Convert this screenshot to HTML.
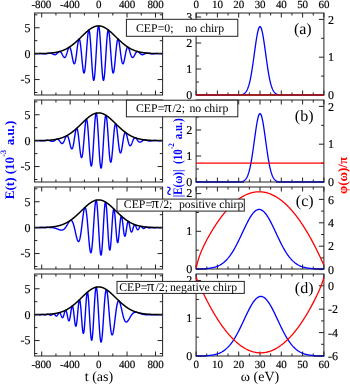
<!DOCTYPE html>
<html><head><meta charset="utf-8"><title>Figure</title>
<style>
html,body{margin:0;padding:0;background:#fff;}
svg{display:block}
text{font-family:"Liberation Serif",serif;text-rendering:geometricPrecision}
.tk{font-size:11px;letter-spacing:-0.15px;stroke:#000;stroke-width:0.15px}
.ty{font-size:12px;stroke:#000;stroke-width:0.15px}
.lg{font-size:11.8px}
.pl{font-size:16px}
.ax{font-size:14px}
.yl{font-size:13px;font-weight:bold}
</style></head><body>
<svg width="350" height="385" viewBox="0 0 350 385">
<rect width="350" height="385" fill="#fff"/>
<g>
<path d="M34.60,53.68 L34.71,53.68 L34.81,53.68 L34.92,53.68 L35.03,53.68 L35.13,53.68 L35.24,53.68 L35.35,53.68 L35.45,53.68 L35.56,53.68 L35.67,53.68 L35.77,53.68 L35.88,53.68 L35.99,53.68 L36.09,53.68 L36.20,53.68 L36.31,53.67 L36.41,53.67 L36.52,53.67 L36.63,53.67 L36.73,53.67 L36.84,53.66 L36.95,53.66 L37.05,53.66 L37.16,53.66 L37.27,53.65 L37.37,53.65 L37.48,53.65 L37.59,53.64 L37.69,53.64 L37.80,53.63 L37.91,53.63 L38.01,53.63 L38.12,53.62 L38.23,53.62 L38.33,53.61 L38.44,53.61 L38.55,53.61 L38.65,53.60 L38.76,53.60 L38.87,53.59 L38.97,53.59 L39.08,53.59 L39.19,53.58 L39.29,53.58 L39.40,53.58 L39.51,53.57 L39.61,53.57 L39.72,53.57 L39.83,53.57 L39.93,53.57 L40.04,53.57 L40.15,53.57 L40.25,53.57 L40.36,53.57 L40.47,53.57 L40.57,53.57 L40.68,53.57 L40.79,53.57 L40.89,53.57 L41.00,53.58 L41.11,53.58 L41.21,53.58 L41.32,53.59 L41.43,53.59 L41.53,53.60 L41.64,53.61 L41.75,53.61 L41.85,53.62 L41.96,53.63 L42.07,53.64 L42.17,53.64 L42.28,53.65 L42.39,53.66 L42.49,53.67 L42.60,53.68 L42.71,53.69 L42.81,53.70 L42.92,53.71 L43.03,53.72 L43.13,53.73 L43.24,53.74 L43.35,53.75 L43.45,53.77 L43.56,53.78 L43.67,53.79 L43.77,53.79 L43.88,53.80 L43.99,53.81 L44.09,53.82 L44.20,53.83 L44.31,53.84 L44.41,53.84 L44.52,53.85 L44.63,53.85 L44.73,53.86 L44.84,53.86 L44.95,53.86 L45.05,53.86 L45.16,53.86 L45.27,53.86 L45.37,53.86 L45.48,53.86 L45.59,53.85 L45.69,53.85 L45.80,53.84 L45.91,53.83 L46.01,53.82 L46.12,53.81 L46.23,53.80 L46.33,53.79 L46.44,53.77 L46.55,53.76 L46.65,53.74 L46.76,53.72 L46.87,53.70 L46.97,53.68 L47.08,53.66 L47.19,53.64 L47.29,53.62 L47.40,53.59 L47.51,53.57 L47.61,53.55 L47.72,53.52 L47.83,53.50 L47.93,53.47 L48.04,53.45 L48.15,53.42 L48.25,53.40 L48.36,53.37 L48.47,53.35 L48.57,53.33 L48.68,53.30 L48.79,53.28 L48.89,53.26 L49.00,53.24 L49.11,53.23 L49.21,53.21 L49.32,53.20 L49.43,53.18 L49.53,53.17 L49.64,53.17 L49.75,53.16 L49.85,53.15 L49.96,53.15 L50.07,53.15 L50.17,53.16 L50.28,53.16 L50.39,53.17 L50.49,53.18 L50.60,53.20 L50.71,53.21 L50.81,53.23 L50.92,53.26 L51.03,53.28 L51.13,53.31 L51.24,53.34 L51.35,53.38 L51.45,53.41 L51.56,53.45 L51.67,53.49 L51.77,53.53 L51.88,53.58 L51.99,53.63 L52.09,53.68 L52.20,53.73 L52.31,53.78 L52.41,53.83 L52.52,53.88 L52.63,53.94 L52.73,53.99 L52.84,54.05 L52.95,54.10 L53.05,54.16 L53.16,54.21 L53.27,54.26 L53.37,54.31 L53.48,54.36 L53.59,54.41 L53.69,54.46 L53.80,54.50 L53.91,54.54 L54.01,54.57 L54.12,54.61 L54.23,54.64 L54.33,54.66 L54.44,54.68 L54.55,54.70 L54.65,54.71 L54.76,54.72 L54.87,54.72 L54.97,54.71 L55.08,54.70 L55.19,54.69 L55.29,54.67 L55.40,54.64 L55.51,54.61 L55.61,54.57 L55.72,54.53 L55.83,54.48 L55.93,54.42 L56.04,54.36 L56.15,54.29 L56.25,54.22 L56.36,54.14 L56.47,54.06 L56.57,53.98 L56.68,53.89 L56.79,53.79 L56.89,53.69 L57.00,53.59 L57.11,53.49 L57.21,53.38 L57.32,53.27 L57.43,53.16 L57.53,53.05 L57.64,52.94 L57.75,52.83 L57.85,52.72 L57.96,52.61 L58.07,52.50 L58.17,52.40 L58.28,52.30 L58.39,52.20 L58.49,52.11 L58.60,52.02 L58.71,51.94 L58.81,51.86 L58.92,51.79 L59.03,51.73 L59.13,51.68 L59.24,51.63 L59.35,51.59 L59.45,51.56 L59.56,51.54 L59.67,51.54 L59.77,51.54 L59.88,51.55 L59.99,51.57 L60.09,51.61 L60.20,51.65 L60.31,51.71 L60.41,51.77 L60.52,51.85 L60.63,51.94 L60.73,52.04 L60.84,52.15 L60.95,52.28 L61.05,52.41 L61.16,52.55 L61.27,52.70 L61.37,52.86 L61.48,53.03 L61.59,53.21 L61.69,53.39 L61.80,53.58 L61.91,53.77 L62.01,53.97 L62.12,54.17 L62.23,54.38 L62.33,54.59 L62.44,54.80 L62.55,55.00 L62.65,55.21 L62.76,55.42 L62.87,55.62 L62.97,55.81 L63.08,56.00 L63.19,56.19 L63.29,56.37 L63.40,56.53 L63.51,56.69 L63.61,56.84 L63.72,56.97 L63.83,57.10 L63.93,57.20 L64.04,57.30 L64.15,57.38 L64.25,57.44 L64.36,57.48 L64.47,57.51 L64.57,57.52 L64.68,57.51 L64.79,57.48 L64.89,57.43 L65.00,57.36 L65.11,57.27 L65.21,57.16 L65.32,57.03 L65.43,56.88 L65.53,56.71 L65.64,56.53 L65.75,56.32 L65.85,56.10 L65.96,55.86 L66.07,55.60 L66.17,55.33 L66.28,55.04 L66.39,54.74 L66.49,54.42 L66.60,54.10 L66.71,53.76 L66.81,53.42 L66.92,53.07 L67.03,52.71 L67.13,52.35 L67.24,51.99 L67.35,51.63 L67.45,51.27 L67.56,50.92 L67.67,50.57 L67.77,50.22 L67.88,49.89 L67.99,49.56 L68.09,49.25 L68.20,48.96 L68.31,48.68 L68.41,48.42 L68.52,48.17 L68.63,47.95 L68.73,47.76 L68.84,47.58 L68.95,47.44 L69.05,47.32 L69.16,47.22 L69.27,47.16 L69.37,47.13 L69.48,47.13 L69.59,47.16 L69.69,47.22 L69.80,47.32 L69.91,47.45 L70.01,47.61 L70.12,47.80 L70.23,48.03 L70.33,48.29 L70.44,48.58 L70.55,48.90 L70.65,49.25 L70.76,49.63 L70.87,50.03 L70.97,50.47 L71.08,50.92 L71.19,51.40 L71.29,51.90 L71.40,52.42 L71.51,52.95 L71.61,53.50 L71.72,54.06 L71.83,54.62 L71.93,55.20 L72.04,55.78 L72.15,56.35 L72.25,56.93 L72.36,57.50 L72.47,58.07 L72.57,58.62 L72.68,59.16 L72.79,59.68 L72.89,60.19 L73.00,60.67 L73.11,61.12 L73.21,61.55 L73.32,61.95 L73.43,62.32 L73.53,62.65 L73.64,62.94 L73.75,63.19 L73.85,63.41 L73.96,63.58 L74.07,63.70 L74.17,63.78 L74.28,63.81 L74.39,63.79 L74.49,63.72 L74.60,63.60 L74.71,63.43 L74.81,63.21 L74.92,62.95 L75.03,62.63 L75.13,62.26 L75.24,61.85 L75.35,61.39 L75.45,60.88 L75.56,60.33 L75.67,59.74 L75.77,59.11 L75.88,58.45 L75.99,57.75 L76.09,57.01 L76.20,56.25 L76.31,55.47 L76.41,54.66 L76.52,53.84 L76.63,53.00 L76.73,52.15 L76.84,51.30 L76.95,50.44 L77.05,49.58 L77.16,48.74 L77.27,47.90 L77.37,47.07 L77.48,46.27 L77.59,45.49 L77.69,44.73 L77.80,44.01 L77.91,43.32 L78.01,42.67 L78.12,42.07 L78.23,41.51 L78.33,41.00 L78.44,40.55 L78.55,40.15 L78.65,39.81 L78.76,39.53 L78.87,39.31 L78.97,39.16 L79.08,39.08 L79.19,39.07 L79.29,39.12 L79.40,39.25 L79.51,39.45 L79.61,39.72 L79.72,40.05 L79.83,40.46 L79.93,40.94 L80.04,41.48 L80.15,42.09 L80.25,42.77 L80.36,43.50 L80.47,44.30 L80.57,45.14 L80.68,46.04 L80.79,46.99 L80.89,47.98 L81.00,49.02 L81.11,50.08 L81.21,51.18 L81.32,52.30 L81.43,53.45 L81.53,54.61 L81.64,55.78 L81.75,56.95 L81.85,58.12 L81.96,59.28 L82.07,60.44 L82.17,61.57 L82.28,62.68 L82.39,63.76 L82.49,64.80 L82.60,65.80 L82.71,66.76 L82.81,67.66 L82.92,68.51 L83.03,69.30 L83.13,70.02 L83.24,70.67 L83.35,71.25 L83.45,71.74 L83.56,72.16 L83.67,72.50 L83.77,72.75 L83.88,72.91 L83.99,72.98 L84.09,72.96 L84.20,72.84 L84.31,72.64 L84.41,72.34 L84.52,71.95 L84.63,71.47 L84.73,70.90 L84.84,70.24 L84.95,69.49 L85.05,68.67 L85.16,67.76 L85.27,66.78 L85.37,65.72 L85.48,64.60 L85.59,63.42 L85.69,62.17 L85.80,60.88 L85.91,59.54 L86.01,58.16 L86.12,56.74 L86.23,55.30 L86.33,53.83 L86.44,52.36 L86.55,50.87 L86.65,49.39 L86.76,47.91 L86.87,46.45 L86.97,45.01 L87.08,43.60 L87.19,42.22 L87.29,40.89 L87.40,39.61 L87.51,38.38 L87.61,37.22 L87.72,36.12 L87.83,35.10 L87.93,34.16 L88.04,33.31 L88.15,32.54 L88.25,31.87 L88.36,31.30 L88.47,30.83 L88.57,30.46 L88.68,30.20 L88.79,30.05 L88.89,30.01 L89.00,30.09 L89.11,30.27 L89.21,30.57 L89.32,30.98 L89.43,31.50 L89.53,32.12 L89.64,32.86 L89.75,33.69 L89.85,34.63 L89.96,35.66 L90.07,36.78 L90.17,38.00 L90.28,39.29 L90.39,40.66 L90.49,42.09 L90.60,43.59 L90.71,45.15 L90.81,46.76 L90.92,48.40 L91.03,50.09 L91.13,51.79 L91.24,53.52 L91.35,55.26 L91.45,56.99 L91.56,58.72 L91.67,60.44 L91.77,62.13 L91.88,63.79 L91.99,65.41 L92.09,66.98 L92.20,68.50 L92.31,69.95 L92.41,71.33 L92.52,72.64 L92.63,73.86 L92.73,74.99 L92.84,76.03 L92.95,76.96 L93.05,77.79 L93.16,78.50 L93.27,79.10 L93.37,79.59 L93.48,79.95 L93.59,80.19 L93.69,80.31 L93.80,80.30 L93.91,80.16 L94.01,79.90 L94.12,79.52 L94.23,79.01 L94.33,78.38 L94.44,77.63 L94.55,76.76 L94.65,75.79 L94.76,74.70 L94.87,73.52 L94.97,72.23 L95.08,70.86 L95.19,69.40 L95.29,67.87 L95.40,66.26 L95.51,64.59 L95.61,62.86 L95.72,61.09 L95.83,59.28 L95.93,57.44 L96.04,55.57 L96.15,53.70 L96.25,51.82 L96.36,49.94 L96.47,48.08 L96.57,46.25 L96.68,44.44 L96.79,42.68 L96.89,40.97 L97.00,39.31 L97.11,37.72 L97.21,36.21 L97.32,34.77 L97.43,33.42 L97.53,32.17 L97.64,31.01 L97.75,29.96 L97.85,29.03 L97.96,28.21 L98.07,27.50 L98.17,26.93 L98.28,26.47 L98.39,26.15 L98.49,25.95 L98.60,25.89 L98.71,25.95 L98.81,26.15 L98.92,26.47 L99.03,26.93 L99.13,27.50 L99.24,28.21 L99.35,29.03 L99.45,29.96 L99.56,31.01 L99.67,32.17 L99.77,33.42 L99.88,34.77 L99.99,36.21 L100.09,37.72 L100.20,39.31 L100.31,40.97 L100.41,42.68 L100.52,44.44 L100.63,46.25 L100.73,48.08 L100.84,49.94 L100.95,51.82 L101.05,53.70 L101.16,55.57 L101.27,57.44 L101.37,59.28 L101.48,61.09 L101.59,62.86 L101.69,64.59 L101.80,66.26 L101.91,67.87 L102.01,69.40 L102.12,70.86 L102.23,72.23 L102.33,73.52 L102.44,74.70 L102.55,75.79 L102.65,76.76 L102.76,77.63 L102.87,78.38 L102.97,79.01 L103.08,79.52 L103.19,79.90 L103.29,80.16 L103.40,80.30 L103.51,80.31 L103.61,80.19 L103.72,79.95 L103.83,79.59 L103.93,79.10 L104.04,78.50 L104.15,77.79 L104.25,76.96 L104.36,76.03 L104.47,74.99 L104.57,73.86 L104.68,72.64 L104.79,71.33 L104.89,69.95 L105.00,68.50 L105.11,66.98 L105.21,65.41 L105.32,63.79 L105.43,62.13 L105.53,60.44 L105.64,58.72 L105.75,56.99 L105.85,55.26 L105.96,53.52 L106.07,51.79 L106.17,50.09 L106.28,48.40 L106.39,46.76 L106.49,45.15 L106.60,43.59 L106.71,42.09 L106.81,40.66 L106.92,39.29 L107.03,38.00 L107.13,36.78 L107.24,35.66 L107.35,34.63 L107.45,33.69 L107.56,32.86 L107.67,32.12 L107.77,31.50 L107.88,30.98 L107.99,30.57 L108.09,30.27 L108.20,30.09 L108.31,30.01 L108.41,30.05 L108.52,30.20 L108.63,30.46 L108.73,30.83 L108.84,31.30 L108.95,31.87 L109.05,32.54 L109.16,33.31 L109.27,34.16 L109.37,35.10 L109.48,36.12 L109.59,37.22 L109.69,38.38 L109.80,39.61 L109.91,40.89 L110.01,42.22 L110.12,43.60 L110.23,45.01 L110.33,46.45 L110.44,47.91 L110.55,49.39 L110.65,50.87 L110.76,52.36 L110.87,53.83 L110.97,55.30 L111.08,56.74 L111.19,58.16 L111.29,59.54 L111.40,60.88 L111.51,62.17 L111.61,63.42 L111.72,64.60 L111.83,65.72 L111.93,66.78 L112.04,67.76 L112.15,68.67 L112.25,69.49 L112.36,70.24 L112.47,70.90 L112.57,71.47 L112.68,71.95 L112.79,72.34 L112.89,72.64 L113.00,72.84 L113.11,72.96 L113.21,72.98 L113.32,72.91 L113.43,72.75 L113.53,72.50 L113.64,72.16 L113.75,71.74 L113.85,71.25 L113.96,70.67 L114.07,70.02 L114.17,69.30 L114.28,68.51 L114.39,67.66 L114.49,66.76 L114.60,65.80 L114.71,64.80 L114.81,63.76 L114.92,62.68 L115.03,61.57 L115.13,60.44 L115.24,59.28 L115.35,58.12 L115.45,56.95 L115.56,55.78 L115.67,54.61 L115.77,53.45 L115.88,52.30 L115.99,51.18 L116.09,50.08 L116.20,49.02 L116.31,47.98 L116.41,46.99 L116.52,46.04 L116.63,45.14 L116.73,44.30 L116.84,43.50 L116.95,42.77 L117.05,42.09 L117.16,41.48 L117.27,40.94 L117.37,40.46 L117.48,40.05 L117.59,39.72 L117.69,39.45 L117.80,39.25 L117.91,39.12 L118.01,39.07 L118.12,39.08 L118.23,39.16 L118.33,39.31 L118.44,39.53 L118.55,39.81 L118.65,40.15 L118.76,40.55 L118.87,41.00 L118.97,41.51 L119.08,42.07 L119.19,42.67 L119.29,43.32 L119.40,44.01 L119.51,44.73 L119.61,45.49 L119.72,46.27 L119.83,47.07 L119.93,47.90 L120.04,48.74 L120.15,49.58 L120.25,50.44 L120.36,51.30 L120.47,52.15 L120.57,53.00 L120.68,53.84 L120.79,54.66 L120.89,55.47 L121.00,56.25 L121.11,57.01 L121.21,57.75 L121.32,58.45 L121.43,59.11 L121.53,59.74 L121.64,60.33 L121.75,60.88 L121.85,61.39 L121.96,61.85 L122.07,62.26 L122.17,62.63 L122.28,62.95 L122.39,63.21 L122.49,63.43 L122.60,63.60 L122.71,63.72 L122.81,63.79 L122.92,63.81 L123.03,63.78 L123.13,63.70 L123.24,63.58 L123.35,63.41 L123.45,63.19 L123.56,62.94 L123.67,62.65 L123.77,62.32 L123.88,61.95 L123.99,61.55 L124.09,61.12 L124.20,60.67 L124.31,60.19 L124.41,59.68 L124.52,59.16 L124.63,58.62 L124.73,58.07 L124.84,57.50 L124.95,56.93 L125.05,56.35 L125.16,55.78 L125.27,55.20 L125.37,54.62 L125.48,54.06 L125.59,53.50 L125.69,52.95 L125.80,52.42 L125.91,51.90 L126.01,51.40 L126.12,50.92 L126.23,50.47 L126.33,50.03 L126.44,49.63 L126.55,49.25 L126.65,48.90 L126.76,48.58 L126.87,48.29 L126.97,48.03 L127.08,47.80 L127.19,47.61 L127.29,47.45 L127.40,47.32 L127.51,47.22 L127.61,47.16 L127.72,47.13 L127.83,47.13 L127.93,47.16 L128.04,47.22 L128.15,47.32 L128.25,47.44 L128.36,47.58 L128.47,47.76 L128.57,47.95 L128.68,48.17 L128.79,48.42 L128.89,48.68 L129.00,48.96 L129.11,49.25 L129.21,49.56 L129.32,49.89 L129.43,50.22 L129.53,50.57 L129.64,50.92 L129.75,51.27 L129.85,51.63 L129.96,51.99 L130.07,52.35 L130.17,52.71 L130.28,53.07 L130.39,53.42 L130.49,53.76 L130.60,54.10 L130.71,54.42 L130.81,54.74 L130.92,55.04 L131.03,55.33 L131.13,55.60 L131.24,55.86 L131.35,56.10 L131.45,56.32 L131.56,56.53 L131.67,56.71 L131.77,56.88 L131.88,57.03 L131.99,57.16 L132.09,57.27 L132.20,57.36 L132.31,57.43 L132.41,57.48 L132.52,57.51 L132.63,57.52 L132.73,57.51 L132.84,57.48 L132.95,57.44 L133.05,57.38 L133.16,57.30 L133.27,57.20 L133.37,57.10 L133.48,56.97 L133.59,56.84 L133.69,56.69 L133.80,56.53 L133.91,56.37 L134.01,56.19 L134.12,56.00 L134.23,55.81 L134.33,55.62 L134.44,55.42 L134.55,55.21 L134.65,55.00 L134.76,54.80 L134.87,54.59 L134.97,54.38 L135.08,54.17 L135.19,53.97 L135.29,53.77 L135.40,53.58 L135.51,53.39 L135.61,53.21 L135.72,53.03 L135.83,52.86 L135.93,52.70 L136.04,52.55 L136.15,52.41 L136.25,52.28 L136.36,52.15 L136.47,52.04 L136.57,51.94 L136.68,51.85 L136.79,51.77 L136.89,51.71 L137.00,51.65 L137.11,51.61 L137.21,51.57 L137.32,51.55 L137.43,51.54 L137.53,51.54 L137.64,51.54 L137.75,51.56 L137.85,51.59 L137.96,51.63 L138.07,51.68 L138.17,51.73 L138.28,51.79 L138.39,51.86 L138.49,51.94 L138.60,52.02 L138.71,52.11 L138.81,52.20 L138.92,52.30 L139.03,52.40 L139.13,52.50 L139.24,52.61 L139.35,52.72 L139.45,52.83 L139.56,52.94 L139.67,53.05 L139.77,53.16 L139.88,53.27 L139.99,53.38 L140.09,53.49 L140.20,53.59 L140.31,53.69 L140.41,53.79 L140.52,53.89 L140.63,53.98 L140.73,54.06 L140.84,54.14 L140.95,54.22 L141.05,54.29 L141.16,54.36 L141.27,54.42 L141.37,54.48 L141.48,54.53 L141.59,54.57 L141.69,54.61 L141.80,54.64 L141.91,54.67 L142.01,54.69 L142.12,54.70 L142.23,54.71 L142.33,54.72 L142.44,54.72 L142.55,54.71 L142.65,54.70 L142.76,54.68 L142.87,54.66 L142.97,54.64 L143.08,54.61 L143.19,54.57 L143.29,54.54 L143.40,54.50 L143.51,54.46 L143.61,54.41 L143.72,54.36 L143.83,54.31 L143.93,54.26 L144.04,54.21 L144.15,54.16 L144.25,54.10 L144.36,54.05 L144.47,53.99 L144.57,53.94 L144.68,53.88 L144.79,53.83 L144.89,53.78 L145.00,53.73 L145.11,53.68 L145.21,53.63 L145.32,53.58 L145.43,53.53 L145.53,53.49 L145.64,53.45 L145.75,53.41 L145.85,53.38 L145.96,53.34 L146.07,53.31 L146.17,53.28 L146.28,53.26 L146.39,53.23 L146.49,53.21 L146.60,53.20 L146.71,53.18 L146.81,53.17 L146.92,53.16 L147.03,53.16 L147.13,53.15 L147.24,53.15 L147.35,53.15 L147.45,53.16 L147.56,53.17 L147.67,53.17 L147.77,53.18 L147.88,53.20 L147.99,53.21 L148.09,53.23 L148.20,53.24 L148.31,53.26 L148.41,53.28 L148.52,53.30 L148.63,53.33 L148.73,53.35 L148.84,53.37 L148.95,53.40 L149.05,53.42 L149.16,53.45 L149.27,53.47 L149.37,53.50 L149.48,53.52 L149.59,53.55 L149.69,53.57 L149.80,53.59 L149.91,53.62 L150.01,53.64 L150.12,53.66 L150.23,53.68 L150.33,53.70 L150.44,53.72 L150.55,53.74 L150.65,53.76 L150.76,53.77 L150.87,53.79 L150.97,53.80 L151.08,53.81 L151.19,53.82 L151.29,53.83 L151.40,53.84 L151.51,53.85 L151.61,53.85 L151.72,53.86 L151.83,53.86 L151.93,53.86 L152.04,53.86 L152.15,53.86 L152.25,53.86 L152.36,53.86 L152.47,53.86 L152.57,53.85 L152.68,53.85 L152.79,53.84 L152.89,53.84 L153.00,53.83 L153.11,53.82 L153.21,53.81 L153.32,53.80 L153.43,53.79 L153.53,53.79 L153.64,53.78 L153.75,53.77 L153.85,53.75 L153.96,53.74 L154.07,53.73 L154.17,53.72 L154.28,53.71 L154.39,53.70 L154.49,53.69 L154.60,53.68 L154.71,53.67 L154.81,53.66 L154.92,53.65 L155.03,53.64 L155.13,53.64 L155.24,53.63 L155.35,53.62 L155.45,53.61 L155.56,53.61 L155.67,53.60 L155.77,53.59 L155.88,53.59 L155.99,53.58 L156.09,53.58 L156.20,53.58 L156.31,53.57 L156.41,53.57 L156.52,53.57 L156.63,53.57 L156.73,53.57 L156.84,53.57 L156.95,53.57 L157.05,53.57 L157.16,53.57 L157.27,53.57 L157.37,53.57 L157.48,53.57 L157.59,53.57 L157.69,53.57 L157.80,53.58 L157.91,53.58 L158.01,53.58 L158.12,53.59 L158.23,53.59 L158.33,53.59 L158.44,53.60 L158.55,53.60 L158.65,53.61 L158.76,53.61 L158.87,53.61 L158.97,53.62 L159.08,53.62 L159.19,53.63 L159.29,53.63 L159.40,53.63 L159.51,53.64 L159.61,53.64 L159.72,53.65 L159.83,53.65 L159.93,53.65 L160.04,53.66 L160.15,53.66 L160.25,53.66 L160.36,53.66 L160.47,53.67 L160.57,53.67 L160.68,53.67 L160.79,53.67 L160.89,53.67 L161.00,53.68 L161.11,53.68 L161.21,53.68 L161.32,53.68 L161.43,53.68 L161.53,53.68 L161.64,53.68 L161.75,53.68 L161.85,53.68 L161.96,53.68 L162.07,53.68 L162.17,53.68 L162.28,53.68 L162.39,53.68 L162.49,53.68 L162.60,53.68" fill="none" stroke="#0000ff" stroke-width="1.4" stroke-linejoin="round"/>
<path d="M34.60,53.62 L34.71,53.62 L34.81,53.62 L34.92,53.62 L35.03,53.62 L35.13,53.62 L35.24,53.62 L35.35,53.62 L35.45,53.62 L35.56,53.62 L35.67,53.62 L35.77,53.61 L35.88,53.61 L35.99,53.61 L36.09,53.61 L36.20,53.61 L36.31,53.61 L36.41,53.61 L36.52,53.61 L36.63,53.61 L36.73,53.61 L36.84,53.61 L36.95,53.60 L37.05,53.60 L37.16,53.60 L37.27,53.60 L37.37,53.60 L37.48,53.60 L37.59,53.60 L37.69,53.60 L37.80,53.60 L37.91,53.59 L38.01,53.59 L38.12,53.59 L38.23,53.59 L38.33,53.59 L38.44,53.59 L38.55,53.59 L38.65,53.59 L38.76,53.58 L38.87,53.58 L38.97,53.58 L39.08,53.58 L39.19,53.58 L39.29,53.58 L39.40,53.58 L39.51,53.57 L39.61,53.57 L39.72,53.57 L39.83,53.57 L39.93,53.57 L40.04,53.57 L40.15,53.56 L40.25,53.56 L40.36,53.56 L40.47,53.56 L40.57,53.56 L40.68,53.55 L40.79,53.55 L40.89,53.55 L41.00,53.55 L41.11,53.55 L41.21,53.54 L41.32,53.54 L41.43,53.54 L41.53,53.54 L41.64,53.53 L41.75,53.53 L41.85,53.53 L41.96,53.53 L42.07,53.52 L42.17,53.52 L42.28,53.52 L42.39,53.52 L42.49,53.51 L42.60,53.51 L42.71,53.51 L42.81,53.50 L42.92,53.50 L43.03,53.50 L43.13,53.50 L43.24,53.49 L43.35,53.49 L43.45,53.49 L43.56,53.48 L43.67,53.48 L43.77,53.48 L43.88,53.47 L43.99,53.47 L44.09,53.47 L44.20,53.46 L44.31,53.46 L44.41,53.45 L44.52,53.45 L44.63,53.45 L44.73,53.44 L44.84,53.44 L44.95,53.43 L45.05,53.43 L45.16,53.43 L45.27,53.42 L45.37,53.42 L45.48,53.41 L45.59,53.41 L45.69,53.40 L45.80,53.40 L45.91,53.39 L46.01,53.39 L46.12,53.38 L46.23,53.38 L46.33,53.37 L46.44,53.37 L46.55,53.36 L46.65,53.36 L46.76,53.35 L46.87,53.35 L46.97,53.34 L47.08,53.34 L47.19,53.33 L47.29,53.32 L47.40,53.32 L47.51,53.31 L47.61,53.31 L47.72,53.30 L47.83,53.29 L47.93,53.29 L48.04,53.28 L48.15,53.27 L48.25,53.27 L48.36,53.26 L48.47,53.25 L48.57,53.24 L48.68,53.24 L48.79,53.23 L48.89,53.22 L49.00,53.21 L49.11,53.21 L49.21,53.20 L49.32,53.19 L49.43,53.18 L49.53,53.17 L49.64,53.16 L49.75,53.16 L49.85,53.15 L49.96,53.14 L50.07,53.13 L50.17,53.12 L50.28,53.11 L50.39,53.10 L50.49,53.09 L50.60,53.08 L50.71,53.07 L50.81,53.06 L50.92,53.05 L51.03,53.04 L51.13,53.03 L51.24,53.02 L51.35,53.01 L51.45,53.00 L51.56,52.99 L51.67,52.98 L51.77,52.97 L51.88,52.95 L51.99,52.94 L52.09,52.93 L52.20,52.92 L52.31,52.91 L52.41,52.89 L52.52,52.88 L52.63,52.87 L52.73,52.85 L52.84,52.84 L52.95,52.83 L53.05,52.81 L53.16,52.80 L53.27,52.79 L53.37,52.77 L53.48,52.76 L53.59,52.74 L53.69,52.73 L53.80,52.71 L53.91,52.70 L54.01,52.68 L54.12,52.67 L54.23,52.65 L54.33,52.63 L54.44,52.62 L54.55,52.60 L54.65,52.58 L54.76,52.57 L54.87,52.55 L54.97,52.53 L55.08,52.52 L55.19,52.50 L55.29,52.48 L55.40,52.46 L55.51,52.44 L55.61,52.42 L55.72,52.40 L55.83,52.39 L55.93,52.37 L56.04,52.35 L56.15,52.33 L56.25,52.31 L56.36,52.28 L56.47,52.26 L56.57,52.24 L56.68,52.22 L56.79,52.20 L56.89,52.18 L57.00,52.16 L57.11,52.13 L57.21,52.11 L57.32,52.09 L57.43,52.06 L57.53,52.04 L57.64,52.02 L57.75,51.99 L57.85,51.97 L57.96,51.94 L58.07,51.92 L58.17,51.89 L58.28,51.87 L58.39,51.84 L58.49,51.81 L58.60,51.79 L58.71,51.76 L58.81,51.73 L58.92,51.70 L59.03,51.68 L59.13,51.65 L59.24,51.62 L59.35,51.59 L59.45,51.56 L59.56,51.53 L59.67,51.50 L59.77,51.47 L59.88,51.44 L59.99,51.41 L60.09,51.38 L60.20,51.35 L60.31,51.32 L60.41,51.28 L60.52,51.25 L60.63,51.22 L60.73,51.18 L60.84,51.15 L60.95,51.12 L61.05,51.08 L61.16,51.05 L61.27,51.01 L61.37,50.97 L61.48,50.94 L61.59,50.90 L61.69,50.87 L61.80,50.83 L61.91,50.79 L62.01,50.75 L62.12,50.71 L62.23,50.68 L62.33,50.64 L62.44,50.60 L62.55,50.56 L62.65,50.52 L62.76,50.48 L62.87,50.43 L62.97,50.39 L63.08,50.35 L63.19,50.31 L63.29,50.27 L63.40,50.22 L63.51,50.18 L63.61,50.13 L63.72,50.09 L63.83,50.05 L63.93,50.00 L64.04,49.95 L64.15,49.91 L64.25,49.86 L64.36,49.81 L64.47,49.77 L64.57,49.72 L64.68,49.67 L64.79,49.62 L64.89,49.57 L65.00,49.52 L65.11,49.47 L65.21,49.42 L65.32,49.37 L65.43,49.32 L65.53,49.27 L65.64,49.21 L65.75,49.16 L65.85,49.11 L65.96,49.05 L66.07,49.00 L66.17,48.95 L66.28,48.89 L66.39,48.83 L66.49,48.78 L66.60,48.72 L66.71,48.67 L66.81,48.61 L66.92,48.55 L67.03,48.49 L67.13,48.43 L67.24,48.37 L67.35,48.31 L67.45,48.25 L67.56,48.19 L67.67,48.13 L67.77,48.07 L67.88,48.01 L67.99,47.94 L68.09,47.88 L68.20,47.82 L68.31,47.75 L68.41,47.69 L68.52,47.62 L68.63,47.56 L68.73,47.49 L68.84,47.43 L68.95,47.36 L69.05,47.29 L69.16,47.22 L69.27,47.16 L69.37,47.09 L69.48,47.02 L69.59,46.95 L69.69,46.88 L69.80,46.81 L69.91,46.73 L70.01,46.66 L70.12,46.59 L70.23,46.52 L70.33,46.45 L70.44,46.37 L70.55,46.30 L70.65,46.22 L70.76,46.15 L70.87,46.07 L70.97,46.00 L71.08,45.92 L71.19,45.84 L71.29,45.77 L71.40,45.69 L71.51,45.61 L71.61,45.53 L71.72,45.45 L71.83,45.37 L71.93,45.29 L72.04,45.21 L72.15,45.13 L72.25,45.05 L72.36,44.97 L72.47,44.89 L72.57,44.80 L72.68,44.72 L72.79,44.64 L72.89,44.55 L73.00,44.47 L73.11,44.38 L73.21,44.30 L73.32,44.21 L73.43,44.13 L73.53,44.04 L73.64,43.95 L73.75,43.86 L73.85,43.78 L73.96,43.69 L74.07,43.60 L74.17,43.51 L74.28,43.42 L74.39,43.33 L74.49,43.24 L74.60,43.15 L74.71,43.06 L74.81,42.97 L74.92,42.88 L75.03,42.79 L75.13,42.69 L75.24,42.60 L75.35,42.51 L75.45,42.41 L75.56,42.32 L75.67,42.23 L75.77,42.13 L75.88,42.04 L75.99,41.94 L76.09,41.84 L76.20,41.75 L76.31,41.65 L76.41,41.56 L76.52,41.46 L76.63,41.36 L76.73,41.27 L76.84,41.17 L76.95,41.07 L77.05,40.97 L77.16,40.87 L77.27,40.77 L77.37,40.67 L77.48,40.58 L77.59,40.48 L77.69,40.38 L77.80,40.28 L77.91,40.18 L78.01,40.08 L78.12,39.97 L78.23,39.87 L78.33,39.77 L78.44,39.67 L78.55,39.57 L78.65,39.47 L78.76,39.37 L78.87,39.26 L78.97,39.16 L79.08,39.06 L79.19,38.96 L79.29,38.85 L79.40,38.75 L79.51,38.65 L79.61,38.54 L79.72,38.44 L79.83,38.34 L79.93,38.23 L80.04,38.13 L80.15,38.03 L80.25,37.92 L80.36,37.82 L80.47,37.71 L80.57,37.61 L80.68,37.51 L80.79,37.40 L80.89,37.30 L81.00,37.19 L81.11,37.09 L81.21,36.98 L81.32,36.88 L81.43,36.78 L81.53,36.67 L81.64,36.57 L81.75,36.46 L81.85,36.36 L81.96,36.25 L82.07,36.15 L82.17,36.04 L82.28,35.94 L82.39,35.84 L82.49,35.73 L82.60,35.63 L82.71,35.52 L82.81,35.42 L82.92,35.32 L83.03,35.21 L83.13,35.11 L83.24,35.01 L83.35,34.90 L83.45,34.80 L83.56,34.70 L83.67,34.60 L83.77,34.49 L83.88,34.39 L83.99,34.29 L84.09,34.19 L84.20,34.09 L84.31,33.99 L84.41,33.88 L84.52,33.78 L84.63,33.68 L84.73,33.58 L84.84,33.48 L84.95,33.38 L85.05,33.28 L85.16,33.18 L85.27,33.08 L85.37,32.99 L85.48,32.89 L85.59,32.79 L85.69,32.69 L85.80,32.59 L85.91,32.50 L86.01,32.40 L86.12,32.31 L86.23,32.21 L86.33,32.11 L86.44,32.02 L86.55,31.92 L86.65,31.83 L86.76,31.74 L86.87,31.64 L86.97,31.55 L87.08,31.46 L87.19,31.37 L87.29,31.28 L87.40,31.18 L87.51,31.09 L87.61,31.00 L87.72,30.91 L87.83,30.83 L87.93,30.74 L88.04,30.65 L88.15,30.56 L88.25,30.48 L88.36,30.39 L88.47,30.30 L88.57,30.22 L88.68,30.14 L88.79,30.05 L88.89,29.97 L89.00,29.89 L89.11,29.80 L89.21,29.72 L89.32,29.64 L89.43,29.56 L89.53,29.48 L89.64,29.40 L89.75,29.33 L89.85,29.25 L89.96,29.17 L90.07,29.10 L90.17,29.02 L90.28,28.95 L90.39,28.87 L90.49,28.80 L90.60,28.73 L90.71,28.66 L90.81,28.59 L90.92,28.52 L91.03,28.45 L91.13,28.38 L91.24,28.31 L91.35,28.25 L91.45,28.18 L91.56,28.11 L91.67,28.05 L91.77,27.99 L91.88,27.92 L91.99,27.86 L92.09,27.80 L92.20,27.74 L92.31,27.68 L92.41,27.62 L92.52,27.57 L92.63,27.51 L92.73,27.45 L92.84,27.40 L92.95,27.34 L93.05,27.29 L93.16,27.24 L93.27,27.19 L93.37,27.14 L93.48,27.09 L93.59,27.04 L93.69,26.99 L93.80,26.94 L93.91,26.90 L94.01,26.85 L94.12,26.81 L94.23,26.77 L94.33,26.73 L94.44,26.68 L94.55,26.64 L94.65,26.61 L94.76,26.57 L94.87,26.53 L94.97,26.49 L95.08,26.46 L95.19,26.43 L95.29,26.39 L95.40,26.36 L95.51,26.33 L95.61,26.30 L95.72,26.27 L95.83,26.24 L95.93,26.22 L96.04,26.19 L96.15,26.17 L96.25,26.14 L96.36,26.12 L96.47,26.10 L96.57,26.08 L96.68,26.06 L96.79,26.04 L96.89,26.02 L97.00,26.00 L97.11,25.99 L97.21,25.98 L97.32,25.96 L97.43,25.95 L97.53,25.94 L97.64,25.93 L97.75,25.92 L97.85,25.91 L97.96,25.90 L98.07,25.90 L98.17,25.89 L98.28,25.89 L98.39,25.89 L98.49,25.89 L98.60,25.89 L98.71,25.89 L98.81,25.89 L98.92,25.89 L99.03,25.89 L99.13,25.90 L99.24,25.90 L99.35,25.91 L99.45,25.92 L99.56,25.93 L99.67,25.94 L99.77,25.95 L99.88,25.96 L99.99,25.98 L100.09,25.99 L100.20,26.00 L100.31,26.02 L100.41,26.04 L100.52,26.06 L100.63,26.08 L100.73,26.10 L100.84,26.12 L100.95,26.14 L101.05,26.17 L101.16,26.19 L101.27,26.22 L101.37,26.24 L101.48,26.27 L101.59,26.30 L101.69,26.33 L101.80,26.36 L101.91,26.39 L102.01,26.43 L102.12,26.46 L102.23,26.49 L102.33,26.53 L102.44,26.57 L102.55,26.61 L102.65,26.64 L102.76,26.68 L102.87,26.73 L102.97,26.77 L103.08,26.81 L103.19,26.85 L103.29,26.90 L103.40,26.94 L103.51,26.99 L103.61,27.04 L103.72,27.09 L103.83,27.14 L103.93,27.19 L104.04,27.24 L104.15,27.29 L104.25,27.34 L104.36,27.40 L104.47,27.45 L104.57,27.51 L104.68,27.57 L104.79,27.62 L104.89,27.68 L105.00,27.74 L105.11,27.80 L105.21,27.86 L105.32,27.92 L105.43,27.99 L105.53,28.05 L105.64,28.11 L105.75,28.18 L105.85,28.25 L105.96,28.31 L106.07,28.38 L106.17,28.45 L106.28,28.52 L106.39,28.59 L106.49,28.66 L106.60,28.73 L106.71,28.80 L106.81,28.87 L106.92,28.95 L107.03,29.02 L107.13,29.10 L107.24,29.17 L107.35,29.25 L107.45,29.33 L107.56,29.40 L107.67,29.48 L107.77,29.56 L107.88,29.64 L107.99,29.72 L108.09,29.80 L108.20,29.89 L108.31,29.97 L108.41,30.05 L108.52,30.14 L108.63,30.22 L108.73,30.30 L108.84,30.39 L108.95,30.48 L109.05,30.56 L109.16,30.65 L109.27,30.74 L109.37,30.83 L109.48,30.91 L109.59,31.00 L109.69,31.09 L109.80,31.18 L109.91,31.28 L110.01,31.37 L110.12,31.46 L110.23,31.55 L110.33,31.64 L110.44,31.74 L110.55,31.83 L110.65,31.92 L110.76,32.02 L110.87,32.11 L110.97,32.21 L111.08,32.31 L111.19,32.40 L111.29,32.50 L111.40,32.59 L111.51,32.69 L111.61,32.79 L111.72,32.89 L111.83,32.99 L111.93,33.08 L112.04,33.18 L112.15,33.28 L112.25,33.38 L112.36,33.48 L112.47,33.58 L112.57,33.68 L112.68,33.78 L112.79,33.88 L112.89,33.99 L113.00,34.09 L113.11,34.19 L113.21,34.29 L113.32,34.39 L113.43,34.49 L113.53,34.60 L113.64,34.70 L113.75,34.80 L113.85,34.90 L113.96,35.01 L114.07,35.11 L114.17,35.21 L114.28,35.32 L114.39,35.42 L114.49,35.52 L114.60,35.63 L114.71,35.73 L114.81,35.84 L114.92,35.94 L115.03,36.04 L115.13,36.15 L115.24,36.25 L115.35,36.36 L115.45,36.46 L115.56,36.57 L115.67,36.67 L115.77,36.78 L115.88,36.88 L115.99,36.98 L116.09,37.09 L116.20,37.19 L116.31,37.30 L116.41,37.40 L116.52,37.51 L116.63,37.61 L116.73,37.71 L116.84,37.82 L116.95,37.92 L117.05,38.03 L117.16,38.13 L117.27,38.23 L117.37,38.34 L117.48,38.44 L117.59,38.54 L117.69,38.65 L117.80,38.75 L117.91,38.85 L118.01,38.96 L118.12,39.06 L118.23,39.16 L118.33,39.26 L118.44,39.37 L118.55,39.47 L118.65,39.57 L118.76,39.67 L118.87,39.77 L118.97,39.87 L119.08,39.97 L119.19,40.08 L119.29,40.18 L119.40,40.28 L119.51,40.38 L119.61,40.48 L119.72,40.58 L119.83,40.67 L119.93,40.77 L120.04,40.87 L120.15,40.97 L120.25,41.07 L120.36,41.17 L120.47,41.27 L120.57,41.36 L120.68,41.46 L120.79,41.56 L120.89,41.65 L121.00,41.75 L121.11,41.84 L121.21,41.94 L121.32,42.04 L121.43,42.13 L121.53,42.23 L121.64,42.32 L121.75,42.41 L121.85,42.51 L121.96,42.60 L122.07,42.69 L122.17,42.79 L122.28,42.88 L122.39,42.97 L122.49,43.06 L122.60,43.15 L122.71,43.24 L122.81,43.33 L122.92,43.42 L123.03,43.51 L123.13,43.60 L123.24,43.69 L123.35,43.78 L123.45,43.86 L123.56,43.95 L123.67,44.04 L123.77,44.13 L123.88,44.21 L123.99,44.30 L124.09,44.38 L124.20,44.47 L124.31,44.55 L124.41,44.64 L124.52,44.72 L124.63,44.80 L124.73,44.89 L124.84,44.97 L124.95,45.05 L125.05,45.13 L125.16,45.21 L125.27,45.29 L125.37,45.37 L125.48,45.45 L125.59,45.53 L125.69,45.61 L125.80,45.69 L125.91,45.77 L126.01,45.84 L126.12,45.92 L126.23,46.00 L126.33,46.07 L126.44,46.15 L126.55,46.22 L126.65,46.30 L126.76,46.37 L126.87,46.45 L126.97,46.52 L127.08,46.59 L127.19,46.66 L127.29,46.73 L127.40,46.81 L127.51,46.88 L127.61,46.95 L127.72,47.02 L127.83,47.09 L127.93,47.16 L128.04,47.22 L128.15,47.29 L128.25,47.36 L128.36,47.43 L128.47,47.49 L128.57,47.56 L128.68,47.62 L128.79,47.69 L128.89,47.75 L129.00,47.82 L129.11,47.88 L129.21,47.94 L129.32,48.01 L129.43,48.07 L129.53,48.13 L129.64,48.19 L129.75,48.25 L129.85,48.31 L129.96,48.37 L130.07,48.43 L130.17,48.49 L130.28,48.55 L130.39,48.61 L130.49,48.67 L130.60,48.72 L130.71,48.78 L130.81,48.83 L130.92,48.89 L131.03,48.95 L131.13,49.00 L131.24,49.05 L131.35,49.11 L131.45,49.16 L131.56,49.21 L131.67,49.27 L131.77,49.32 L131.88,49.37 L131.99,49.42 L132.09,49.47 L132.20,49.52 L132.31,49.57 L132.41,49.62 L132.52,49.67 L132.63,49.72 L132.73,49.77 L132.84,49.81 L132.95,49.86 L133.05,49.91 L133.16,49.95 L133.27,50.00 L133.37,50.05 L133.48,50.09 L133.59,50.13 L133.69,50.18 L133.80,50.22 L133.91,50.27 L134.01,50.31 L134.12,50.35 L134.23,50.39 L134.33,50.43 L134.44,50.48 L134.55,50.52 L134.65,50.56 L134.76,50.60 L134.87,50.64 L134.97,50.68 L135.08,50.71 L135.19,50.75 L135.29,50.79 L135.40,50.83 L135.51,50.87 L135.61,50.90 L135.72,50.94 L135.83,50.97 L135.93,51.01 L136.04,51.05 L136.15,51.08 L136.25,51.12 L136.36,51.15 L136.47,51.18 L136.57,51.22 L136.68,51.25 L136.79,51.28 L136.89,51.32 L137.00,51.35 L137.11,51.38 L137.21,51.41 L137.32,51.44 L137.43,51.47 L137.53,51.50 L137.64,51.53 L137.75,51.56 L137.85,51.59 L137.96,51.62 L138.07,51.65 L138.17,51.68 L138.28,51.70 L138.39,51.73 L138.49,51.76 L138.60,51.79 L138.71,51.81 L138.81,51.84 L138.92,51.87 L139.03,51.89 L139.13,51.92 L139.24,51.94 L139.35,51.97 L139.45,51.99 L139.56,52.02 L139.67,52.04 L139.77,52.06 L139.88,52.09 L139.99,52.11 L140.09,52.13 L140.20,52.16 L140.31,52.18 L140.41,52.20 L140.52,52.22 L140.63,52.24 L140.73,52.26 L140.84,52.28 L140.95,52.31 L141.05,52.33 L141.16,52.35 L141.27,52.37 L141.37,52.39 L141.48,52.40 L141.59,52.42 L141.69,52.44 L141.80,52.46 L141.91,52.48 L142.01,52.50 L142.12,52.52 L142.23,52.53 L142.33,52.55 L142.44,52.57 L142.55,52.58 L142.65,52.60 L142.76,52.62 L142.87,52.63 L142.97,52.65 L143.08,52.67 L143.19,52.68 L143.29,52.70 L143.40,52.71 L143.51,52.73 L143.61,52.74 L143.72,52.76 L143.83,52.77 L143.93,52.79 L144.04,52.80 L144.15,52.81 L144.25,52.83 L144.36,52.84 L144.47,52.85 L144.57,52.87 L144.68,52.88 L144.79,52.89 L144.89,52.91 L145.00,52.92 L145.11,52.93 L145.21,52.94 L145.32,52.95 L145.43,52.97 L145.53,52.98 L145.64,52.99 L145.75,53.00 L145.85,53.01 L145.96,53.02 L146.07,53.03 L146.17,53.04 L146.28,53.05 L146.39,53.06 L146.49,53.07 L146.60,53.08 L146.71,53.09 L146.81,53.10 L146.92,53.11 L147.03,53.12 L147.13,53.13 L147.24,53.14 L147.35,53.15 L147.45,53.16 L147.56,53.16 L147.67,53.17 L147.77,53.18 L147.88,53.19 L147.99,53.20 L148.09,53.21 L148.20,53.21 L148.31,53.22 L148.41,53.23 L148.52,53.24 L148.63,53.24 L148.73,53.25 L148.84,53.26 L148.95,53.27 L149.05,53.27 L149.16,53.28 L149.27,53.29 L149.37,53.29 L149.48,53.30 L149.59,53.31 L149.69,53.31 L149.80,53.32 L149.91,53.32 L150.01,53.33 L150.12,53.34 L150.23,53.34 L150.33,53.35 L150.44,53.35 L150.55,53.36 L150.65,53.36 L150.76,53.37 L150.87,53.37 L150.97,53.38 L151.08,53.38 L151.19,53.39 L151.29,53.39 L151.40,53.40 L151.51,53.40 L151.61,53.41 L151.72,53.41 L151.83,53.42 L151.93,53.42 L152.04,53.43 L152.15,53.43 L152.25,53.43 L152.36,53.44 L152.47,53.44 L152.57,53.45 L152.68,53.45 L152.79,53.45 L152.89,53.46 L153.00,53.46 L153.11,53.47 L153.21,53.47 L153.32,53.47 L153.43,53.48 L153.53,53.48 L153.64,53.48 L153.75,53.49 L153.85,53.49 L153.96,53.49 L154.07,53.50 L154.17,53.50 L154.28,53.50 L154.39,53.50 L154.49,53.51 L154.60,53.51 L154.71,53.51 L154.81,53.52 L154.92,53.52 L155.03,53.52 L155.13,53.52 L155.24,53.53 L155.35,53.53 L155.45,53.53 L155.56,53.53 L155.67,53.54 L155.77,53.54 L155.88,53.54 L155.99,53.54 L156.09,53.55 L156.20,53.55 L156.31,53.55 L156.41,53.55 L156.52,53.55 L156.63,53.56 L156.73,53.56 L156.84,53.56 L156.95,53.56 L157.05,53.56 L157.16,53.57 L157.27,53.57 L157.37,53.57 L157.48,53.57 L157.59,53.57 L157.69,53.57 L157.80,53.58 L157.91,53.58 L158.01,53.58 L158.12,53.58 L158.23,53.58 L158.33,53.58 L158.44,53.58 L158.55,53.59 L158.65,53.59 L158.76,53.59 L158.87,53.59 L158.97,53.59 L159.08,53.59 L159.19,53.59 L159.29,53.59 L159.40,53.60 L159.51,53.60 L159.61,53.60 L159.72,53.60 L159.83,53.60 L159.93,53.60 L160.04,53.60 L160.15,53.60 L160.25,53.60 L160.36,53.61 L160.47,53.61 L160.57,53.61 L160.68,53.61 L160.79,53.61 L160.89,53.61 L161.00,53.61 L161.11,53.61 L161.21,53.61 L161.32,53.61 L161.43,53.61 L161.53,53.62 L161.64,53.62 L161.75,53.62 L161.85,53.62 L161.96,53.62 L162.07,53.62 L162.17,53.62 L162.28,53.62 L162.39,53.62 L162.49,53.62 L162.60,53.62" fill="none" stroke="#000" stroke-width="1.5"/>
<path d="M41.71,13.0v4.5M41.71,95.0v-4.5M55.93,13.0v2.5M55.93,95.0v-2.5M70.16,13.0v4.5M70.16,95.0v-4.5M84.38,13.0v2.5M84.38,95.0v-2.5M98.60,13.0v4.5M98.60,95.0v-4.5M112.82,13.0v2.5M112.82,95.0v-2.5M127.04,13.0v4.5M127.04,95.0v-4.5M141.27,13.0v2.5M141.27,95.0v-2.5M155.49,13.0v4.5M155.49,95.0v-4.5M34.6,92.50h2.8M162.6,92.50h-2.8M34.6,79.55h5M162.6,79.55h-5M34.6,66.60h2.8M162.6,66.60h-2.8M34.6,53.65h5M162.6,53.65h-5M34.6,40.70h2.8M162.6,40.70h-2.8M34.6,27.75h5M162.6,27.75h-5M34.6,14.80h2.8M162.6,14.80h-2.8" stroke="#222" stroke-width="1.0" fill="none"/>
<rect x="34.6" y="13.0" width="128.0" height="82.0" fill="none" stroke="#222" stroke-width="1.0"/>
<text class="ty" x="30.6" y="31.65" text-anchor="end">5</text>
<text class="ty" x="30.6" y="57.55" text-anchor="end">0</text>
<text class="ty" x="30.6" y="83.45" text-anchor="end">-5</text>
</g>
<g>
<rect x="196.1" y="13.0" width="127.79999999999998" height="82.0" fill="none" stroke="#222" stroke-width="1.0"/>
<path d="M196.10,13.0v4.5M196.10,95.0v-4.5M206.75,13.0v2.5M206.75,95.0v-2.5M217.40,13.0v4.5M217.40,95.0v-4.5M228.05,13.0v2.5M228.05,95.0v-2.5M238.70,13.0v4.5M238.70,95.0v-4.5M249.35,13.0v2.5M249.35,95.0v-2.5M260.00,13.0v4.5M260.00,95.0v-4.5M270.65,13.0v2.5M270.65,95.0v-2.5M281.30,13.0v4.5M281.30,95.0v-4.5M291.95,13.0v2.5M291.95,95.0v-2.5M302.60,13.0v4.5M302.60,95.0v-4.5M313.25,13.0v2.5M313.25,95.0v-2.5M323.90,13.0v4.5M323.90,95.0v-4.5M196.1,95.00h5M196.1,69.00h5M196.1,43.00h5M196.1,17.00h5M196.1,82.00h2.8M196.1,56.00h2.8M196.1,30.00h2.8M323.9,95.00h-5M323.9,57.20h-5M323.9,19.40h-5M323.9,76.10h-2.8M323.9,38.30h-2.8" stroke="#222" stroke-width="1.0" fill="none"/>
<clipPath id="c0"><rect x="195.6" y="12.5" width="128.79999999999998" height="83.2"/></clipPath>
<g clip-path="url(#c0)">
<path d="M196.10,95.00 L196.63,95.00 L197.16,95.00 L197.70,95.00 L198.23,95.00 L198.76,95.00 L199.29,95.00 L199.83,95.00 L200.36,95.00 L200.89,95.00 L201.42,95.00 L201.96,95.00 L202.49,95.00 L203.02,95.00 L203.56,95.00 L204.09,95.00 L204.62,95.00 L205.15,95.00 L205.69,95.00 L206.22,95.00 L206.75,95.00 L207.28,95.00 L207.81,95.00 L208.35,95.00 L208.88,95.00 L209.41,95.00 L209.94,95.00 L210.48,95.00 L211.01,95.00 L211.54,95.00 L212.07,95.00 L212.61,95.00 L213.14,95.00 L213.67,95.00 L214.20,95.00 L214.74,95.00 L215.27,95.00 L215.80,95.00 L216.33,95.00 L216.87,95.00 L217.40,95.00 L217.93,95.00 L218.47,95.00 L219.00,95.00 L219.53,95.00 L220.06,95.00 L220.59,95.00 L221.13,95.00 L221.66,95.00 L222.19,95.00 L222.72,95.00 L223.26,95.00 L223.79,95.00 L224.32,95.00 L224.85,95.00 L225.39,95.00 L225.92,95.00 L226.45,95.00 L226.98,95.00 L227.52,95.00 L228.05,95.00 L228.58,95.00 L229.11,95.00 L229.65,95.00 L230.18,95.00 L230.71,95.00 L231.25,95.00 L231.78,95.00 L232.31,95.00 L232.84,95.00 L233.38,95.00 L233.91,95.00 L234.44,95.00 L234.97,95.00 L235.50,94.99 L236.04,94.99 L236.57,94.99 L237.10,94.98 L237.63,94.97 L238.17,94.96 L238.70,94.94 L239.23,94.92 L239.76,94.89 L240.30,94.85 L240.83,94.79 L241.36,94.71 L241.89,94.60 L242.43,94.46 L242.96,94.28 L243.49,94.05 L244.02,93.75 L244.56,93.38 L245.09,92.91 L245.62,92.33 L246.15,91.62 L246.69,90.76 L247.22,89.73 L247.75,88.50 L248.28,87.06 L248.82,85.39 L249.35,83.47 L249.88,81.28 L250.41,78.83 L250.95,76.10 L251.48,73.11 L252.01,69.88 L252.54,66.41 L253.08,62.77 L253.61,58.97 L254.14,55.09 L254.67,51.18 L255.21,47.31 L255.74,43.57 L256.27,40.02 L256.81,36.74 L257.34,33.82 L257.87,31.32 L258.40,29.30 L258.94,27.83 L259.47,26.92 L260.00,26.62 L260.53,26.92 L261.06,27.83 L261.60,29.30 L262.13,31.32 L262.66,33.82 L263.19,36.74 L263.73,40.02 L264.26,43.57 L264.79,47.31 L265.32,51.18 L265.86,55.09 L266.39,58.97 L266.92,62.77 L267.45,66.41 L267.99,69.88 L268.52,73.11 L269.05,76.10 L269.58,78.83 L270.12,81.28 L270.65,83.47 L271.18,85.39 L271.71,87.06 L272.25,88.50 L272.78,89.73 L273.31,90.76 L273.84,91.62 L274.38,92.33 L274.91,92.91 L275.44,93.38 L275.97,93.75 L276.51,94.05 L277.04,94.28 L277.57,94.46 L278.10,94.60 L278.64,94.71 L279.17,94.79 L279.70,94.85 L280.24,94.89 L280.77,94.92 L281.30,94.94 L281.83,94.96 L282.37,94.97 L282.90,94.98 L283.43,94.99 L283.96,94.99 L284.50,94.99 L285.03,95.00 L285.56,95.00 L286.09,95.00 L286.62,95.00 L287.16,95.00 L287.69,95.00 L288.22,95.00 L288.75,95.00 L289.29,95.00 L289.82,95.00 L290.35,95.00 L290.88,95.00 L291.42,95.00 L291.95,95.00 L292.48,95.00 L293.01,95.00 L293.55,95.00 L294.08,95.00 L294.61,95.00 L295.14,95.00 L295.68,95.00 L296.21,95.00 L296.74,95.00 L297.27,95.00 L297.81,95.00 L298.34,95.00 L298.87,95.00 L299.40,95.00 L299.94,95.00 L300.47,95.00 L301.00,95.00 L301.53,95.00 L302.07,95.00 L302.60,95.00 L303.13,95.00 L303.66,95.00 L304.20,95.00 L304.73,95.00 L305.26,95.00 L305.79,95.00 L306.33,95.00 L306.86,95.00 L307.39,95.00 L307.92,95.00 L308.46,95.00 L308.99,95.00 L309.52,95.00 L310.05,95.00 L310.59,95.00 L311.12,95.00 L311.65,95.00 L312.19,95.00 L312.72,95.00 L313.25,95.00 L313.78,95.00 L314.31,95.00 L314.85,95.00 L315.38,95.00 L315.91,95.00 L316.44,95.00 L316.98,95.00 L317.51,95.00 L318.04,95.00 L318.57,95.00 L319.11,95.00 L319.64,95.00 L320.17,95.00 L320.70,95.00 L321.24,95.00 L321.77,95.00 L322.30,95.00 L322.83,95.00 L323.37,95.00 L323.90,95.00" fill="none" stroke="#0000ff" stroke-width="1.3"/>
<path d="M196.10,95.00 L196.63,95.00 L197.16,95.00 L197.70,95.00 L198.23,95.00 L198.76,95.00 L199.29,95.00 L199.83,95.00 L200.36,95.00 L200.89,95.00 L201.42,95.00 L201.96,95.00 L202.49,95.00 L203.02,95.00 L203.56,95.00 L204.09,95.00 L204.62,95.00 L205.15,95.00 L205.69,95.00 L206.22,95.00 L206.75,95.00 L207.28,95.00 L207.81,95.00 L208.35,95.00 L208.88,95.00 L209.41,95.00 L209.94,95.00 L210.48,95.00 L211.01,95.00 L211.54,95.00 L212.07,95.00 L212.61,95.00 L213.14,95.00 L213.67,95.00 L214.20,95.00 L214.74,95.00 L215.27,95.00 L215.80,95.00 L216.33,95.00 L216.87,95.00 L217.40,95.00 L217.93,95.00 L218.47,95.00 L219.00,95.00 L219.53,95.00 L220.06,95.00 L220.59,95.00 L221.13,95.00 L221.66,95.00 L222.19,95.00 L222.72,95.00 L223.26,95.00 L223.79,95.00 L224.32,95.00 L224.85,95.00 L225.39,95.00 L225.92,95.00 L226.45,95.00 L226.98,95.00 L227.52,95.00 L228.05,95.00 L228.58,95.00 L229.11,95.00 L229.65,95.00 L230.18,95.00 L230.71,95.00 L231.25,95.00 L231.78,95.00 L232.31,95.00 L232.84,95.00 L233.38,95.00 L233.91,95.00 L234.44,95.00 L234.97,95.00 L235.50,95.00 L236.04,95.00 L236.57,95.00 L237.10,95.00 L237.63,95.00 L238.17,95.00 L238.70,95.00 L239.23,95.00 L239.76,95.00 L240.30,95.00 L240.83,95.00 L241.36,95.00 L241.89,95.00 L242.43,95.00 L242.96,95.00 L243.49,95.00 L244.02,95.00 L244.56,95.00 L245.09,95.00 L245.62,95.00 L246.15,95.00 L246.69,95.00 L247.22,95.00 L247.75,95.00 L248.28,95.00 L248.82,95.00 L249.35,95.00 L249.88,95.00 L250.41,95.00 L250.95,95.00 L251.48,95.00 L252.01,95.00 L252.54,95.00 L253.08,95.00 L253.61,95.00 L254.14,95.00 L254.67,95.00 L255.21,95.00 L255.74,95.00 L256.27,95.00 L256.81,95.00 L257.34,95.00 L257.87,95.00 L258.40,95.00 L258.94,95.00 L259.47,95.00 L260.00,95.00 L260.53,95.00 L261.06,95.00 L261.60,95.00 L262.13,95.00 L262.66,95.00 L263.19,95.00 L263.73,95.00 L264.26,95.00 L264.79,95.00 L265.32,95.00 L265.86,95.00 L266.39,95.00 L266.92,95.00 L267.45,95.00 L267.99,95.00 L268.52,95.00 L269.05,95.00 L269.58,95.00 L270.12,95.00 L270.65,95.00 L271.18,95.00 L271.71,95.00 L272.25,95.00 L272.78,95.00 L273.31,95.00 L273.84,95.00 L274.38,95.00 L274.91,95.00 L275.44,95.00 L275.97,95.00 L276.51,95.00 L277.04,95.00 L277.57,95.00 L278.10,95.00 L278.64,95.00 L279.17,95.00 L279.70,95.00 L280.24,95.00 L280.77,95.00 L281.30,95.00 L281.83,95.00 L282.37,95.00 L282.90,95.00 L283.43,95.00 L283.96,95.00 L284.50,95.00 L285.03,95.00 L285.56,95.00 L286.09,95.00 L286.62,95.00 L287.16,95.00 L287.69,95.00 L288.22,95.00 L288.75,95.00 L289.29,95.00 L289.82,95.00 L290.35,95.00 L290.88,95.00 L291.42,95.00 L291.95,95.00 L292.48,95.00 L293.01,95.00 L293.55,95.00 L294.08,95.00 L294.61,95.00 L295.14,95.00 L295.68,95.00 L296.21,95.00 L296.74,95.00 L297.27,95.00 L297.81,95.00 L298.34,95.00 L298.87,95.00 L299.40,95.00 L299.94,95.00 L300.47,95.00 L301.00,95.00 L301.53,95.00 L302.07,95.00 L302.60,95.00 L303.13,95.00 L303.66,95.00 L304.20,95.00 L304.73,95.00 L305.26,95.00 L305.79,95.00 L306.33,95.00 L306.86,95.00 L307.39,95.00 L307.92,95.00 L308.46,95.00 L308.99,95.00 L309.52,95.00 L310.05,95.00 L310.59,95.00 L311.12,95.00 L311.65,95.00 L312.19,95.00 L312.72,95.00 L313.25,95.00 L313.78,95.00 L314.31,95.00 L314.85,95.00 L315.38,95.00 L315.91,95.00 L316.44,95.00 L316.98,95.00 L317.51,95.00 L318.04,95.00 L318.57,95.00 L319.11,95.00 L319.64,95.00 L320.17,95.00 L320.70,95.00 L321.24,95.00 L321.77,95.00 L322.30,95.00 L322.83,95.00 L323.37,95.00 L323.90,95.00" fill="none" stroke="#ff0000" stroke-width="1.3"/>
</g>
<path d="M195.79999999999998,95.0H324.2" stroke="#8e1f1f" stroke-width="1.6" fill="none"/>
<text class="ty" x="192.2" y="98.70" text-anchor="end">0</text>
<text class="ty" x="192.2" y="72.70" text-anchor="end">1</text>
<text class="ty" x="192.2" y="46.70" text-anchor="end">2</text>
<text class="ty" x="192.2" y="20.70" text-anchor="end">3</text>
<text class="ty" x="328.09999999999997" y="99.20">0</text>
<text class="ty" x="328.09999999999997" y="61.40">1</text>
<text class="ty" x="328.09999999999997" y="23.60">2</text>
</g>
<g>
<path d="M34.60,140.65 L34.71,140.65 L34.81,140.65 L34.92,140.65 L35.03,140.65 L35.13,140.65 L35.24,140.64 L35.35,140.64 L35.45,140.64 L35.56,140.64 L35.67,140.63 L35.77,140.63 L35.88,140.63 L35.99,140.63 L36.09,140.62 L36.20,140.62 L36.31,140.62 L36.41,140.62 L36.52,140.61 L36.63,140.61 L36.73,140.61 L36.84,140.61 L36.95,140.61 L37.05,140.60 L37.16,140.60 L37.27,140.60 L37.37,140.60 L37.48,140.60 L37.59,140.60 L37.69,140.60 L37.80,140.60 L37.91,140.60 L38.01,140.60 L38.12,140.60 L38.23,140.60 L38.33,140.60 L38.44,140.60 L38.55,140.61 L38.65,140.61 L38.76,140.61 L38.87,140.61 L38.97,140.62 L39.08,140.62 L39.19,140.62 L39.29,140.63 L39.40,140.63 L39.51,140.64 L39.61,140.64 L39.72,140.65 L39.83,140.65 L39.93,140.66 L40.04,140.66 L40.15,140.67 L40.25,140.68 L40.36,140.68 L40.47,140.69 L40.57,140.70 L40.68,140.70 L40.79,140.71 L40.89,140.72 L41.00,140.72 L41.11,140.73 L41.21,140.73 L41.32,140.74 L41.43,140.75 L41.53,140.75 L41.64,140.76 L41.75,140.76 L41.85,140.77 L41.96,140.77 L42.07,140.78 L42.17,140.78 L42.28,140.78 L42.39,140.78 L42.49,140.78 L42.60,140.79 L42.71,140.79 L42.81,140.79 L42.92,140.78 L43.03,140.78 L43.13,140.78 L43.24,140.78 L43.35,140.77 L43.45,140.77 L43.56,140.76 L43.67,140.75 L43.77,140.75 L43.88,140.74 L43.99,140.73 L44.09,140.72 L44.20,140.71 L44.31,140.70 L44.41,140.68 L44.52,140.67 L44.63,140.66 L44.73,140.64 L44.84,140.63 L44.95,140.61 L45.05,140.60 L45.16,140.58 L45.27,140.57 L45.37,140.55 L45.48,140.53 L45.59,140.52 L45.69,140.50 L45.80,140.49 L45.91,140.47 L46.01,140.45 L46.12,140.44 L46.23,140.42 L46.33,140.41 L46.44,140.40 L46.55,140.38 L46.65,140.37 L46.76,140.36 L46.87,140.35 L46.97,140.34 L47.08,140.34 L47.19,140.33 L47.29,140.33 L47.40,140.32 L47.51,140.32 L47.61,140.32 L47.72,140.32 L47.83,140.33 L47.93,140.33 L48.04,140.34 L48.15,140.35 L48.25,140.36 L48.36,140.37 L48.47,140.39 L48.57,140.40 L48.68,140.42 L48.79,140.44 L48.89,140.47 L49.00,140.49 L49.11,140.52 L49.21,140.54 L49.32,140.57 L49.43,140.60 L49.53,140.63 L49.64,140.67 L49.75,140.70 L49.85,140.74 L49.96,140.77 L50.07,140.81 L50.17,140.84 L50.28,140.88 L50.39,140.92 L50.49,140.96 L50.60,140.99 L50.71,141.03 L50.81,141.07 L50.92,141.10 L51.03,141.13 L51.13,141.17 L51.24,141.20 L51.35,141.23 L51.45,141.26 L51.56,141.28 L51.67,141.30 L51.77,141.33 L51.88,141.34 L51.99,141.36 L52.09,141.37 L52.20,141.38 L52.31,141.38 L52.41,141.39 L52.52,141.38 L52.63,141.38 L52.73,141.37 L52.84,141.35 L52.95,141.34 L53.05,141.32 L53.16,141.29 L53.27,141.26 L53.37,141.23 L53.48,141.19 L53.59,141.15 L53.69,141.10 L53.80,141.05 L53.91,141.00 L54.01,140.94 L54.12,140.88 L54.23,140.82 L54.33,140.75 L54.44,140.68 L54.55,140.61 L54.65,140.54 L54.76,140.46 L54.87,140.39 L54.97,140.31 L55.08,140.23 L55.19,140.15 L55.29,140.07 L55.40,139.99 L55.51,139.92 L55.61,139.84 L55.72,139.77 L55.83,139.69 L55.93,139.62 L56.04,139.56 L56.15,139.49 L56.25,139.43 L56.36,139.38 L56.47,139.33 L56.57,139.28 L56.68,139.24 L56.79,139.21 L56.89,139.18 L57.00,139.16 L57.11,139.14 L57.21,139.13 L57.32,139.13 L57.43,139.14 L57.53,139.16 L57.64,139.18 L57.75,139.21 L57.85,139.25 L57.96,139.30 L58.07,139.35 L58.17,139.41 L58.28,139.49 L58.39,139.56 L58.49,139.65 L58.60,139.75 L58.71,139.85 L58.81,139.96 L58.92,140.07 L59.03,140.20 L59.13,140.32 L59.24,140.46 L59.35,140.59 L59.45,140.74 L59.56,140.88 L59.67,141.03 L59.77,141.18 L59.88,141.33 L59.99,141.49 L60.09,141.64 L60.20,141.79 L60.31,141.95 L60.41,142.09 L60.52,142.24 L60.63,142.38 L60.73,142.52 L60.84,142.65 L60.95,142.78 L61.05,142.90 L61.16,143.01 L61.27,143.11 L61.37,143.21 L61.48,143.29 L61.59,143.36 L61.69,143.42 L61.80,143.47 L61.91,143.51 L62.01,143.53 L62.12,143.54 L62.23,143.53 L62.33,143.51 L62.44,143.48 L62.55,143.43 L62.65,143.37 L62.76,143.29 L62.87,143.19 L62.97,143.08 L63.08,142.96 L63.19,142.82 L63.29,142.67 L63.40,142.50 L63.51,142.32 L63.61,142.13 L63.72,141.92 L63.83,141.71 L63.93,141.48 L64.04,141.24 L64.15,141.00 L64.25,140.74 L64.36,140.48 L64.47,140.21 L64.57,139.94 L64.68,139.67 L64.79,139.39 L64.89,139.11 L65.00,138.84 L65.11,138.56 L65.21,138.29 L65.32,138.03 L65.43,137.77 L65.53,137.52 L65.64,137.27 L65.75,137.04 L65.85,136.82 L65.96,136.62 L66.07,136.43 L66.17,136.25 L66.28,136.10 L66.39,135.96 L66.49,135.84 L66.60,135.74 L66.71,135.67 L66.81,135.61 L66.92,135.58 L67.03,135.58 L67.13,135.60 L67.24,135.64 L67.35,135.71 L67.45,135.81 L67.56,135.93 L67.67,136.07 L67.77,136.25 L67.88,136.44 L67.99,136.67 L68.09,136.91 L68.20,137.19 L68.31,137.48 L68.41,137.80 L68.52,138.13 L68.63,138.49 L68.73,138.87 L68.84,139.26 L68.95,139.66 L69.05,140.09 L69.16,140.52 L69.27,140.96 L69.37,141.41 L69.48,141.87 L69.59,142.33 L69.69,142.79 L69.80,143.25 L69.91,143.71 L70.01,144.16 L70.12,144.61 L70.23,145.04 L70.33,145.46 L70.44,145.87 L70.55,146.26 L70.65,146.63 L70.76,146.98 L70.87,147.31 L70.97,147.61 L71.08,147.88 L71.19,148.13 L71.29,148.34 L71.40,148.52 L71.51,148.66 L71.61,148.77 L71.72,148.84 L71.83,148.87 L71.93,148.86 L72.04,148.82 L72.15,148.73 L72.25,148.60 L72.36,148.43 L72.47,148.22 L72.57,147.97 L72.68,147.68 L72.79,147.35 L72.89,146.98 L73.00,146.57 L73.11,146.13 L73.21,145.65 L73.32,145.14 L73.43,144.60 L73.53,144.03 L73.64,143.43 L73.75,142.81 L73.85,142.16 L73.96,141.50 L74.07,140.82 L74.17,140.13 L74.28,139.43 L74.39,138.72 L74.49,138.01 L74.60,137.30 L74.71,136.59 L74.81,135.89 L74.92,135.21 L75.03,134.53 L75.13,133.88 L75.24,133.24 L75.35,132.63 L75.45,132.05 L75.56,131.50 L75.67,130.98 L75.77,130.51 L75.88,130.07 L75.99,129.68 L76.09,129.33 L76.20,129.04 L76.31,128.79 L76.41,128.60 L76.52,128.46 L76.63,128.38 L76.73,128.36 L76.84,128.39 L76.95,128.49 L77.05,128.64 L77.16,128.86 L77.27,129.13 L77.37,129.46 L77.48,129.86 L77.59,130.31 L77.69,130.82 L77.80,131.38 L77.91,132.00 L78.01,132.66 L78.12,133.38 L78.23,134.14 L78.33,134.94 L78.44,135.78 L78.55,136.66 L78.65,137.57 L78.76,138.51 L78.87,139.47 L78.97,140.45 L79.08,141.45 L79.19,142.45 L79.29,143.46 L79.40,144.48 L79.51,145.49 L79.61,146.48 L79.72,147.47 L79.83,148.43 L79.93,149.38 L80.04,150.29 L80.15,151.17 L80.25,152.01 L80.36,152.80 L80.47,153.55 L80.57,154.25 L80.68,154.89 L80.79,155.47 L80.89,155.99 L81.00,156.44 L81.11,156.82 L81.21,157.13 L81.32,157.37 L81.43,157.52 L81.53,157.60 L81.64,157.60 L81.75,157.52 L81.85,157.35 L81.96,157.11 L82.07,156.78 L82.17,156.37 L82.28,155.89 L82.39,155.32 L82.49,154.67 L82.60,153.96 L82.71,153.17 L82.81,152.31 L82.92,151.39 L83.03,150.40 L83.13,149.36 L83.24,148.26 L83.35,147.12 L83.45,145.93 L83.56,144.70 L83.67,143.44 L83.77,142.16 L83.88,140.85 L83.99,139.53 L84.09,138.20 L84.20,136.86 L84.31,135.53 L84.41,134.22 L84.52,132.91 L84.63,131.64 L84.73,130.39 L84.84,129.18 L84.95,128.01 L85.05,126.89 L85.16,125.82 L85.27,124.82 L85.37,123.88 L85.48,123.01 L85.59,122.22 L85.69,121.50 L85.80,120.87 L85.91,120.33 L86.01,119.88 L86.12,119.53 L86.23,119.27 L86.33,119.11 L86.44,119.06 L86.55,119.10 L86.65,119.25 L86.76,119.50 L86.87,119.85 L86.97,120.31 L87.08,120.87 L87.19,121.52 L87.29,122.27 L87.40,123.11 L87.51,124.05 L87.61,125.07 L87.72,126.17 L87.83,127.35 L87.93,128.60 L88.04,129.92 L88.15,131.30 L88.25,132.73 L88.36,134.21 L88.47,135.74 L88.57,137.30 L88.68,138.88 L88.79,140.49 L88.89,142.11 L89.00,143.73 L89.11,145.35 L89.21,146.95 L89.32,148.54 L89.43,150.10 L89.53,151.63 L89.64,153.12 L89.75,154.55 L89.85,155.93 L89.96,157.25 L90.07,158.49 L90.17,159.66 L90.28,160.75 L90.39,161.74 L90.49,162.65 L90.60,163.45 L90.71,164.15 L90.81,164.75 L90.92,165.23 L91.03,165.60 L91.13,165.85 L91.24,165.99 L91.35,166.00 L91.45,165.90 L91.56,165.68 L91.67,165.33 L91.77,164.87 L91.88,164.29 L91.99,163.60 L92.09,162.80 L92.20,161.88 L92.31,160.87 L92.41,159.75 L92.52,158.54 L92.63,157.23 L92.73,155.85 L92.84,154.38 L92.95,152.84 L93.05,151.25 L93.16,149.59 L93.27,147.88 L93.37,146.14 L93.48,144.36 L93.59,142.56 L93.69,140.74 L93.80,138.92 L93.91,137.09 L94.01,135.28 L94.12,133.49 L94.23,131.73 L94.33,130.00 L94.44,128.31 L94.55,126.68 L94.65,125.12 L94.76,123.62 L94.87,122.19 L94.97,120.85 L95.08,119.60 L95.19,118.45 L95.29,117.39 L95.40,116.45 L95.51,115.62 L95.61,114.90 L95.72,114.30 L95.83,113.83 L95.93,113.48 L96.04,113.26 L96.15,113.17 L96.25,113.20 L96.36,113.37 L96.47,113.67 L96.57,114.09 L96.68,114.64 L96.79,115.31 L96.89,116.10 L97.00,117.01 L97.11,118.04 L97.21,119.17 L97.32,120.40 L97.43,121.73 L97.53,123.15 L97.64,124.65 L97.75,126.23 L97.85,127.88 L97.96,129.58 L98.07,131.35 L98.17,133.15 L98.28,135.00 L98.39,136.87 L98.49,138.75 L98.60,140.65 L98.71,142.55 L98.81,144.43 L98.92,146.30 L99.03,148.15 L99.13,149.95 L99.24,151.72 L99.35,153.42 L99.45,155.07 L99.56,156.65 L99.67,158.15 L99.77,159.57 L99.88,160.90 L99.99,162.13 L100.09,163.26 L100.20,164.29 L100.31,165.20 L100.41,165.99 L100.52,166.66 L100.63,167.21 L100.73,167.63 L100.84,167.93 L100.95,168.10 L101.05,168.13 L101.16,168.04 L101.27,167.82 L101.37,167.47 L101.48,167.00 L101.59,166.40 L101.69,165.68 L101.80,164.85 L101.91,163.91 L102.01,162.85 L102.12,161.70 L102.23,160.45 L102.33,159.11 L102.44,157.68 L102.55,156.18 L102.65,154.62 L102.76,152.99 L102.87,151.30 L102.97,149.57 L103.08,147.81 L103.19,146.02 L103.29,144.21 L103.40,142.38 L103.51,140.56 L103.61,138.74 L103.72,136.94 L103.83,135.16 L103.93,133.42 L104.04,131.71 L104.15,130.05 L104.25,128.46 L104.36,126.92 L104.47,125.45 L104.57,124.07 L104.68,122.76 L104.79,121.55 L104.89,120.43 L105.00,119.42 L105.11,118.50 L105.21,117.70 L105.32,117.01 L105.43,116.43 L105.53,115.97 L105.64,115.62 L105.75,115.40 L105.85,115.30 L105.96,115.31 L106.07,115.45 L106.17,115.70 L106.28,116.07 L106.39,116.55 L106.49,117.15 L106.60,117.85 L106.71,118.65 L106.81,119.56 L106.92,120.55 L107.03,121.64 L107.13,122.81 L107.24,124.05 L107.35,125.37 L107.45,126.75 L107.56,128.18 L107.67,129.67 L107.77,131.20 L107.88,132.76 L107.99,134.35 L108.09,135.95 L108.20,137.57 L108.31,139.19 L108.41,140.81 L108.52,142.42 L108.63,144.00 L108.73,145.56 L108.84,147.09 L108.95,148.57 L109.05,150.00 L109.16,151.38 L109.27,152.70 L109.37,153.95 L109.48,155.13 L109.59,156.23 L109.69,157.25 L109.80,158.19 L109.91,159.03 L110.01,159.78 L110.12,160.43 L110.23,160.99 L110.33,161.45 L110.44,161.80 L110.55,162.05 L110.65,162.20 L110.76,162.24 L110.87,162.19 L110.97,162.03 L111.08,161.77 L111.19,161.42 L111.29,160.97 L111.40,160.43 L111.51,159.80 L111.61,159.08 L111.72,158.29 L111.83,157.42 L111.93,156.48 L112.04,155.48 L112.15,154.41 L112.25,153.29 L112.36,152.12 L112.47,150.91 L112.57,149.66 L112.68,148.39 L112.79,147.08 L112.89,145.77 L113.00,144.44 L113.11,143.10 L113.21,141.77 L113.32,140.45 L113.43,139.14 L113.53,137.86 L113.64,136.60 L113.75,135.37 L113.85,134.18 L113.96,133.04 L114.07,131.94 L114.17,130.90 L114.28,129.91 L114.39,128.99 L114.49,128.13 L114.60,127.34 L114.71,126.63 L114.81,125.98 L114.92,125.41 L115.03,124.93 L115.13,124.52 L115.24,124.19 L115.35,123.95 L115.45,123.78 L115.56,123.70 L115.67,123.70 L115.77,123.78 L115.88,123.93 L115.99,124.17 L116.09,124.48 L116.20,124.86 L116.31,125.31 L116.41,125.83 L116.52,126.41 L116.63,127.05 L116.73,127.75 L116.84,128.50 L116.95,129.29 L117.05,130.13 L117.16,131.01 L117.27,131.92 L117.37,132.87 L117.48,133.83 L117.59,134.82 L117.69,135.81 L117.80,136.82 L117.91,137.84 L118.01,138.85 L118.12,139.85 L118.23,140.85 L118.33,141.83 L118.44,142.79 L118.55,143.73 L118.65,144.64 L118.76,145.52 L118.87,146.36 L118.97,147.16 L119.08,147.92 L119.19,148.64 L119.29,149.30 L119.40,149.92 L119.51,150.48 L119.61,150.99 L119.72,151.44 L119.83,151.84 L119.93,152.17 L120.04,152.44 L120.15,152.66 L120.25,152.81 L120.36,152.91 L120.47,152.94 L120.57,152.92 L120.68,152.84 L120.79,152.70 L120.89,152.51 L121.00,152.26 L121.11,151.97 L121.21,151.62 L121.32,151.23 L121.43,150.79 L121.53,150.32 L121.64,149.80 L121.75,149.25 L121.85,148.67 L121.96,148.06 L122.07,147.42 L122.17,146.77 L122.28,146.09 L122.39,145.41 L122.49,144.71 L122.60,144.00 L122.71,143.29 L122.81,142.58 L122.92,141.87 L123.03,141.17 L123.13,140.48 L123.24,139.80 L123.35,139.14 L123.45,138.49 L123.56,137.87 L123.67,137.27 L123.77,136.70 L123.88,136.16 L123.99,135.65 L124.09,135.17 L124.20,134.73 L124.31,134.32 L124.41,133.95 L124.52,133.62 L124.63,133.33 L124.73,133.08 L124.84,132.87 L124.95,132.70 L125.05,132.57 L125.16,132.48 L125.27,132.44 L125.37,132.43 L125.48,132.46 L125.59,132.53 L125.69,132.64 L125.80,132.78 L125.91,132.96 L126.01,133.17 L126.12,133.42 L126.23,133.69 L126.33,133.99 L126.44,134.32 L126.55,134.67 L126.65,135.04 L126.76,135.43 L126.87,135.84 L126.97,136.26 L127.08,136.69 L127.19,137.14 L127.29,137.59 L127.40,138.05 L127.51,138.51 L127.61,138.97 L127.72,139.43 L127.83,139.89 L127.93,140.34 L128.04,140.78 L128.15,141.21 L128.25,141.64 L128.36,142.04 L128.47,142.43 L128.57,142.81 L128.68,143.17 L128.79,143.50 L128.89,143.82 L129.00,144.11 L129.11,144.39 L129.21,144.63 L129.32,144.86 L129.43,145.05 L129.53,145.23 L129.64,145.37 L129.75,145.49 L129.85,145.59 L129.96,145.66 L130.07,145.70 L130.17,145.72 L130.28,145.72 L130.39,145.69 L130.49,145.63 L130.60,145.56 L130.71,145.46 L130.81,145.34 L130.92,145.20 L131.03,145.05 L131.13,144.87 L131.24,144.68 L131.35,144.48 L131.45,144.26 L131.56,144.03 L131.67,143.78 L131.77,143.53 L131.88,143.27 L131.99,143.01 L132.09,142.74 L132.20,142.46 L132.31,142.19 L132.41,141.91 L132.52,141.63 L132.63,141.36 L132.73,141.09 L132.84,140.82 L132.95,140.56 L133.05,140.30 L133.16,140.06 L133.27,139.82 L133.37,139.59 L133.48,139.38 L133.59,139.17 L133.69,138.98 L133.80,138.80 L133.91,138.63 L134.01,138.48 L134.12,138.34 L134.23,138.22 L134.33,138.11 L134.44,138.01 L134.55,137.93 L134.65,137.87 L134.76,137.82 L134.87,137.79 L134.97,137.77 L135.08,137.76 L135.19,137.77 L135.29,137.79 L135.40,137.83 L135.51,137.88 L135.61,137.94 L135.72,138.01 L135.83,138.09 L135.93,138.19 L136.04,138.29 L136.15,138.40 L136.25,138.52 L136.36,138.65 L136.47,138.78 L136.57,138.92 L136.68,139.06 L136.79,139.21 L136.89,139.35 L137.00,139.51 L137.11,139.66 L137.21,139.81 L137.32,139.97 L137.43,140.12 L137.53,140.27 L137.64,140.42 L137.75,140.56 L137.85,140.71 L137.96,140.84 L138.07,140.98 L138.17,141.10 L138.28,141.23 L138.39,141.34 L138.49,141.45 L138.60,141.55 L138.71,141.65 L138.81,141.74 L138.92,141.81 L139.03,141.89 L139.13,141.95 L139.24,142.00 L139.35,142.05 L139.45,142.09 L139.56,142.12 L139.67,142.14 L139.77,142.16 L139.88,142.17 L139.99,142.17 L140.09,142.16 L140.20,142.14 L140.31,142.12 L140.41,142.09 L140.52,142.06 L140.63,142.02 L140.73,141.97 L140.84,141.92 L140.95,141.87 L141.05,141.81 L141.16,141.74 L141.27,141.68 L141.37,141.61 L141.48,141.53 L141.59,141.46 L141.69,141.38 L141.80,141.31 L141.91,141.23 L142.01,141.15 L142.12,141.07 L142.23,140.99 L142.33,140.91 L142.44,140.84 L142.55,140.76 L142.65,140.69 L142.76,140.62 L142.87,140.55 L142.97,140.48 L143.08,140.42 L143.19,140.36 L143.29,140.30 L143.40,140.25 L143.51,140.20 L143.61,140.15 L143.72,140.11 L143.83,140.07 L143.93,140.04 L144.04,140.01 L144.15,139.98 L144.25,139.96 L144.36,139.95 L144.47,139.93 L144.57,139.92 L144.68,139.92 L144.79,139.91 L144.89,139.92 L145.00,139.92 L145.11,139.93 L145.21,139.94 L145.32,139.96 L145.43,139.97 L145.53,140.00 L145.64,140.02 L145.75,140.04 L145.85,140.07 L145.96,140.10 L146.07,140.13 L146.17,140.17 L146.28,140.20 L146.39,140.23 L146.49,140.27 L146.60,140.31 L146.71,140.34 L146.81,140.38 L146.92,140.42 L147.03,140.46 L147.13,140.49 L147.24,140.53 L147.35,140.56 L147.45,140.60 L147.56,140.63 L147.67,140.67 L147.77,140.70 L147.88,140.73 L147.99,140.76 L148.09,140.78 L148.20,140.81 L148.31,140.83 L148.41,140.86 L148.52,140.88 L148.63,140.90 L148.73,140.91 L148.84,140.93 L148.95,140.94 L149.05,140.95 L149.16,140.96 L149.27,140.97 L149.37,140.97 L149.48,140.98 L149.59,140.98 L149.69,140.98 L149.80,140.98 L149.91,140.97 L150.01,140.97 L150.12,140.96 L150.23,140.96 L150.33,140.95 L150.44,140.94 L150.55,140.93 L150.65,140.92 L150.76,140.90 L150.87,140.89 L150.97,140.88 L151.08,140.86 L151.19,140.85 L151.29,140.83 L151.40,140.81 L151.51,140.80 L151.61,140.78 L151.72,140.77 L151.83,140.75 L151.93,140.73 L152.04,140.72 L152.15,140.70 L152.25,140.69 L152.36,140.67 L152.47,140.66 L152.57,140.64 L152.68,140.63 L152.79,140.62 L152.89,140.60 L153.00,140.59 L153.11,140.58 L153.21,140.57 L153.32,140.56 L153.43,140.55 L153.53,140.55 L153.64,140.54 L153.75,140.53 L153.85,140.53 L153.96,140.52 L154.07,140.52 L154.17,140.52 L154.28,140.52 L154.39,140.51 L154.49,140.51 L154.60,140.51 L154.71,140.52 L154.81,140.52 L154.92,140.52 L155.03,140.52 L155.13,140.52 L155.24,140.53 L155.35,140.53 L155.45,140.54 L155.56,140.54 L155.67,140.55 L155.77,140.55 L155.88,140.56 L155.99,140.57 L156.09,140.57 L156.20,140.58 L156.31,140.58 L156.41,140.59 L156.52,140.60 L156.63,140.60 L156.73,140.61 L156.84,140.62 L156.95,140.62 L157.05,140.63 L157.16,140.64 L157.27,140.64 L157.37,140.65 L157.48,140.65 L157.59,140.66 L157.69,140.66 L157.80,140.67 L157.91,140.67 L158.01,140.68 L158.12,140.68 L158.23,140.68 L158.33,140.69 L158.44,140.69 L158.55,140.69 L158.65,140.69 L158.76,140.70 L158.87,140.70 L158.97,140.70 L159.08,140.70 L159.19,140.70 L159.29,140.70 L159.40,140.70 L159.51,140.70 L159.61,140.70 L159.72,140.70 L159.83,140.70 L159.93,140.70 L160.04,140.70 L160.15,140.70 L160.25,140.69 L160.36,140.69 L160.47,140.69 L160.57,140.69 L160.68,140.69 L160.79,140.68 L160.89,140.68 L161.00,140.68 L161.11,140.68 L161.21,140.67 L161.32,140.67 L161.43,140.67 L161.53,140.67 L161.64,140.66 L161.75,140.66 L161.85,140.66 L161.96,140.66 L162.07,140.65 L162.17,140.65 L162.28,140.65 L162.39,140.65 L162.49,140.65 L162.60,140.65" fill="none" stroke="#0000ff" stroke-width="1.4" stroke-linejoin="round"/>
<path d="M34.60,140.62 L34.71,140.62 L34.81,140.62 L34.92,140.62 L35.03,140.62 L35.13,140.62 L35.24,140.62 L35.35,140.62 L35.45,140.62 L35.56,140.62 L35.67,140.62 L35.77,140.61 L35.88,140.61 L35.99,140.61 L36.09,140.61 L36.20,140.61 L36.31,140.61 L36.41,140.61 L36.52,140.61 L36.63,140.61 L36.73,140.61 L36.84,140.61 L36.95,140.60 L37.05,140.60 L37.16,140.60 L37.27,140.60 L37.37,140.60 L37.48,140.60 L37.59,140.60 L37.69,140.60 L37.80,140.60 L37.91,140.59 L38.01,140.59 L38.12,140.59 L38.23,140.59 L38.33,140.59 L38.44,140.59 L38.55,140.59 L38.65,140.59 L38.76,140.58 L38.87,140.58 L38.97,140.58 L39.08,140.58 L39.19,140.58 L39.29,140.58 L39.40,140.58 L39.51,140.57 L39.61,140.57 L39.72,140.57 L39.83,140.57 L39.93,140.57 L40.04,140.57 L40.15,140.56 L40.25,140.56 L40.36,140.56 L40.47,140.56 L40.57,140.56 L40.68,140.55 L40.79,140.55 L40.89,140.55 L41.00,140.55 L41.11,140.55 L41.21,140.54 L41.32,140.54 L41.43,140.54 L41.53,140.54 L41.64,140.53 L41.75,140.53 L41.85,140.53 L41.96,140.53 L42.07,140.52 L42.17,140.52 L42.28,140.52 L42.39,140.52 L42.49,140.51 L42.60,140.51 L42.71,140.51 L42.81,140.50 L42.92,140.50 L43.03,140.50 L43.13,140.50 L43.24,140.49 L43.35,140.49 L43.45,140.49 L43.56,140.48 L43.67,140.48 L43.77,140.48 L43.88,140.47 L43.99,140.47 L44.09,140.47 L44.20,140.46 L44.31,140.46 L44.41,140.45 L44.52,140.45 L44.63,140.45 L44.73,140.44 L44.84,140.44 L44.95,140.43 L45.05,140.43 L45.16,140.43 L45.27,140.42 L45.37,140.42 L45.48,140.41 L45.59,140.41 L45.69,140.40 L45.80,140.40 L45.91,140.39 L46.01,140.39 L46.12,140.38 L46.23,140.38 L46.33,140.37 L46.44,140.37 L46.55,140.36 L46.65,140.36 L46.76,140.35 L46.87,140.35 L46.97,140.34 L47.08,140.34 L47.19,140.33 L47.29,140.32 L47.40,140.32 L47.51,140.31 L47.61,140.31 L47.72,140.30 L47.83,140.29 L47.93,140.29 L48.04,140.28 L48.15,140.27 L48.25,140.27 L48.36,140.26 L48.47,140.25 L48.57,140.24 L48.68,140.24 L48.79,140.23 L48.89,140.22 L49.00,140.21 L49.11,140.21 L49.21,140.20 L49.32,140.19 L49.43,140.18 L49.53,140.17 L49.64,140.16 L49.75,140.16 L49.85,140.15 L49.96,140.14 L50.07,140.13 L50.17,140.12 L50.28,140.11 L50.39,140.10 L50.49,140.09 L50.60,140.08 L50.71,140.07 L50.81,140.06 L50.92,140.05 L51.03,140.04 L51.13,140.03 L51.24,140.02 L51.35,140.01 L51.45,140.00 L51.56,139.99 L51.67,139.98 L51.77,139.97 L51.88,139.95 L51.99,139.94 L52.09,139.93 L52.20,139.92 L52.31,139.91 L52.41,139.89 L52.52,139.88 L52.63,139.87 L52.73,139.85 L52.84,139.84 L52.95,139.83 L53.05,139.81 L53.16,139.80 L53.27,139.79 L53.37,139.77 L53.48,139.76 L53.59,139.74 L53.69,139.73 L53.80,139.71 L53.91,139.70 L54.01,139.68 L54.12,139.67 L54.23,139.65 L54.33,139.63 L54.44,139.62 L54.55,139.60 L54.65,139.58 L54.76,139.57 L54.87,139.55 L54.97,139.53 L55.08,139.52 L55.19,139.50 L55.29,139.48 L55.40,139.46 L55.51,139.44 L55.61,139.42 L55.72,139.40 L55.83,139.39 L55.93,139.37 L56.04,139.35 L56.15,139.33 L56.25,139.31 L56.36,139.28 L56.47,139.26 L56.57,139.24 L56.68,139.22 L56.79,139.20 L56.89,139.18 L57.00,139.16 L57.11,139.13 L57.21,139.11 L57.32,139.09 L57.43,139.06 L57.53,139.04 L57.64,139.02 L57.75,138.99 L57.85,138.97 L57.96,138.94 L58.07,138.92 L58.17,138.89 L58.28,138.87 L58.39,138.84 L58.49,138.81 L58.60,138.79 L58.71,138.76 L58.81,138.73 L58.92,138.70 L59.03,138.68 L59.13,138.65 L59.24,138.62 L59.35,138.59 L59.45,138.56 L59.56,138.53 L59.67,138.50 L59.77,138.47 L59.88,138.44 L59.99,138.41 L60.09,138.38 L60.20,138.35 L60.31,138.32 L60.41,138.28 L60.52,138.25 L60.63,138.22 L60.73,138.18 L60.84,138.15 L60.95,138.12 L61.05,138.08 L61.16,138.05 L61.27,138.01 L61.37,137.97 L61.48,137.94 L61.59,137.90 L61.69,137.87 L61.80,137.83 L61.91,137.79 L62.01,137.75 L62.12,137.71 L62.23,137.68 L62.33,137.64 L62.44,137.60 L62.55,137.56 L62.65,137.52 L62.76,137.48 L62.87,137.43 L62.97,137.39 L63.08,137.35 L63.19,137.31 L63.29,137.27 L63.40,137.22 L63.51,137.18 L63.61,137.13 L63.72,137.09 L63.83,137.05 L63.93,137.00 L64.04,136.95 L64.15,136.91 L64.25,136.86 L64.36,136.81 L64.47,136.77 L64.57,136.72 L64.68,136.67 L64.79,136.62 L64.89,136.57 L65.00,136.52 L65.11,136.47 L65.21,136.42 L65.32,136.37 L65.43,136.32 L65.53,136.27 L65.64,136.21 L65.75,136.16 L65.85,136.11 L65.96,136.05 L66.07,136.00 L66.17,135.95 L66.28,135.89 L66.39,135.83 L66.49,135.78 L66.60,135.72 L66.71,135.67 L66.81,135.61 L66.92,135.55 L67.03,135.49 L67.13,135.43 L67.24,135.37 L67.35,135.31 L67.45,135.25 L67.56,135.19 L67.67,135.13 L67.77,135.07 L67.88,135.01 L67.99,134.94 L68.09,134.88 L68.20,134.82 L68.31,134.75 L68.41,134.69 L68.52,134.62 L68.63,134.56 L68.73,134.49 L68.84,134.43 L68.95,134.36 L69.05,134.29 L69.16,134.22 L69.27,134.16 L69.37,134.09 L69.48,134.02 L69.59,133.95 L69.69,133.88 L69.80,133.81 L69.91,133.73 L70.01,133.66 L70.12,133.59 L70.23,133.52 L70.33,133.45 L70.44,133.37 L70.55,133.30 L70.65,133.22 L70.76,133.15 L70.87,133.07 L70.97,133.00 L71.08,132.92 L71.19,132.84 L71.29,132.77 L71.40,132.69 L71.51,132.61 L71.61,132.53 L71.72,132.45 L71.83,132.37 L71.93,132.29 L72.04,132.21 L72.15,132.13 L72.25,132.05 L72.36,131.97 L72.47,131.89 L72.57,131.80 L72.68,131.72 L72.79,131.64 L72.89,131.55 L73.00,131.47 L73.11,131.38 L73.21,131.30 L73.32,131.21 L73.43,131.13 L73.53,131.04 L73.64,130.95 L73.75,130.86 L73.85,130.78 L73.96,130.69 L74.07,130.60 L74.17,130.51 L74.28,130.42 L74.39,130.33 L74.49,130.24 L74.60,130.15 L74.71,130.06 L74.81,129.97 L74.92,129.88 L75.03,129.79 L75.13,129.69 L75.24,129.60 L75.35,129.51 L75.45,129.41 L75.56,129.32 L75.67,129.23 L75.77,129.13 L75.88,129.04 L75.99,128.94 L76.09,128.84 L76.20,128.75 L76.31,128.65 L76.41,128.56 L76.52,128.46 L76.63,128.36 L76.73,128.27 L76.84,128.17 L76.95,128.07 L77.05,127.97 L77.16,127.87 L77.27,127.77 L77.37,127.67 L77.48,127.58 L77.59,127.48 L77.69,127.38 L77.80,127.28 L77.91,127.18 L78.01,127.08 L78.12,126.97 L78.23,126.87 L78.33,126.77 L78.44,126.67 L78.55,126.57 L78.65,126.47 L78.76,126.37 L78.87,126.26 L78.97,126.16 L79.08,126.06 L79.19,125.96 L79.29,125.85 L79.40,125.75 L79.51,125.65 L79.61,125.54 L79.72,125.44 L79.83,125.34 L79.93,125.23 L80.04,125.13 L80.15,125.03 L80.25,124.92 L80.36,124.82 L80.47,124.71 L80.57,124.61 L80.68,124.51 L80.79,124.40 L80.89,124.30 L81.00,124.19 L81.11,124.09 L81.21,123.98 L81.32,123.88 L81.43,123.78 L81.53,123.67 L81.64,123.57 L81.75,123.46 L81.85,123.36 L81.96,123.25 L82.07,123.15 L82.17,123.04 L82.28,122.94 L82.39,122.84 L82.49,122.73 L82.60,122.63 L82.71,122.52 L82.81,122.42 L82.92,122.32 L83.03,122.21 L83.13,122.11 L83.24,122.01 L83.35,121.90 L83.45,121.80 L83.56,121.70 L83.67,121.60 L83.77,121.49 L83.88,121.39 L83.99,121.29 L84.09,121.19 L84.20,121.09 L84.31,120.99 L84.41,120.88 L84.52,120.78 L84.63,120.68 L84.73,120.58 L84.84,120.48 L84.95,120.38 L85.05,120.28 L85.16,120.18 L85.27,120.08 L85.37,119.99 L85.48,119.89 L85.59,119.79 L85.69,119.69 L85.80,119.59 L85.91,119.50 L86.01,119.40 L86.12,119.31 L86.23,119.21 L86.33,119.11 L86.44,119.02 L86.55,118.92 L86.65,118.83 L86.76,118.74 L86.87,118.64 L86.97,118.55 L87.08,118.46 L87.19,118.37 L87.29,118.28 L87.40,118.18 L87.51,118.09 L87.61,118.00 L87.72,117.91 L87.83,117.83 L87.93,117.74 L88.04,117.65 L88.15,117.56 L88.25,117.48 L88.36,117.39 L88.47,117.30 L88.57,117.22 L88.68,117.14 L88.79,117.05 L88.89,116.97 L89.00,116.89 L89.11,116.80 L89.21,116.72 L89.32,116.64 L89.43,116.56 L89.53,116.48 L89.64,116.40 L89.75,116.33 L89.85,116.25 L89.96,116.17 L90.07,116.10 L90.17,116.02 L90.28,115.95 L90.39,115.87 L90.49,115.80 L90.60,115.73 L90.71,115.66 L90.81,115.59 L90.92,115.52 L91.03,115.45 L91.13,115.38 L91.24,115.31 L91.35,115.25 L91.45,115.18 L91.56,115.11 L91.67,115.05 L91.77,114.99 L91.88,114.92 L91.99,114.86 L92.09,114.80 L92.20,114.74 L92.31,114.68 L92.41,114.62 L92.52,114.57 L92.63,114.51 L92.73,114.45 L92.84,114.40 L92.95,114.34 L93.05,114.29 L93.16,114.24 L93.27,114.19 L93.37,114.14 L93.48,114.09 L93.59,114.04 L93.69,113.99 L93.80,113.94 L93.91,113.90 L94.01,113.85 L94.12,113.81 L94.23,113.77 L94.33,113.73 L94.44,113.68 L94.55,113.64 L94.65,113.61 L94.76,113.57 L94.87,113.53 L94.97,113.49 L95.08,113.46 L95.19,113.43 L95.29,113.39 L95.40,113.36 L95.51,113.33 L95.61,113.30 L95.72,113.27 L95.83,113.24 L95.93,113.22 L96.04,113.19 L96.15,113.17 L96.25,113.14 L96.36,113.12 L96.47,113.10 L96.57,113.08 L96.68,113.06 L96.79,113.04 L96.89,113.02 L97.00,113.00 L97.11,112.99 L97.21,112.98 L97.32,112.96 L97.43,112.95 L97.53,112.94 L97.64,112.93 L97.75,112.92 L97.85,112.91 L97.96,112.90 L98.07,112.90 L98.17,112.89 L98.28,112.89 L98.39,112.89 L98.49,112.89 L98.60,112.89 L98.71,112.89 L98.81,112.89 L98.92,112.89 L99.03,112.89 L99.13,112.90 L99.24,112.90 L99.35,112.91 L99.45,112.92 L99.56,112.93 L99.67,112.94 L99.77,112.95 L99.88,112.96 L99.99,112.98 L100.09,112.99 L100.20,113.00 L100.31,113.02 L100.41,113.04 L100.52,113.06 L100.63,113.08 L100.73,113.10 L100.84,113.12 L100.95,113.14 L101.05,113.17 L101.16,113.19 L101.27,113.22 L101.37,113.24 L101.48,113.27 L101.59,113.30 L101.69,113.33 L101.80,113.36 L101.91,113.39 L102.01,113.43 L102.12,113.46 L102.23,113.49 L102.33,113.53 L102.44,113.57 L102.55,113.61 L102.65,113.64 L102.76,113.68 L102.87,113.73 L102.97,113.77 L103.08,113.81 L103.19,113.85 L103.29,113.90 L103.40,113.94 L103.51,113.99 L103.61,114.04 L103.72,114.09 L103.83,114.14 L103.93,114.19 L104.04,114.24 L104.15,114.29 L104.25,114.34 L104.36,114.40 L104.47,114.45 L104.57,114.51 L104.68,114.57 L104.79,114.62 L104.89,114.68 L105.00,114.74 L105.11,114.80 L105.21,114.86 L105.32,114.92 L105.43,114.99 L105.53,115.05 L105.64,115.11 L105.75,115.18 L105.85,115.25 L105.96,115.31 L106.07,115.38 L106.17,115.45 L106.28,115.52 L106.39,115.59 L106.49,115.66 L106.60,115.73 L106.71,115.80 L106.81,115.87 L106.92,115.95 L107.03,116.02 L107.13,116.10 L107.24,116.17 L107.35,116.25 L107.45,116.33 L107.56,116.40 L107.67,116.48 L107.77,116.56 L107.88,116.64 L107.99,116.72 L108.09,116.80 L108.20,116.89 L108.31,116.97 L108.41,117.05 L108.52,117.14 L108.63,117.22 L108.73,117.30 L108.84,117.39 L108.95,117.48 L109.05,117.56 L109.16,117.65 L109.27,117.74 L109.37,117.83 L109.48,117.91 L109.59,118.00 L109.69,118.09 L109.80,118.18 L109.91,118.28 L110.01,118.37 L110.12,118.46 L110.23,118.55 L110.33,118.64 L110.44,118.74 L110.55,118.83 L110.65,118.92 L110.76,119.02 L110.87,119.11 L110.97,119.21 L111.08,119.31 L111.19,119.40 L111.29,119.50 L111.40,119.59 L111.51,119.69 L111.61,119.79 L111.72,119.89 L111.83,119.99 L111.93,120.08 L112.04,120.18 L112.15,120.28 L112.25,120.38 L112.36,120.48 L112.47,120.58 L112.57,120.68 L112.68,120.78 L112.79,120.88 L112.89,120.99 L113.00,121.09 L113.11,121.19 L113.21,121.29 L113.32,121.39 L113.43,121.49 L113.53,121.60 L113.64,121.70 L113.75,121.80 L113.85,121.90 L113.96,122.01 L114.07,122.11 L114.17,122.21 L114.28,122.32 L114.39,122.42 L114.49,122.52 L114.60,122.63 L114.71,122.73 L114.81,122.84 L114.92,122.94 L115.03,123.04 L115.13,123.15 L115.24,123.25 L115.35,123.36 L115.45,123.46 L115.56,123.57 L115.67,123.67 L115.77,123.78 L115.88,123.88 L115.99,123.98 L116.09,124.09 L116.20,124.19 L116.31,124.30 L116.41,124.40 L116.52,124.51 L116.63,124.61 L116.73,124.71 L116.84,124.82 L116.95,124.92 L117.05,125.03 L117.16,125.13 L117.27,125.23 L117.37,125.34 L117.48,125.44 L117.59,125.54 L117.69,125.65 L117.80,125.75 L117.91,125.85 L118.01,125.96 L118.12,126.06 L118.23,126.16 L118.33,126.26 L118.44,126.37 L118.55,126.47 L118.65,126.57 L118.76,126.67 L118.87,126.77 L118.97,126.87 L119.08,126.97 L119.19,127.08 L119.29,127.18 L119.40,127.28 L119.51,127.38 L119.61,127.48 L119.72,127.58 L119.83,127.67 L119.93,127.77 L120.04,127.87 L120.15,127.97 L120.25,128.07 L120.36,128.17 L120.47,128.27 L120.57,128.36 L120.68,128.46 L120.79,128.56 L120.89,128.65 L121.00,128.75 L121.11,128.84 L121.21,128.94 L121.32,129.04 L121.43,129.13 L121.53,129.23 L121.64,129.32 L121.75,129.41 L121.85,129.51 L121.96,129.60 L122.07,129.69 L122.17,129.79 L122.28,129.88 L122.39,129.97 L122.49,130.06 L122.60,130.15 L122.71,130.24 L122.81,130.33 L122.92,130.42 L123.03,130.51 L123.13,130.60 L123.24,130.69 L123.35,130.78 L123.45,130.86 L123.56,130.95 L123.67,131.04 L123.77,131.13 L123.88,131.21 L123.99,131.30 L124.09,131.38 L124.20,131.47 L124.31,131.55 L124.41,131.64 L124.52,131.72 L124.63,131.80 L124.73,131.89 L124.84,131.97 L124.95,132.05 L125.05,132.13 L125.16,132.21 L125.27,132.29 L125.37,132.37 L125.48,132.45 L125.59,132.53 L125.69,132.61 L125.80,132.69 L125.91,132.77 L126.01,132.84 L126.12,132.92 L126.23,133.00 L126.33,133.07 L126.44,133.15 L126.55,133.22 L126.65,133.30 L126.76,133.37 L126.87,133.45 L126.97,133.52 L127.08,133.59 L127.19,133.66 L127.29,133.73 L127.40,133.81 L127.51,133.88 L127.61,133.95 L127.72,134.02 L127.83,134.09 L127.93,134.16 L128.04,134.22 L128.15,134.29 L128.25,134.36 L128.36,134.43 L128.47,134.49 L128.57,134.56 L128.68,134.62 L128.79,134.69 L128.89,134.75 L129.00,134.82 L129.11,134.88 L129.21,134.94 L129.32,135.01 L129.43,135.07 L129.53,135.13 L129.64,135.19 L129.75,135.25 L129.85,135.31 L129.96,135.37 L130.07,135.43 L130.17,135.49 L130.28,135.55 L130.39,135.61 L130.49,135.67 L130.60,135.72 L130.71,135.78 L130.81,135.83 L130.92,135.89 L131.03,135.95 L131.13,136.00 L131.24,136.05 L131.35,136.11 L131.45,136.16 L131.56,136.21 L131.67,136.27 L131.77,136.32 L131.88,136.37 L131.99,136.42 L132.09,136.47 L132.20,136.52 L132.31,136.57 L132.41,136.62 L132.52,136.67 L132.63,136.72 L132.73,136.77 L132.84,136.81 L132.95,136.86 L133.05,136.91 L133.16,136.95 L133.27,137.00 L133.37,137.05 L133.48,137.09 L133.59,137.13 L133.69,137.18 L133.80,137.22 L133.91,137.27 L134.01,137.31 L134.12,137.35 L134.23,137.39 L134.33,137.43 L134.44,137.48 L134.55,137.52 L134.65,137.56 L134.76,137.60 L134.87,137.64 L134.97,137.68 L135.08,137.71 L135.19,137.75 L135.29,137.79 L135.40,137.83 L135.51,137.87 L135.61,137.90 L135.72,137.94 L135.83,137.97 L135.93,138.01 L136.04,138.05 L136.15,138.08 L136.25,138.12 L136.36,138.15 L136.47,138.18 L136.57,138.22 L136.68,138.25 L136.79,138.28 L136.89,138.32 L137.00,138.35 L137.11,138.38 L137.21,138.41 L137.32,138.44 L137.43,138.47 L137.53,138.50 L137.64,138.53 L137.75,138.56 L137.85,138.59 L137.96,138.62 L138.07,138.65 L138.17,138.68 L138.28,138.70 L138.39,138.73 L138.49,138.76 L138.60,138.79 L138.71,138.81 L138.81,138.84 L138.92,138.87 L139.03,138.89 L139.13,138.92 L139.24,138.94 L139.35,138.97 L139.45,138.99 L139.56,139.02 L139.67,139.04 L139.77,139.06 L139.88,139.09 L139.99,139.11 L140.09,139.13 L140.20,139.16 L140.31,139.18 L140.41,139.20 L140.52,139.22 L140.63,139.24 L140.73,139.26 L140.84,139.28 L140.95,139.31 L141.05,139.33 L141.16,139.35 L141.27,139.37 L141.37,139.39 L141.48,139.40 L141.59,139.42 L141.69,139.44 L141.80,139.46 L141.91,139.48 L142.01,139.50 L142.12,139.52 L142.23,139.53 L142.33,139.55 L142.44,139.57 L142.55,139.58 L142.65,139.60 L142.76,139.62 L142.87,139.63 L142.97,139.65 L143.08,139.67 L143.19,139.68 L143.29,139.70 L143.40,139.71 L143.51,139.73 L143.61,139.74 L143.72,139.76 L143.83,139.77 L143.93,139.79 L144.04,139.80 L144.15,139.81 L144.25,139.83 L144.36,139.84 L144.47,139.85 L144.57,139.87 L144.68,139.88 L144.79,139.89 L144.89,139.91 L145.00,139.92 L145.11,139.93 L145.21,139.94 L145.32,139.95 L145.43,139.97 L145.53,139.98 L145.64,139.99 L145.75,140.00 L145.85,140.01 L145.96,140.02 L146.07,140.03 L146.17,140.04 L146.28,140.05 L146.39,140.06 L146.49,140.07 L146.60,140.08 L146.71,140.09 L146.81,140.10 L146.92,140.11 L147.03,140.12 L147.13,140.13 L147.24,140.14 L147.35,140.15 L147.45,140.16 L147.56,140.16 L147.67,140.17 L147.77,140.18 L147.88,140.19 L147.99,140.20 L148.09,140.21 L148.20,140.21 L148.31,140.22 L148.41,140.23 L148.52,140.24 L148.63,140.24 L148.73,140.25 L148.84,140.26 L148.95,140.27 L149.05,140.27 L149.16,140.28 L149.27,140.29 L149.37,140.29 L149.48,140.30 L149.59,140.31 L149.69,140.31 L149.80,140.32 L149.91,140.32 L150.01,140.33 L150.12,140.34 L150.23,140.34 L150.33,140.35 L150.44,140.35 L150.55,140.36 L150.65,140.36 L150.76,140.37 L150.87,140.37 L150.97,140.38 L151.08,140.38 L151.19,140.39 L151.29,140.39 L151.40,140.40 L151.51,140.40 L151.61,140.41 L151.72,140.41 L151.83,140.42 L151.93,140.42 L152.04,140.43 L152.15,140.43 L152.25,140.43 L152.36,140.44 L152.47,140.44 L152.57,140.45 L152.68,140.45 L152.79,140.45 L152.89,140.46 L153.00,140.46 L153.11,140.47 L153.21,140.47 L153.32,140.47 L153.43,140.48 L153.53,140.48 L153.64,140.48 L153.75,140.49 L153.85,140.49 L153.96,140.49 L154.07,140.50 L154.17,140.50 L154.28,140.50 L154.39,140.50 L154.49,140.51 L154.60,140.51 L154.71,140.51 L154.81,140.52 L154.92,140.52 L155.03,140.52 L155.13,140.52 L155.24,140.53 L155.35,140.53 L155.45,140.53 L155.56,140.53 L155.67,140.54 L155.77,140.54 L155.88,140.54 L155.99,140.54 L156.09,140.55 L156.20,140.55 L156.31,140.55 L156.41,140.55 L156.52,140.55 L156.63,140.56 L156.73,140.56 L156.84,140.56 L156.95,140.56 L157.05,140.56 L157.16,140.57 L157.27,140.57 L157.37,140.57 L157.48,140.57 L157.59,140.57 L157.69,140.57 L157.80,140.58 L157.91,140.58 L158.01,140.58 L158.12,140.58 L158.23,140.58 L158.33,140.58 L158.44,140.58 L158.55,140.59 L158.65,140.59 L158.76,140.59 L158.87,140.59 L158.97,140.59 L159.08,140.59 L159.19,140.59 L159.29,140.59 L159.40,140.60 L159.51,140.60 L159.61,140.60 L159.72,140.60 L159.83,140.60 L159.93,140.60 L160.04,140.60 L160.15,140.60 L160.25,140.60 L160.36,140.61 L160.47,140.61 L160.57,140.61 L160.68,140.61 L160.79,140.61 L160.89,140.61 L161.00,140.61 L161.11,140.61 L161.21,140.61 L161.32,140.61 L161.43,140.61 L161.53,140.62 L161.64,140.62 L161.75,140.62 L161.85,140.62 L161.96,140.62 L162.07,140.62 L162.17,140.62 L162.28,140.62 L162.39,140.62 L162.49,140.62 L162.60,140.62" fill="none" stroke="#000" stroke-width="1.5"/>
<path d="M41.71,100.0v4.5M41.71,182.0v-4.5M55.93,100.0v2.5M55.93,182.0v-2.5M70.16,100.0v4.5M70.16,182.0v-4.5M84.38,100.0v2.5M84.38,182.0v-2.5M98.60,100.0v4.5M98.60,182.0v-4.5M112.82,100.0v2.5M112.82,182.0v-2.5M127.04,100.0v4.5M127.04,182.0v-4.5M141.27,100.0v2.5M141.27,182.0v-2.5M155.49,100.0v4.5M155.49,182.0v-4.5M34.6,179.50h2.8M162.6,179.50h-2.8M34.6,166.55h5M162.6,166.55h-5M34.6,153.60h2.8M162.6,153.60h-2.8M34.6,140.65h5M162.6,140.65h-5M34.6,127.70h2.8M162.6,127.70h-2.8M34.6,114.75h5M162.6,114.75h-5M34.6,101.80h2.8M162.6,101.80h-2.8" stroke="#222" stroke-width="1.0" fill="none"/>
<rect x="34.6" y="100.0" width="128.0" height="82.0" fill="none" stroke="#222" stroke-width="1.0"/>
<text class="ty" x="30.6" y="118.65" text-anchor="end">5</text>
<text class="ty" x="30.6" y="144.55" text-anchor="end">0</text>
<text class="ty" x="30.6" y="170.45" text-anchor="end">-5</text>
</g>
<g>
<rect x="196.1" y="100.0" width="127.79999999999998" height="82.0" fill="none" stroke="#222" stroke-width="1.0"/>
<path d="M196.10,100.0v4.5M196.10,182.0v-4.5M206.75,100.0v2.5M206.75,182.0v-2.5M217.40,100.0v4.5M217.40,182.0v-4.5M228.05,100.0v2.5M228.05,182.0v-2.5M238.70,100.0v4.5M238.70,182.0v-4.5M249.35,100.0v2.5M249.35,182.0v-2.5M260.00,100.0v4.5M260.00,182.0v-4.5M270.65,100.0v2.5M270.65,182.0v-2.5M281.30,100.0v4.5M281.30,182.0v-4.5M291.95,100.0v2.5M291.95,182.0v-2.5M302.60,100.0v4.5M302.60,182.0v-4.5M313.25,100.0v2.5M313.25,182.0v-2.5M323.90,100.0v4.5M323.90,182.0v-4.5M196.1,182.00h5M196.1,156.00h5M196.1,130.00h5M196.1,104.00h5M196.1,169.00h2.8M196.1,143.00h2.8M196.1,117.00h2.8M323.9,182.00h-5M323.9,144.20h-5M323.9,106.40h-5M323.9,163.10h-2.8M323.9,125.30h-2.8" stroke="#222" stroke-width="1.0" fill="none"/>
<clipPath id="c1"><rect x="195.6" y="99.5" width="128.79999999999998" height="83.2"/></clipPath>
<g clip-path="url(#c1)">
<path d="M196.10,182.00 L196.63,182.00 L197.16,182.00 L197.70,182.00 L198.23,182.00 L198.76,182.00 L199.29,182.00 L199.83,182.00 L200.36,182.00 L200.89,182.00 L201.42,182.00 L201.96,182.00 L202.49,182.00 L203.02,182.00 L203.56,182.00 L204.09,182.00 L204.62,182.00 L205.15,182.00 L205.69,182.00 L206.22,182.00 L206.75,182.00 L207.28,182.00 L207.81,182.00 L208.35,182.00 L208.88,182.00 L209.41,182.00 L209.94,182.00 L210.48,182.00 L211.01,182.00 L211.54,182.00 L212.07,182.00 L212.61,182.00 L213.14,182.00 L213.67,182.00 L214.20,182.00 L214.74,182.00 L215.27,182.00 L215.80,182.00 L216.33,182.00 L216.87,182.00 L217.40,182.00 L217.93,182.00 L218.47,182.00 L219.00,182.00 L219.53,182.00 L220.06,182.00 L220.59,182.00 L221.13,182.00 L221.66,182.00 L222.19,182.00 L222.72,182.00 L223.26,182.00 L223.79,182.00 L224.32,182.00 L224.85,182.00 L225.39,182.00 L225.92,182.00 L226.45,182.00 L226.98,182.00 L227.52,182.00 L228.05,182.00 L228.58,182.00 L229.11,182.00 L229.65,182.00 L230.18,182.00 L230.71,182.00 L231.25,182.00 L231.78,182.00 L232.31,182.00 L232.84,182.00 L233.38,182.00 L233.91,182.00 L234.44,182.00 L234.97,182.00 L235.50,181.99 L236.04,181.99 L236.57,181.99 L237.10,181.98 L237.63,181.97 L238.17,181.96 L238.70,181.94 L239.23,181.92 L239.76,181.89 L240.30,181.85 L240.83,181.79 L241.36,181.71 L241.89,181.60 L242.43,181.46 L242.96,181.28 L243.49,181.05 L244.02,180.75 L244.56,180.38 L245.09,179.91 L245.62,179.33 L246.15,178.62 L246.69,177.76 L247.22,176.73 L247.75,175.50 L248.28,174.06 L248.82,172.39 L249.35,170.47 L249.88,168.28 L250.41,165.83 L250.95,163.10 L251.48,160.11 L252.01,156.88 L252.54,153.41 L253.08,149.77 L253.61,145.97 L254.14,142.09 L254.67,138.18 L255.21,134.31 L255.74,130.57 L256.27,127.02 L256.81,123.74 L257.34,120.82 L257.87,118.32 L258.40,116.30 L258.94,114.83 L259.47,113.92 L260.00,113.62 L260.53,113.92 L261.06,114.83 L261.60,116.30 L262.13,118.32 L262.66,120.82 L263.19,123.74 L263.73,127.02 L264.26,130.57 L264.79,134.31 L265.32,138.18 L265.86,142.09 L266.39,145.97 L266.92,149.77 L267.45,153.41 L267.99,156.88 L268.52,160.11 L269.05,163.10 L269.58,165.83 L270.12,168.28 L270.65,170.47 L271.18,172.39 L271.71,174.06 L272.25,175.50 L272.78,176.73 L273.31,177.76 L273.84,178.62 L274.38,179.33 L274.91,179.91 L275.44,180.38 L275.97,180.75 L276.51,181.05 L277.04,181.28 L277.57,181.46 L278.10,181.60 L278.64,181.71 L279.17,181.79 L279.70,181.85 L280.24,181.89 L280.77,181.92 L281.30,181.94 L281.83,181.96 L282.37,181.97 L282.90,181.98 L283.43,181.99 L283.96,181.99 L284.50,181.99 L285.03,182.00 L285.56,182.00 L286.09,182.00 L286.62,182.00 L287.16,182.00 L287.69,182.00 L288.22,182.00 L288.75,182.00 L289.29,182.00 L289.82,182.00 L290.35,182.00 L290.88,182.00 L291.42,182.00 L291.95,182.00 L292.48,182.00 L293.01,182.00 L293.55,182.00 L294.08,182.00 L294.61,182.00 L295.14,182.00 L295.68,182.00 L296.21,182.00 L296.74,182.00 L297.27,182.00 L297.81,182.00 L298.34,182.00 L298.87,182.00 L299.40,182.00 L299.94,182.00 L300.47,182.00 L301.00,182.00 L301.53,182.00 L302.07,182.00 L302.60,182.00 L303.13,182.00 L303.66,182.00 L304.20,182.00 L304.73,182.00 L305.26,182.00 L305.79,182.00 L306.33,182.00 L306.86,182.00 L307.39,182.00 L307.92,182.00 L308.46,182.00 L308.99,182.00 L309.52,182.00 L310.05,182.00 L310.59,182.00 L311.12,182.00 L311.65,182.00 L312.19,182.00 L312.72,182.00 L313.25,182.00 L313.78,182.00 L314.31,182.00 L314.85,182.00 L315.38,182.00 L315.91,182.00 L316.44,182.00 L316.98,182.00 L317.51,182.00 L318.04,182.00 L318.57,182.00 L319.11,182.00 L319.64,182.00 L320.17,182.00 L320.70,182.00 L321.24,182.00 L321.77,182.00 L322.30,182.00 L322.83,182.00 L323.37,182.00 L323.90,182.00" fill="none" stroke="#0000ff" stroke-width="1.3"/>
<path d="M196.10,163.10 L196.63,163.10 L197.16,163.10 L197.70,163.10 L198.23,163.10 L198.76,163.10 L199.29,163.10 L199.83,163.10 L200.36,163.10 L200.89,163.10 L201.42,163.10 L201.96,163.10 L202.49,163.10 L203.02,163.10 L203.56,163.10 L204.09,163.10 L204.62,163.10 L205.15,163.10 L205.69,163.10 L206.22,163.10 L206.75,163.10 L207.28,163.10 L207.81,163.10 L208.35,163.10 L208.88,163.10 L209.41,163.10 L209.94,163.10 L210.48,163.10 L211.01,163.10 L211.54,163.10 L212.07,163.10 L212.61,163.10 L213.14,163.10 L213.67,163.10 L214.20,163.10 L214.74,163.10 L215.27,163.10 L215.80,163.10 L216.33,163.10 L216.87,163.10 L217.40,163.10 L217.93,163.10 L218.47,163.10 L219.00,163.10 L219.53,163.10 L220.06,163.10 L220.59,163.10 L221.13,163.10 L221.66,163.10 L222.19,163.10 L222.72,163.10 L223.26,163.10 L223.79,163.10 L224.32,163.10 L224.85,163.10 L225.39,163.10 L225.92,163.10 L226.45,163.10 L226.98,163.10 L227.52,163.10 L228.05,163.10 L228.58,163.10 L229.11,163.10 L229.65,163.10 L230.18,163.10 L230.71,163.10 L231.25,163.10 L231.78,163.10 L232.31,163.10 L232.84,163.10 L233.38,163.10 L233.91,163.10 L234.44,163.10 L234.97,163.10 L235.50,163.10 L236.04,163.10 L236.57,163.10 L237.10,163.10 L237.63,163.10 L238.17,163.10 L238.70,163.10 L239.23,163.10 L239.76,163.10 L240.30,163.10 L240.83,163.10 L241.36,163.10 L241.89,163.10 L242.43,163.10 L242.96,163.10 L243.49,163.10 L244.02,163.10 L244.56,163.10 L245.09,163.10 L245.62,163.10 L246.15,163.10 L246.69,163.10 L247.22,163.10 L247.75,163.10 L248.28,163.10 L248.82,163.10 L249.35,163.10 L249.88,163.10 L250.41,163.10 L250.95,163.10 L251.48,163.10 L252.01,163.10 L252.54,163.10 L253.08,163.10 L253.61,163.10 L254.14,163.10 L254.67,163.10 L255.21,163.10 L255.74,163.10 L256.27,163.10 L256.81,163.10 L257.34,163.10 L257.87,163.10 L258.40,163.10 L258.94,163.10 L259.47,163.10 L260.00,163.10 L260.53,163.10 L261.06,163.10 L261.60,163.10 L262.13,163.10 L262.66,163.10 L263.19,163.10 L263.73,163.10 L264.26,163.10 L264.79,163.10 L265.32,163.10 L265.86,163.10 L266.39,163.10 L266.92,163.10 L267.45,163.10 L267.99,163.10 L268.52,163.10 L269.05,163.10 L269.58,163.10 L270.12,163.10 L270.65,163.10 L271.18,163.10 L271.71,163.10 L272.25,163.10 L272.78,163.10 L273.31,163.10 L273.84,163.10 L274.38,163.10 L274.91,163.10 L275.44,163.10 L275.97,163.10 L276.51,163.10 L277.04,163.10 L277.57,163.10 L278.10,163.10 L278.64,163.10 L279.17,163.10 L279.70,163.10 L280.24,163.10 L280.77,163.10 L281.30,163.10 L281.83,163.10 L282.37,163.10 L282.90,163.10 L283.43,163.10 L283.96,163.10 L284.50,163.10 L285.03,163.10 L285.56,163.10 L286.09,163.10 L286.62,163.10 L287.16,163.10 L287.69,163.10 L288.22,163.10 L288.75,163.10 L289.29,163.10 L289.82,163.10 L290.35,163.10 L290.88,163.10 L291.42,163.10 L291.95,163.10 L292.48,163.10 L293.01,163.10 L293.55,163.10 L294.08,163.10 L294.61,163.10 L295.14,163.10 L295.68,163.10 L296.21,163.10 L296.74,163.10 L297.27,163.10 L297.81,163.10 L298.34,163.10 L298.87,163.10 L299.40,163.10 L299.94,163.10 L300.47,163.10 L301.00,163.10 L301.53,163.10 L302.07,163.10 L302.60,163.10 L303.13,163.10 L303.66,163.10 L304.20,163.10 L304.73,163.10 L305.26,163.10 L305.79,163.10 L306.33,163.10 L306.86,163.10 L307.39,163.10 L307.92,163.10 L308.46,163.10 L308.99,163.10 L309.52,163.10 L310.05,163.10 L310.59,163.10 L311.12,163.10 L311.65,163.10 L312.19,163.10 L312.72,163.10 L313.25,163.10 L313.78,163.10 L314.31,163.10 L314.85,163.10 L315.38,163.10 L315.91,163.10 L316.44,163.10 L316.98,163.10 L317.51,163.10 L318.04,163.10 L318.57,163.10 L319.11,163.10 L319.64,163.10 L320.17,163.10 L320.70,163.10 L321.24,163.10 L321.77,163.10 L322.30,163.10 L322.83,163.10 L323.37,163.10 L323.90,163.10" fill="none" stroke="#ff0000" stroke-width="1.3"/>
</g>
<path d="M195.79999999999998,182.0H244.0M276.0,182.0H324.2" stroke="#22227a" stroke-width="1.35" fill="none"/>
<text class="ty" x="192.2" y="185.70" text-anchor="end">0</text>
<text class="ty" x="192.2" y="159.70" text-anchor="end">1</text>
<text class="ty" x="192.2" y="133.70" text-anchor="end">2</text>
<text class="ty" x="192.2" y="107.70" text-anchor="end">3</text>
<text class="ty" x="328.09999999999997" y="186.20">0</text>
<text class="ty" x="328.09999999999997" y="148.40">1</text>
<text class="ty" x="328.09999999999997" y="110.60">2</text>
</g>
<g>
<path d="M34.60,227.62 L34.71,227.62 L34.81,227.62 L34.92,227.62 L35.03,227.62 L35.13,227.62 L35.24,227.62 L35.35,227.62 L35.45,227.62 L35.56,227.62 L35.67,227.62 L35.77,227.61 L35.88,227.61 L35.99,227.61 L36.09,227.61 L36.20,227.61 L36.31,227.61 L36.41,227.61 L36.52,227.61 L36.63,227.61 L36.73,227.61 L36.84,227.61 L36.95,227.60 L37.05,227.60 L37.16,227.60 L37.27,227.60 L37.37,227.60 L37.48,227.60 L37.59,227.60 L37.69,227.60 L37.80,227.60 L37.91,227.59 L38.01,227.59 L38.12,227.59 L38.23,227.59 L38.33,227.59 L38.44,227.59 L38.55,227.59 L38.65,227.59 L38.76,227.58 L38.87,227.58 L38.97,227.58 L39.08,227.58 L39.19,227.58 L39.29,227.58 L39.40,227.58 L39.51,227.57 L39.61,227.57 L39.72,227.57 L39.83,227.57 L39.93,227.57 L40.04,227.57 L40.15,227.56 L40.25,227.56 L40.36,227.56 L40.47,227.56 L40.57,227.56 L40.68,227.56 L40.79,227.55 L40.89,227.55 L41.00,227.55 L41.11,227.55 L41.21,227.55 L41.32,227.54 L41.43,227.54 L41.53,227.54 L41.64,227.54 L41.75,227.54 L41.85,227.53 L41.96,227.53 L42.07,227.53 L42.17,227.53 L42.28,227.53 L42.39,227.52 L42.49,227.52 L42.60,227.52 L42.71,227.52 L42.81,227.51 L42.92,227.51 L43.03,227.51 L43.13,227.51 L43.24,227.50 L43.35,227.50 L43.45,227.50 L43.56,227.50 L43.67,227.50 L43.77,227.49 L43.88,227.49 L43.99,227.49 L44.09,227.49 L44.20,227.48 L44.31,227.48 L44.41,227.48 L44.52,227.48 L44.63,227.47 L44.73,227.47 L44.84,227.47 L44.95,227.47 L45.05,227.46 L45.16,227.46 L45.27,227.46 L45.37,227.46 L45.48,227.45 L45.59,227.45 L45.69,227.45 L45.80,227.45 L45.91,227.45 L46.01,227.44 L46.12,227.44 L46.23,227.44 L46.33,227.44 L46.44,227.44 L46.55,227.43 L46.65,227.43 L46.76,227.43 L46.87,227.43 L46.97,227.43 L47.08,227.43 L47.19,227.43 L47.29,227.42 L47.40,227.42 L47.51,227.42 L47.61,227.42 L47.72,227.42 L47.83,227.42 L47.93,227.42 L48.04,227.42 L48.15,227.42 L48.25,227.42 L48.36,227.42 L48.47,227.42 L48.57,227.42 L48.68,227.42 L48.79,227.42 L48.89,227.43 L49.00,227.43 L49.11,227.43 L49.21,227.43 L49.32,227.43 L49.43,227.44 L49.53,227.44 L49.64,227.44 L49.75,227.44 L49.85,227.45 L49.96,227.45 L50.07,227.46 L50.17,227.46 L50.28,227.47 L50.39,227.47 L50.49,227.48 L50.60,227.48 L50.71,227.49 L50.81,227.50 L50.92,227.50 L51.03,227.51 L51.13,227.52 L51.24,227.53 L51.35,227.54 L51.45,227.55 L51.56,227.56 L51.67,227.57 L51.77,227.58 L51.88,227.59 L51.99,227.60 L52.09,227.61 L52.20,227.62 L52.31,227.64 L52.41,227.65 L52.52,227.67 L52.63,227.68 L52.73,227.70 L52.84,227.71 L52.95,227.73 L53.05,227.75 L53.16,227.77 L53.27,227.78 L53.37,227.80 L53.48,227.82 L53.59,227.84 L53.69,227.86 L53.80,227.89 L53.91,227.91 L54.01,227.93 L54.12,227.96 L54.23,227.98 L54.33,228.01 L54.44,228.03 L54.55,228.06 L54.65,228.08 L54.76,228.11 L54.87,228.14 L54.97,228.17 L55.08,228.20 L55.19,228.23 L55.29,228.26 L55.40,228.29 L55.51,228.32 L55.61,228.36 L55.72,228.39 L55.83,228.42 L55.93,228.46 L56.04,228.49 L56.15,228.53 L56.25,228.57 L56.36,228.60 L56.47,228.64 L56.57,228.68 L56.68,228.72 L56.79,228.75 L56.89,228.79 L57.00,228.83 L57.11,228.87 L57.21,228.91 L57.32,228.95 L57.43,228.99 L57.53,229.03 L57.64,229.07 L57.75,229.11 L57.85,229.15 L57.96,229.19 L58.07,229.23 L58.17,229.28 L58.28,229.32 L58.39,229.36 L58.49,229.40 L58.60,229.43 L58.71,229.47 L58.81,229.51 L58.92,229.55 L59.03,229.59 L59.13,229.62 L59.24,229.66 L59.35,229.70 L59.45,229.73 L59.56,229.76 L59.67,229.80 L59.77,229.83 L59.88,229.86 L59.99,229.89 L60.09,229.91 L60.20,229.94 L60.31,229.97 L60.41,229.99 L60.52,230.01 L60.63,230.03 L60.73,230.05 L60.84,230.06 L60.95,230.08 L61.05,230.09 L61.16,230.10 L61.27,230.10 L61.37,230.11 L61.48,230.11 L61.59,230.11 L61.69,230.10 L61.80,230.10 L61.91,230.09 L62.01,230.08 L62.12,230.06 L62.23,230.04 L62.33,230.02 L62.44,230.00 L62.55,229.97 L62.65,229.93 L62.76,229.90 L62.87,229.86 L62.97,229.81 L63.08,229.77 L63.19,229.72 L63.29,229.66 L63.40,229.60 L63.51,229.54 L63.61,229.47 L63.72,229.40 L63.83,229.32 L63.93,229.24 L64.04,229.16 L64.15,229.07 L64.25,228.98 L64.36,228.88 L64.47,228.78 L64.57,228.67 L64.68,228.56 L64.79,228.45 L64.89,228.33 L65.00,228.21 L65.11,228.08 L65.21,227.95 L65.32,227.81 L65.43,227.67 L65.53,227.53 L65.64,227.38 L65.75,227.23 L65.85,227.08 L65.96,226.92 L66.07,226.76 L66.17,226.60 L66.28,226.43 L66.39,226.26 L66.49,226.09 L66.60,225.91 L66.71,225.73 L66.81,225.55 L66.92,225.37 L67.03,225.19 L67.13,225.00 L67.24,224.82 L67.35,224.63 L67.45,224.44 L67.56,224.26 L67.67,224.07 L67.77,223.88 L67.88,223.70 L67.99,223.51 L68.09,223.33 L68.20,223.14 L68.31,222.96 L68.41,222.79 L68.52,222.61 L68.63,222.44 L68.73,222.27 L68.84,222.11 L68.95,221.95 L69.05,221.79 L69.16,221.64 L69.27,221.50 L69.37,221.36 L69.48,221.23 L69.59,221.10 L69.69,220.98 L69.80,220.87 L69.91,220.77 L70.01,220.68 L70.12,220.59 L70.23,220.52 L70.33,220.45 L70.44,220.40 L70.55,220.35 L70.65,220.32 L70.76,220.30 L70.87,220.29 L70.97,220.29 L71.08,220.30 L71.19,220.33 L71.29,220.37 L71.40,220.43 L71.51,220.49 L71.61,220.57 L71.72,220.67 L71.83,220.78 L71.93,220.90 L72.04,221.04 L72.15,221.19 L72.25,221.36 L72.36,221.54 L72.47,221.74 L72.57,221.95 L72.68,222.18 L72.79,222.42 L72.89,222.68 L73.00,222.95 L73.11,223.23 L73.21,223.53 L73.32,223.85 L73.43,224.18 L73.53,224.52 L73.64,224.87 L73.75,225.24 L73.85,225.62 L73.96,226.01 L74.07,226.41 L74.17,226.82 L74.28,227.25 L74.39,227.68 L74.49,228.12 L74.60,228.57 L74.71,229.03 L74.81,229.49 L74.92,229.96 L75.03,230.43 L75.13,230.91 L75.24,231.39 L75.35,231.87 L75.45,232.35 L75.56,232.84 L75.67,233.32 L75.77,233.80 L75.88,234.27 L75.99,234.74 L76.09,235.21 L76.20,235.67 L76.31,236.11 L76.41,236.56 L76.52,236.99 L76.63,237.40 L76.73,237.81 L76.84,238.20 L76.95,238.57 L77.05,238.93 L77.16,239.27 L77.27,239.59 L77.37,239.89 L77.48,240.17 L77.59,240.43 L77.69,240.66 L77.80,240.86 L77.91,241.04 L78.01,241.20 L78.12,241.32 L78.23,241.42 L78.33,241.49 L78.44,241.52 L78.55,241.53 L78.65,241.50 L78.76,241.44 L78.87,241.35 L78.97,241.22 L79.08,241.06 L79.19,240.86 L79.29,240.63 L79.40,240.37 L79.51,240.07 L79.61,239.73 L79.72,239.37 L79.83,238.96 L79.93,238.52 L80.04,238.05 L80.15,237.55 L80.25,237.01 L80.36,236.44 L80.47,235.84 L80.57,235.21 L80.68,234.56 L80.79,233.87 L80.89,233.16 L81.00,232.42 L81.11,231.66 L81.21,230.88 L81.32,230.08 L81.43,229.26 L81.53,228.42 L81.64,227.57 L81.75,226.71 L81.85,225.84 L81.96,224.96 L82.07,224.07 L82.17,223.18 L82.28,222.29 L82.39,221.41 L82.49,220.52 L82.60,219.65 L82.71,218.78 L82.81,217.92 L82.92,217.08 L83.03,216.26 L83.13,215.46 L83.24,214.68 L83.35,213.93 L83.45,213.21 L83.56,212.51 L83.67,211.85 L83.77,211.23 L83.88,210.64 L83.99,210.10 L84.09,209.60 L84.20,209.14 L84.31,208.74 L84.41,208.38 L84.52,208.07 L84.63,207.82 L84.73,207.62 L84.84,207.48 L84.95,207.40 L85.05,207.38 L85.16,207.41 L85.27,207.51 L85.37,207.67 L85.48,207.89 L85.59,208.18 L85.69,208.52 L85.80,208.93 L85.91,209.40 L86.01,209.94 L86.12,210.53 L86.23,211.18 L86.33,211.90 L86.44,212.66 L86.55,213.49 L86.65,214.37 L86.76,215.30 L86.87,216.27 L86.97,217.30 L87.08,218.37 L87.19,219.48 L87.29,220.63 L87.40,221.81 L87.51,223.02 L87.61,224.26 L87.72,225.52 L87.83,226.81 L87.93,228.11 L88.04,229.42 L88.15,230.73 L88.25,232.05 L88.36,233.37 L88.47,234.68 L88.57,235.98 L88.68,237.26 L88.79,238.52 L88.89,239.76 L89.00,240.96 L89.11,242.13 L89.21,243.26 L89.32,244.35 L89.43,245.39 L89.53,246.37 L89.64,247.30 L89.75,248.17 L89.85,248.97 L89.96,249.70 L90.07,250.36 L90.17,250.94 L90.28,251.45 L90.39,251.87 L90.49,252.21 L90.60,252.46 L90.71,252.63 L90.81,252.70 L90.92,252.69 L91.03,252.58 L91.13,252.38 L91.24,252.08 L91.35,251.70 L91.45,251.22 L91.56,250.65 L91.67,249.98 L91.77,249.23 L91.88,248.40 L91.99,247.47 L92.09,246.47 L92.20,245.39 L92.31,244.23 L92.41,243.00 L92.52,241.71 L92.63,240.35 L92.73,238.93 L92.84,237.46 L92.95,235.95 L93.05,234.39 L93.16,232.79 L93.27,231.17 L93.37,229.53 L93.48,227.86 L93.59,226.19 L93.69,224.51 L93.80,222.84 L93.91,221.18 L94.01,219.53 L94.12,217.91 L94.23,216.32 L94.33,214.78 L94.44,213.27 L94.55,211.82 L94.65,210.43 L94.76,209.10 L94.87,207.84 L94.97,206.66 L95.08,205.57 L95.19,204.56 L95.29,203.65 L95.40,202.83 L95.51,202.12 L95.61,201.51 L95.72,201.01 L95.83,200.63 L95.93,200.36 L96.04,200.21 L96.15,200.18 L96.25,200.26 L96.36,200.47 L96.47,200.80 L96.57,201.25 L96.68,201.81 L96.79,202.50 L96.89,203.29 L97.00,204.20 L97.11,205.22 L97.21,206.34 L97.32,207.55 L97.43,208.87 L97.53,210.27 L97.64,211.75 L97.75,213.31 L97.85,214.94 L97.96,216.64 L98.07,218.38 L98.17,220.18 L98.28,222.01 L98.39,223.87 L98.49,225.75 L98.60,227.65 L98.71,229.55 L98.81,231.44 L98.92,233.32 L99.03,235.17 L99.13,236.99 L99.24,238.77 L99.35,240.49 L99.45,242.16 L99.56,243.76 L99.67,245.28 L99.77,246.71 L99.88,248.06 L99.99,249.30 L100.09,250.44 L100.20,251.47 L100.31,252.38 L100.41,253.17 L100.52,253.83 L100.63,254.36 L100.73,254.75 L100.84,255.02 L100.95,255.14 L101.05,255.12 L101.16,254.96 L101.27,254.67 L101.37,254.23 L101.48,253.66 L101.59,252.96 L101.69,252.13 L101.80,251.17 L101.91,250.09 L102.01,248.89 L102.12,247.58 L102.23,246.17 L102.33,244.67 L102.44,243.07 L102.55,241.40 L102.65,239.66 L102.76,237.85 L102.87,235.99 L102.97,234.09 L103.08,232.16 L103.19,230.21 L103.29,228.24 L103.40,226.28 L103.51,224.33 L103.61,222.40 L103.72,220.50 L103.83,218.65 L103.93,216.85 L104.04,215.12 L104.15,213.45 L104.25,211.87 L104.36,210.39 L104.47,209.00 L104.57,207.72 L104.68,206.56 L104.79,205.51 L104.89,204.60 L105.00,203.82 L105.11,203.18 L105.21,202.68 L105.32,202.33 L105.43,202.12 L105.53,202.06 L105.64,202.15 L105.75,202.38 L105.85,202.76 L105.96,203.29 L106.07,203.95 L106.17,204.75 L106.28,205.69 L106.39,206.75 L106.49,207.92 L106.60,209.21 L106.71,210.61 L106.81,212.10 L106.92,213.68 L107.03,215.33 L107.13,217.05 L107.24,218.83 L107.35,220.65 L107.45,222.50 L107.56,224.38 L107.67,226.27 L107.77,228.16 L107.88,230.03 L107.99,231.88 L108.09,233.69 L108.20,235.46 L108.31,237.17 L108.41,238.81 L108.52,240.37 L108.63,241.84 L108.73,243.21 L108.84,244.48 L108.95,245.64 L109.05,246.67 L109.16,247.58 L109.27,248.35 L109.37,248.98 L109.48,249.48 L109.59,249.83 L109.69,250.04 L109.80,250.10 L109.91,250.01 L110.01,249.78 L110.12,249.40 L110.23,248.89 L110.33,248.24 L110.44,247.46 L110.55,246.55 L110.65,245.53 L110.76,244.39 L110.87,243.15 L110.97,241.82 L111.08,240.40 L111.19,238.91 L111.29,237.35 L111.40,235.74 L111.51,234.08 L111.61,232.40 L111.72,230.70 L111.83,228.99 L111.93,227.28 L112.04,225.59 L112.15,223.93 L112.25,222.31 L112.36,220.74 L112.47,219.23 L112.57,217.79 L112.68,216.44 L112.79,215.17 L112.89,214.00 L113.00,212.94 L113.11,211.99 L113.21,211.17 L113.32,210.46 L113.43,209.89 L113.53,209.44 L113.64,209.13 L113.75,208.96 L113.85,208.92 L113.96,209.02 L114.07,209.25 L114.17,209.62 L114.28,210.11 L114.39,210.72 L114.49,211.45 L114.60,212.29 L114.71,213.24 L114.81,214.28 L114.92,215.42 L115.03,216.63 L115.13,217.90 L115.24,219.24 L115.35,220.63 L115.45,222.05 L115.56,223.51 L115.67,224.97 L115.77,226.44 L115.88,227.91 L115.99,229.35 L116.09,230.77 L116.20,232.15 L116.31,233.47 L116.41,234.74 L116.52,235.94 L116.63,237.06 L116.73,238.09 L116.84,239.04 L116.95,239.88 L117.05,240.62 L117.16,241.24 L117.27,241.76 L117.37,242.15 L117.48,242.43 L117.59,242.59 L117.69,242.63 L117.80,242.54 L117.91,242.35 L118.01,242.03 L118.12,241.61 L118.23,241.08 L118.33,240.44 L118.44,239.72 L118.55,238.90 L118.65,238.01 L118.76,237.04 L118.87,236.01 L118.97,234.92 L119.08,233.79 L119.19,232.63 L119.29,231.44 L119.40,230.23 L119.51,229.02 L119.61,227.81 L119.72,226.62 L119.83,225.46 L119.93,224.33 L120.04,223.24 L120.15,222.20 L120.25,221.23 L120.36,220.32 L120.47,219.49 L120.57,218.74 L120.68,218.08 L120.79,217.50 L120.89,217.03 L121.00,216.65 L121.11,216.37 L121.21,216.19 L121.32,216.11 L121.43,216.13 L121.53,216.26 L121.64,216.48 L121.75,216.79 L121.85,217.19 L121.96,217.68 L122.07,218.25 L122.17,218.89 L122.28,219.60 L122.39,220.37 L122.49,221.19 L122.60,222.06 L122.71,222.96 L122.81,223.89 L122.92,224.84 L123.03,225.79 L123.13,226.75 L123.24,227.70 L123.35,228.64 L123.45,229.55 L123.56,230.43 L123.67,231.27 L123.77,232.06 L123.88,232.80 L123.99,233.48 L124.09,234.09 L124.20,234.63 L124.31,235.10 L124.41,235.50 L124.52,235.81 L124.63,236.04 L124.73,236.19 L124.84,236.26 L124.95,236.25 L125.05,236.15 L125.16,235.98 L125.27,235.73 L125.37,235.41 L125.48,235.02 L125.59,234.57 L125.69,234.06 L125.80,233.50 L125.91,232.90 L126.01,232.25 L126.12,231.57 L126.23,230.87 L126.33,230.15 L126.44,229.42 L126.55,228.68 L126.65,227.95 L126.76,227.23 L126.87,226.53 L126.97,225.85 L127.08,225.20 L127.19,224.59 L127.29,224.02 L127.40,223.50 L127.51,223.03 L127.61,222.61 L127.72,222.25 L127.83,221.96 L127.93,221.72 L128.04,221.55 L128.15,221.45 L128.25,221.40 L128.36,221.43 L128.47,221.51 L128.57,221.66 L128.68,221.86 L128.79,222.12 L128.89,222.43 L129.00,222.78 L129.11,223.18 L129.21,223.62 L129.32,224.09 L129.43,224.58 L129.53,225.10 L129.64,225.63 L129.75,226.18 L129.85,226.72 L129.96,227.27 L130.07,227.80 L130.17,228.33 L130.28,228.83 L130.39,229.32 L130.49,229.77 L130.60,230.19 L130.71,230.58 L130.81,230.92 L130.92,231.23 L131.03,231.49 L131.13,231.70 L131.24,231.86 L131.35,231.98 L131.45,232.05 L131.56,232.06 L131.67,232.03 L131.77,231.96 L131.88,231.83 L131.99,231.67 L132.09,231.46 L132.20,231.22 L132.31,230.94 L132.41,230.64 L132.52,230.31 L132.63,229.95 L132.73,229.58 L132.84,229.20 L132.95,228.81 L133.05,228.41 L133.16,228.02 L133.27,227.63 L133.37,227.25 L133.48,226.88 L133.59,226.53 L133.69,226.20 L133.80,225.90 L133.91,225.62 L134.01,225.38 L134.12,225.16 L134.23,224.98 L134.33,224.83 L134.44,224.72 L134.55,224.65 L134.65,224.61 L134.76,224.61 L134.87,224.64 L134.97,224.70 L135.08,224.80 L135.19,224.93 L135.29,225.09 L135.40,225.28 L135.51,225.48 L135.61,225.71 L135.72,225.96 L135.83,226.21 L135.93,226.48 L136.04,226.76 L136.15,227.04 L136.25,227.32 L136.36,227.59 L136.47,227.86 L136.57,228.12 L136.68,228.37 L136.79,228.60 L136.89,228.82 L137.00,229.01 L137.11,229.19 L137.21,229.34 L137.32,229.46 L137.43,229.56 L137.53,229.64 L137.64,229.69 L137.75,229.71 L137.85,229.71 L137.96,229.68 L138.07,229.62 L138.17,229.55 L138.28,229.45 L138.39,229.33 L138.49,229.20 L138.60,229.05 L138.71,228.89 L138.81,228.71 L138.92,228.53 L139.03,228.34 L139.13,228.15 L139.24,227.96 L139.35,227.76 L139.45,227.58 L139.56,227.39 L139.67,227.22 L139.77,227.06 L139.88,226.91 L139.99,226.77 L140.09,226.65 L140.20,226.54 L140.31,226.46 L140.41,226.38 L140.52,226.33 L140.63,226.30 L140.73,226.28 L140.84,226.29 L140.95,226.31 L141.05,226.35 L141.16,226.40 L141.27,226.47 L141.37,226.55 L141.48,226.64 L141.59,226.75 L141.69,226.86 L141.80,226.98 L141.91,227.11 L142.01,227.24 L142.12,227.37 L142.23,227.50 L142.33,227.63 L142.44,227.75 L142.55,227.87 L142.65,227.98 L142.76,228.09 L142.87,228.19 L142.97,228.27 L143.08,228.35 L143.19,228.41 L143.29,228.46 L143.40,228.50 L143.51,228.53 L143.61,228.54 L143.72,228.54 L143.83,228.53 L143.93,228.50 L144.04,228.47 L144.15,228.43 L144.25,228.37 L144.36,228.31 L144.47,228.24 L144.57,228.16 L144.68,228.08 L144.79,228.00 L144.89,227.91 L145.00,227.83 L145.11,227.74 L145.21,227.65 L145.32,227.57 L145.43,227.49 L145.53,227.42 L145.64,227.35 L145.75,227.29 L145.85,227.23 L145.96,227.19 L146.07,227.15 L146.17,227.12 L146.28,227.10 L146.39,227.08 L146.49,227.08 L146.60,227.08 L146.71,227.09 L146.81,227.11 L146.92,227.14 L147.03,227.17 L147.13,227.21 L147.24,227.26 L147.35,227.31 L147.45,227.36 L147.56,227.41 L147.67,227.47 L147.77,227.52 L147.88,227.58 L147.99,227.64 L148.09,227.69 L148.20,227.74 L148.31,227.79 L148.41,227.84 L148.52,227.88 L148.63,227.91 L148.73,227.94 L148.84,227.97 L148.95,227.99 L149.05,228.00 L149.16,228.01 L149.27,228.01 L149.37,228.01 L149.48,228.00 L149.59,227.98 L149.69,227.97 L149.80,227.94 L149.91,227.92 L150.01,227.89 L150.12,227.86 L150.23,227.82 L150.33,227.79 L150.44,227.75 L150.55,227.71 L150.65,227.68 L150.76,227.64 L150.87,227.61 L150.97,227.58 L151.08,227.55 L151.19,227.52 L151.29,227.49 L151.40,227.47 L151.51,227.46 L151.61,227.44 L151.72,227.43 L151.83,227.43 L151.93,227.43 L152.04,227.43 L152.15,227.43 L152.25,227.44 L152.36,227.45 L152.47,227.46 L152.57,227.48 L152.68,227.50 L152.79,227.52 L152.89,227.54 L153.00,227.56 L153.11,227.59 L153.21,227.61 L153.32,227.63 L153.43,227.66 L153.53,227.68 L153.64,227.70 L153.75,227.72 L153.85,227.73 L153.96,227.75 L154.07,227.76 L154.17,227.77 L154.28,227.78 L154.39,227.78 L154.49,227.79 L154.60,227.79 L154.71,227.79 L154.81,227.78 L154.92,227.78 L155.03,227.77 L155.13,227.76 L155.24,227.75 L155.35,227.74 L155.45,227.72 L155.56,227.71 L155.67,227.69 L155.77,227.68 L155.88,227.67 L155.99,227.65 L156.09,227.64 L156.20,227.63 L156.31,227.61 L156.41,227.60 L156.52,227.59 L156.63,227.58 L156.73,227.58 L156.84,227.57 L156.95,227.57 L157.05,227.57 L157.16,227.57 L157.27,227.57 L157.37,227.57 L157.48,227.57 L157.59,227.58 L157.69,227.58 L157.80,227.59 L157.91,227.60 L158.01,227.61 L158.12,227.61 L158.23,227.62 L158.33,227.63 L158.44,227.64 L158.55,227.65 L158.65,227.66 L158.76,227.67 L158.87,227.67 L158.97,227.68 L159.08,227.69 L159.19,227.69 L159.29,227.69 L159.40,227.70 L159.51,227.70 L159.61,227.70 L159.72,227.70 L159.83,227.70 L159.93,227.70 L160.04,227.70 L160.15,227.69 L160.25,227.69 L160.36,227.68 L160.47,227.68 L160.57,227.67 L160.68,227.67 L160.79,227.66 L160.89,227.66 L161.00,227.65 L161.11,227.65 L161.21,227.64 L161.32,227.64 L161.43,227.63 L161.53,227.63 L161.64,227.63 L161.75,227.62 L161.85,227.62 L161.96,227.62 L162.07,227.62 L162.17,227.62 L162.28,227.62 L162.39,227.62 L162.49,227.62 L162.60,227.62" fill="none" stroke="#0000ff" stroke-width="1.4" stroke-linejoin="round"/>
<path d="M34.60,227.62 L34.71,227.62 L34.81,227.62 L34.92,227.62 L35.03,227.62 L35.13,227.62 L35.24,227.62 L35.35,227.62 L35.45,227.62 L35.56,227.62 L35.67,227.62 L35.77,227.61 L35.88,227.61 L35.99,227.61 L36.09,227.61 L36.20,227.61 L36.31,227.61 L36.41,227.61 L36.52,227.61 L36.63,227.61 L36.73,227.61 L36.84,227.61 L36.95,227.60 L37.05,227.60 L37.16,227.60 L37.27,227.60 L37.37,227.60 L37.48,227.60 L37.59,227.60 L37.69,227.60 L37.80,227.60 L37.91,227.59 L38.01,227.59 L38.12,227.59 L38.23,227.59 L38.33,227.59 L38.44,227.59 L38.55,227.59 L38.65,227.59 L38.76,227.58 L38.87,227.58 L38.97,227.58 L39.08,227.58 L39.19,227.58 L39.29,227.58 L39.40,227.58 L39.51,227.57 L39.61,227.57 L39.72,227.57 L39.83,227.57 L39.93,227.57 L40.04,227.57 L40.15,227.56 L40.25,227.56 L40.36,227.56 L40.47,227.56 L40.57,227.56 L40.68,227.55 L40.79,227.55 L40.89,227.55 L41.00,227.55 L41.11,227.55 L41.21,227.54 L41.32,227.54 L41.43,227.54 L41.53,227.54 L41.64,227.53 L41.75,227.53 L41.85,227.53 L41.96,227.53 L42.07,227.52 L42.17,227.52 L42.28,227.52 L42.39,227.52 L42.49,227.51 L42.60,227.51 L42.71,227.51 L42.81,227.50 L42.92,227.50 L43.03,227.50 L43.13,227.50 L43.24,227.49 L43.35,227.49 L43.45,227.49 L43.56,227.48 L43.67,227.48 L43.77,227.48 L43.88,227.47 L43.99,227.47 L44.09,227.47 L44.20,227.46 L44.31,227.46 L44.41,227.45 L44.52,227.45 L44.63,227.45 L44.73,227.44 L44.84,227.44 L44.95,227.43 L45.05,227.43 L45.16,227.43 L45.27,227.42 L45.37,227.42 L45.48,227.41 L45.59,227.41 L45.69,227.40 L45.80,227.40 L45.91,227.39 L46.01,227.39 L46.12,227.38 L46.23,227.38 L46.33,227.37 L46.44,227.37 L46.55,227.36 L46.65,227.36 L46.76,227.35 L46.87,227.35 L46.97,227.34 L47.08,227.34 L47.19,227.33 L47.29,227.32 L47.40,227.32 L47.51,227.31 L47.61,227.31 L47.72,227.30 L47.83,227.29 L47.93,227.29 L48.04,227.28 L48.15,227.27 L48.25,227.27 L48.36,227.26 L48.47,227.25 L48.57,227.24 L48.68,227.24 L48.79,227.23 L48.89,227.22 L49.00,227.21 L49.11,227.21 L49.21,227.20 L49.32,227.19 L49.43,227.18 L49.53,227.17 L49.64,227.16 L49.75,227.16 L49.85,227.15 L49.96,227.14 L50.07,227.13 L50.17,227.12 L50.28,227.11 L50.39,227.10 L50.49,227.09 L50.60,227.08 L50.71,227.07 L50.81,227.06 L50.92,227.05 L51.03,227.04 L51.13,227.03 L51.24,227.02 L51.35,227.01 L51.45,227.00 L51.56,226.99 L51.67,226.98 L51.77,226.97 L51.88,226.95 L51.99,226.94 L52.09,226.93 L52.20,226.92 L52.31,226.91 L52.41,226.89 L52.52,226.88 L52.63,226.87 L52.73,226.85 L52.84,226.84 L52.95,226.83 L53.05,226.81 L53.16,226.80 L53.27,226.79 L53.37,226.77 L53.48,226.76 L53.59,226.74 L53.69,226.73 L53.80,226.71 L53.91,226.70 L54.01,226.68 L54.12,226.67 L54.23,226.65 L54.33,226.63 L54.44,226.62 L54.55,226.60 L54.65,226.58 L54.76,226.57 L54.87,226.55 L54.97,226.53 L55.08,226.52 L55.19,226.50 L55.29,226.48 L55.40,226.46 L55.51,226.44 L55.61,226.42 L55.72,226.40 L55.83,226.39 L55.93,226.37 L56.04,226.35 L56.15,226.33 L56.25,226.31 L56.36,226.28 L56.47,226.26 L56.57,226.24 L56.68,226.22 L56.79,226.20 L56.89,226.18 L57.00,226.16 L57.11,226.13 L57.21,226.11 L57.32,226.09 L57.43,226.06 L57.53,226.04 L57.64,226.02 L57.75,225.99 L57.85,225.97 L57.96,225.94 L58.07,225.92 L58.17,225.89 L58.28,225.87 L58.39,225.84 L58.49,225.81 L58.60,225.79 L58.71,225.76 L58.81,225.73 L58.92,225.70 L59.03,225.68 L59.13,225.65 L59.24,225.62 L59.35,225.59 L59.45,225.56 L59.56,225.53 L59.67,225.50 L59.77,225.47 L59.88,225.44 L59.99,225.41 L60.09,225.38 L60.20,225.35 L60.31,225.32 L60.41,225.28 L60.52,225.25 L60.63,225.22 L60.73,225.18 L60.84,225.15 L60.95,225.12 L61.05,225.08 L61.16,225.05 L61.27,225.01 L61.37,224.97 L61.48,224.94 L61.59,224.90 L61.69,224.87 L61.80,224.83 L61.91,224.79 L62.01,224.75 L62.12,224.71 L62.23,224.68 L62.33,224.64 L62.44,224.60 L62.55,224.56 L62.65,224.52 L62.76,224.48 L62.87,224.43 L62.97,224.39 L63.08,224.35 L63.19,224.31 L63.29,224.27 L63.40,224.22 L63.51,224.18 L63.61,224.13 L63.72,224.09 L63.83,224.05 L63.93,224.00 L64.04,223.95 L64.15,223.91 L64.25,223.86 L64.36,223.81 L64.47,223.77 L64.57,223.72 L64.68,223.67 L64.79,223.62 L64.89,223.57 L65.00,223.52 L65.11,223.47 L65.21,223.42 L65.32,223.37 L65.43,223.32 L65.53,223.27 L65.64,223.21 L65.75,223.16 L65.85,223.11 L65.96,223.05 L66.07,223.00 L66.17,222.95 L66.28,222.89 L66.39,222.83 L66.49,222.78 L66.60,222.72 L66.71,222.67 L66.81,222.61 L66.92,222.55 L67.03,222.49 L67.13,222.43 L67.24,222.37 L67.35,222.31 L67.45,222.25 L67.56,222.19 L67.67,222.13 L67.77,222.07 L67.88,222.01 L67.99,221.94 L68.09,221.88 L68.20,221.82 L68.31,221.75 L68.41,221.69 L68.52,221.62 L68.63,221.56 L68.73,221.49 L68.84,221.43 L68.95,221.36 L69.05,221.29 L69.16,221.22 L69.27,221.16 L69.37,221.09 L69.48,221.02 L69.59,220.95 L69.69,220.88 L69.80,220.81 L69.91,220.73 L70.01,220.66 L70.12,220.59 L70.23,220.52 L70.33,220.45 L70.44,220.37 L70.55,220.30 L70.65,220.22 L70.76,220.15 L70.87,220.07 L70.97,220.00 L71.08,219.92 L71.19,219.84 L71.29,219.77 L71.40,219.69 L71.51,219.61 L71.61,219.53 L71.72,219.45 L71.83,219.37 L71.93,219.29 L72.04,219.21 L72.15,219.13 L72.25,219.05 L72.36,218.97 L72.47,218.89 L72.57,218.80 L72.68,218.72 L72.79,218.64 L72.89,218.55 L73.00,218.47 L73.11,218.38 L73.21,218.30 L73.32,218.21 L73.43,218.13 L73.53,218.04 L73.64,217.95 L73.75,217.86 L73.85,217.78 L73.96,217.69 L74.07,217.60 L74.17,217.51 L74.28,217.42 L74.39,217.33 L74.49,217.24 L74.60,217.15 L74.71,217.06 L74.81,216.97 L74.92,216.88 L75.03,216.79 L75.13,216.69 L75.24,216.60 L75.35,216.51 L75.45,216.41 L75.56,216.32 L75.67,216.23 L75.77,216.13 L75.88,216.04 L75.99,215.94 L76.09,215.84 L76.20,215.75 L76.31,215.65 L76.41,215.56 L76.52,215.46 L76.63,215.36 L76.73,215.27 L76.84,215.17 L76.95,215.07 L77.05,214.97 L77.16,214.87 L77.27,214.77 L77.37,214.67 L77.48,214.58 L77.59,214.48 L77.69,214.38 L77.80,214.28 L77.91,214.18 L78.01,214.08 L78.12,213.97 L78.23,213.87 L78.33,213.77 L78.44,213.67 L78.55,213.57 L78.65,213.47 L78.76,213.37 L78.87,213.26 L78.97,213.16 L79.08,213.06 L79.19,212.96 L79.29,212.85 L79.40,212.75 L79.51,212.65 L79.61,212.54 L79.72,212.44 L79.83,212.34 L79.93,212.23 L80.04,212.13 L80.15,212.03 L80.25,211.92 L80.36,211.82 L80.47,211.71 L80.57,211.61 L80.68,211.51 L80.79,211.40 L80.89,211.30 L81.00,211.19 L81.11,211.09 L81.21,210.98 L81.32,210.88 L81.43,210.78 L81.53,210.67 L81.64,210.57 L81.75,210.46 L81.85,210.36 L81.96,210.25 L82.07,210.15 L82.17,210.04 L82.28,209.94 L82.39,209.84 L82.49,209.73 L82.60,209.63 L82.71,209.52 L82.81,209.42 L82.92,209.32 L83.03,209.21 L83.13,209.11 L83.24,209.01 L83.35,208.90 L83.45,208.80 L83.56,208.70 L83.67,208.60 L83.77,208.49 L83.88,208.39 L83.99,208.29 L84.09,208.19 L84.20,208.09 L84.31,207.99 L84.41,207.88 L84.52,207.78 L84.63,207.68 L84.73,207.58 L84.84,207.48 L84.95,207.38 L85.05,207.28 L85.16,207.18 L85.27,207.08 L85.37,206.99 L85.48,206.89 L85.59,206.79 L85.69,206.69 L85.80,206.59 L85.91,206.50 L86.01,206.40 L86.12,206.31 L86.23,206.21 L86.33,206.11 L86.44,206.02 L86.55,205.92 L86.65,205.83 L86.76,205.74 L86.87,205.64 L86.97,205.55 L87.08,205.46 L87.19,205.37 L87.29,205.28 L87.40,205.18 L87.51,205.09 L87.61,205.00 L87.72,204.91 L87.83,204.83 L87.93,204.74 L88.04,204.65 L88.15,204.56 L88.25,204.48 L88.36,204.39 L88.47,204.30 L88.57,204.22 L88.68,204.14 L88.79,204.05 L88.89,203.97 L89.00,203.89 L89.11,203.80 L89.21,203.72 L89.32,203.64 L89.43,203.56 L89.53,203.48 L89.64,203.40 L89.75,203.33 L89.85,203.25 L89.96,203.17 L90.07,203.10 L90.17,203.02 L90.28,202.95 L90.39,202.87 L90.49,202.80 L90.60,202.73 L90.71,202.66 L90.81,202.59 L90.92,202.52 L91.03,202.45 L91.13,202.38 L91.24,202.31 L91.35,202.25 L91.45,202.18 L91.56,202.11 L91.67,202.05 L91.77,201.99 L91.88,201.92 L91.99,201.86 L92.09,201.80 L92.20,201.74 L92.31,201.68 L92.41,201.62 L92.52,201.57 L92.63,201.51 L92.73,201.45 L92.84,201.40 L92.95,201.34 L93.05,201.29 L93.16,201.24 L93.27,201.19 L93.37,201.14 L93.48,201.09 L93.59,201.04 L93.69,200.99 L93.80,200.94 L93.91,200.90 L94.01,200.85 L94.12,200.81 L94.23,200.77 L94.33,200.73 L94.44,200.68 L94.55,200.64 L94.65,200.61 L94.76,200.57 L94.87,200.53 L94.97,200.49 L95.08,200.46 L95.19,200.43 L95.29,200.39 L95.40,200.36 L95.51,200.33 L95.61,200.30 L95.72,200.27 L95.83,200.24 L95.93,200.22 L96.04,200.19 L96.15,200.17 L96.25,200.14 L96.36,200.12 L96.47,200.10 L96.57,200.08 L96.68,200.06 L96.79,200.04 L96.89,200.02 L97.00,200.00 L97.11,199.99 L97.21,199.98 L97.32,199.96 L97.43,199.95 L97.53,199.94 L97.64,199.93 L97.75,199.92 L97.85,199.91 L97.96,199.90 L98.07,199.90 L98.17,199.89 L98.28,199.89 L98.39,199.89 L98.49,199.89 L98.60,199.89 L98.71,199.89 L98.81,199.89 L98.92,199.89 L99.03,199.89 L99.13,199.90 L99.24,199.90 L99.35,199.91 L99.45,199.92 L99.56,199.93 L99.67,199.94 L99.77,199.95 L99.88,199.96 L99.99,199.98 L100.09,199.99 L100.20,200.00 L100.31,200.02 L100.41,200.04 L100.52,200.06 L100.63,200.08 L100.73,200.10 L100.84,200.12 L100.95,200.14 L101.05,200.17 L101.16,200.19 L101.27,200.22 L101.37,200.24 L101.48,200.27 L101.59,200.30 L101.69,200.33 L101.80,200.36 L101.91,200.39 L102.01,200.43 L102.12,200.46 L102.23,200.49 L102.33,200.53 L102.44,200.57 L102.55,200.61 L102.65,200.64 L102.76,200.68 L102.87,200.73 L102.97,200.77 L103.08,200.81 L103.19,200.85 L103.29,200.90 L103.40,200.94 L103.51,200.99 L103.61,201.04 L103.72,201.09 L103.83,201.14 L103.93,201.19 L104.04,201.24 L104.15,201.29 L104.25,201.34 L104.36,201.40 L104.47,201.45 L104.57,201.51 L104.68,201.57 L104.79,201.62 L104.89,201.68 L105.00,201.74 L105.11,201.80 L105.21,201.86 L105.32,201.92 L105.43,201.99 L105.53,202.05 L105.64,202.11 L105.75,202.18 L105.85,202.25 L105.96,202.31 L106.07,202.38 L106.17,202.45 L106.28,202.52 L106.39,202.59 L106.49,202.66 L106.60,202.73 L106.71,202.80 L106.81,202.87 L106.92,202.95 L107.03,203.02 L107.13,203.10 L107.24,203.17 L107.35,203.25 L107.45,203.33 L107.56,203.40 L107.67,203.48 L107.77,203.56 L107.88,203.64 L107.99,203.72 L108.09,203.80 L108.20,203.89 L108.31,203.97 L108.41,204.05 L108.52,204.14 L108.63,204.22 L108.73,204.30 L108.84,204.39 L108.95,204.48 L109.05,204.56 L109.16,204.65 L109.27,204.74 L109.37,204.83 L109.48,204.91 L109.59,205.00 L109.69,205.09 L109.80,205.18 L109.91,205.28 L110.01,205.37 L110.12,205.46 L110.23,205.55 L110.33,205.64 L110.44,205.74 L110.55,205.83 L110.65,205.92 L110.76,206.02 L110.87,206.11 L110.97,206.21 L111.08,206.31 L111.19,206.40 L111.29,206.50 L111.40,206.59 L111.51,206.69 L111.61,206.79 L111.72,206.89 L111.83,206.99 L111.93,207.08 L112.04,207.18 L112.15,207.28 L112.25,207.38 L112.36,207.48 L112.47,207.58 L112.57,207.68 L112.68,207.78 L112.79,207.88 L112.89,207.99 L113.00,208.09 L113.11,208.19 L113.21,208.29 L113.32,208.39 L113.43,208.49 L113.53,208.60 L113.64,208.70 L113.75,208.80 L113.85,208.90 L113.96,209.01 L114.07,209.11 L114.17,209.21 L114.28,209.32 L114.39,209.42 L114.49,209.52 L114.60,209.63 L114.71,209.73 L114.81,209.84 L114.92,209.94 L115.03,210.04 L115.13,210.15 L115.24,210.25 L115.35,210.36 L115.45,210.46 L115.56,210.57 L115.67,210.67 L115.77,210.78 L115.88,210.88 L115.99,210.98 L116.09,211.09 L116.20,211.19 L116.31,211.30 L116.41,211.40 L116.52,211.51 L116.63,211.61 L116.73,211.71 L116.84,211.82 L116.95,211.92 L117.05,212.03 L117.16,212.13 L117.27,212.23 L117.37,212.34 L117.48,212.44 L117.59,212.54 L117.69,212.65 L117.80,212.75 L117.91,212.85 L118.01,212.96 L118.12,213.06 L118.23,213.16 L118.33,213.26 L118.44,213.37 L118.55,213.47 L118.65,213.57 L118.76,213.67 L118.87,213.77 L118.97,213.87 L119.08,213.97 L119.19,214.08 L119.29,214.18 L119.40,214.28 L119.51,214.38 L119.61,214.48 L119.72,214.58 L119.83,214.67 L119.93,214.77 L120.04,214.87 L120.15,214.97 L120.25,215.07 L120.36,215.17 L120.47,215.27 L120.57,215.36 L120.68,215.46 L120.79,215.56 L120.89,215.65 L121.00,215.75 L121.11,215.84 L121.21,215.94 L121.32,216.04 L121.43,216.13 L121.53,216.23 L121.64,216.32 L121.75,216.41 L121.85,216.51 L121.96,216.60 L122.07,216.69 L122.17,216.79 L122.28,216.88 L122.39,216.97 L122.49,217.06 L122.60,217.15 L122.71,217.24 L122.81,217.33 L122.92,217.42 L123.03,217.51 L123.13,217.60 L123.24,217.69 L123.35,217.78 L123.45,217.86 L123.56,217.95 L123.67,218.04 L123.77,218.13 L123.88,218.21 L123.99,218.30 L124.09,218.38 L124.20,218.47 L124.31,218.55 L124.41,218.64 L124.52,218.72 L124.63,218.80 L124.73,218.89 L124.84,218.97 L124.95,219.05 L125.05,219.13 L125.16,219.21 L125.27,219.29 L125.37,219.37 L125.48,219.45 L125.59,219.53 L125.69,219.61 L125.80,219.69 L125.91,219.77 L126.01,219.84 L126.12,219.92 L126.23,220.00 L126.33,220.07 L126.44,220.15 L126.55,220.22 L126.65,220.30 L126.76,220.37 L126.87,220.45 L126.97,220.52 L127.08,220.59 L127.19,220.66 L127.29,220.73 L127.40,220.81 L127.51,220.88 L127.61,220.95 L127.72,221.02 L127.83,221.09 L127.93,221.16 L128.04,221.22 L128.15,221.29 L128.25,221.36 L128.36,221.43 L128.47,221.49 L128.57,221.56 L128.68,221.62 L128.79,221.69 L128.89,221.75 L129.00,221.82 L129.11,221.88 L129.21,221.94 L129.32,222.01 L129.43,222.07 L129.53,222.13 L129.64,222.19 L129.75,222.25 L129.85,222.31 L129.96,222.37 L130.07,222.43 L130.17,222.49 L130.28,222.55 L130.39,222.61 L130.49,222.67 L130.60,222.72 L130.71,222.78 L130.81,222.83 L130.92,222.89 L131.03,222.95 L131.13,223.00 L131.24,223.05 L131.35,223.11 L131.45,223.16 L131.56,223.21 L131.67,223.27 L131.77,223.32 L131.88,223.37 L131.99,223.42 L132.09,223.47 L132.20,223.52 L132.31,223.57 L132.41,223.62 L132.52,223.67 L132.63,223.72 L132.73,223.77 L132.84,223.81 L132.95,223.86 L133.05,223.91 L133.16,223.95 L133.27,224.00 L133.37,224.05 L133.48,224.09 L133.59,224.13 L133.69,224.18 L133.80,224.22 L133.91,224.27 L134.01,224.31 L134.12,224.35 L134.23,224.39 L134.33,224.43 L134.44,224.48 L134.55,224.52 L134.65,224.56 L134.76,224.60 L134.87,224.64 L134.97,224.68 L135.08,224.71 L135.19,224.75 L135.29,224.79 L135.40,224.83 L135.51,224.87 L135.61,224.90 L135.72,224.94 L135.83,224.97 L135.93,225.01 L136.04,225.05 L136.15,225.08 L136.25,225.12 L136.36,225.15 L136.47,225.18 L136.57,225.22 L136.68,225.25 L136.79,225.28 L136.89,225.32 L137.00,225.35 L137.11,225.38 L137.21,225.41 L137.32,225.44 L137.43,225.47 L137.53,225.50 L137.64,225.53 L137.75,225.56 L137.85,225.59 L137.96,225.62 L138.07,225.65 L138.17,225.68 L138.28,225.70 L138.39,225.73 L138.49,225.76 L138.60,225.79 L138.71,225.81 L138.81,225.84 L138.92,225.87 L139.03,225.89 L139.13,225.92 L139.24,225.94 L139.35,225.97 L139.45,225.99 L139.56,226.02 L139.67,226.04 L139.77,226.06 L139.88,226.09 L139.99,226.11 L140.09,226.13 L140.20,226.16 L140.31,226.18 L140.41,226.20 L140.52,226.22 L140.63,226.24 L140.73,226.26 L140.84,226.28 L140.95,226.31 L141.05,226.33 L141.16,226.35 L141.27,226.37 L141.37,226.39 L141.48,226.40 L141.59,226.42 L141.69,226.44 L141.80,226.46 L141.91,226.48 L142.01,226.50 L142.12,226.52 L142.23,226.53 L142.33,226.55 L142.44,226.57 L142.55,226.58 L142.65,226.60 L142.76,226.62 L142.87,226.63 L142.97,226.65 L143.08,226.67 L143.19,226.68 L143.29,226.70 L143.40,226.71 L143.51,226.73 L143.61,226.74 L143.72,226.76 L143.83,226.77 L143.93,226.79 L144.04,226.80 L144.15,226.81 L144.25,226.83 L144.36,226.84 L144.47,226.85 L144.57,226.87 L144.68,226.88 L144.79,226.89 L144.89,226.91 L145.00,226.92 L145.11,226.93 L145.21,226.94 L145.32,226.95 L145.43,226.97 L145.53,226.98 L145.64,226.99 L145.75,227.00 L145.85,227.01 L145.96,227.02 L146.07,227.03 L146.17,227.04 L146.28,227.05 L146.39,227.06 L146.49,227.07 L146.60,227.08 L146.71,227.09 L146.81,227.10 L146.92,227.11 L147.03,227.12 L147.13,227.13 L147.24,227.14 L147.35,227.15 L147.45,227.16 L147.56,227.16 L147.67,227.17 L147.77,227.18 L147.88,227.19 L147.99,227.20 L148.09,227.21 L148.20,227.21 L148.31,227.22 L148.41,227.23 L148.52,227.24 L148.63,227.24 L148.73,227.25 L148.84,227.26 L148.95,227.27 L149.05,227.27 L149.16,227.28 L149.27,227.29 L149.37,227.29 L149.48,227.30 L149.59,227.31 L149.69,227.31 L149.80,227.32 L149.91,227.32 L150.01,227.33 L150.12,227.34 L150.23,227.34 L150.33,227.35 L150.44,227.35 L150.55,227.36 L150.65,227.36 L150.76,227.37 L150.87,227.37 L150.97,227.38 L151.08,227.38 L151.19,227.39 L151.29,227.39 L151.40,227.40 L151.51,227.40 L151.61,227.41 L151.72,227.41 L151.83,227.42 L151.93,227.42 L152.04,227.43 L152.15,227.43 L152.25,227.43 L152.36,227.44 L152.47,227.44 L152.57,227.45 L152.68,227.45 L152.79,227.45 L152.89,227.46 L153.00,227.46 L153.11,227.47 L153.21,227.47 L153.32,227.47 L153.43,227.48 L153.53,227.48 L153.64,227.48 L153.75,227.49 L153.85,227.49 L153.96,227.49 L154.07,227.50 L154.17,227.50 L154.28,227.50 L154.39,227.50 L154.49,227.51 L154.60,227.51 L154.71,227.51 L154.81,227.52 L154.92,227.52 L155.03,227.52 L155.13,227.52 L155.24,227.53 L155.35,227.53 L155.45,227.53 L155.56,227.53 L155.67,227.54 L155.77,227.54 L155.88,227.54 L155.99,227.54 L156.09,227.55 L156.20,227.55 L156.31,227.55 L156.41,227.55 L156.52,227.55 L156.63,227.56 L156.73,227.56 L156.84,227.56 L156.95,227.56 L157.05,227.56 L157.16,227.57 L157.27,227.57 L157.37,227.57 L157.48,227.57 L157.59,227.57 L157.69,227.57 L157.80,227.58 L157.91,227.58 L158.01,227.58 L158.12,227.58 L158.23,227.58 L158.33,227.58 L158.44,227.58 L158.55,227.59 L158.65,227.59 L158.76,227.59 L158.87,227.59 L158.97,227.59 L159.08,227.59 L159.19,227.59 L159.29,227.59 L159.40,227.60 L159.51,227.60 L159.61,227.60 L159.72,227.60 L159.83,227.60 L159.93,227.60 L160.04,227.60 L160.15,227.60 L160.25,227.60 L160.36,227.61 L160.47,227.61 L160.57,227.61 L160.68,227.61 L160.79,227.61 L160.89,227.61 L161.00,227.61 L161.11,227.61 L161.21,227.61 L161.32,227.61 L161.43,227.61 L161.53,227.62 L161.64,227.62 L161.75,227.62 L161.85,227.62 L161.96,227.62 L162.07,227.62 L162.17,227.62 L162.28,227.62 L162.39,227.62 L162.49,227.62 L162.60,227.62" fill="none" stroke="#000" stroke-width="1.5"/>
<path d="M41.71,187.0v4.5M41.71,269.0v-4.5M55.93,187.0v2.5M55.93,269.0v-2.5M70.16,187.0v4.5M70.16,269.0v-4.5M84.38,187.0v2.5M84.38,269.0v-2.5M98.60,187.0v4.5M98.60,269.0v-4.5M112.82,187.0v2.5M112.82,269.0v-2.5M127.04,187.0v4.5M127.04,269.0v-4.5M141.27,187.0v2.5M141.27,269.0v-2.5M155.49,187.0v4.5M155.49,269.0v-4.5M34.6,266.50h2.8M162.6,266.50h-2.8M34.6,253.55h5M162.6,253.55h-5M34.6,240.60h2.8M162.6,240.60h-2.8M34.6,227.65h5M162.6,227.65h-5M34.6,214.70h2.8M162.6,214.70h-2.8M34.6,201.75h5M162.6,201.75h-5M34.6,188.80h2.8M162.6,188.80h-2.8" stroke="#222" stroke-width="1.0" fill="none"/>
<rect x="34.6" y="187.0" width="128.0" height="82.0" fill="none" stroke="#222" stroke-width="1.0"/>
<text class="ty" x="30.6" y="205.65" text-anchor="end">5</text>
<text class="ty" x="30.6" y="231.55" text-anchor="end">0</text>
<text class="ty" x="30.6" y="257.45" text-anchor="end">-5</text>
</g>
<g>
<rect x="196.1" y="187.0" width="127.79999999999998" height="82.0" fill="none" stroke="#222" stroke-width="1.0"/>
<path d="M196.10,187.0v4.5M196.10,269.0v-4.5M206.75,187.0v2.5M206.75,269.0v-2.5M217.40,187.0v4.5M217.40,269.0v-4.5M228.05,187.0v2.5M228.05,269.0v-2.5M238.70,187.0v4.5M238.70,269.0v-4.5M249.35,187.0v2.5M249.35,269.0v-2.5M260.00,187.0v4.5M260.00,269.0v-4.5M270.65,187.0v2.5M270.65,269.0v-2.5M281.30,187.0v4.5M281.30,269.0v-4.5M291.95,187.0v2.5M291.95,269.0v-2.5M302.60,187.0v4.5M302.60,269.0v-4.5M313.25,187.0v2.5M313.25,269.0v-2.5M323.90,187.0v4.5M323.90,269.0v-4.5M196.1,269.00h5M196.1,231.30h5M196.1,193.60h5M196.1,250.15h2.8M196.1,212.45h2.8M323.9,269.60h-5M323.9,246.20h-5M323.9,222.80h-5M323.9,199.40h-5M323.9,257.90h-2.8M323.9,234.50h-2.8M323.9,211.10h-2.8" stroke="#222" stroke-width="1.0" fill="none"/>
<clipPath id="c2"><rect x="195.6" y="186.5" width="128.79999999999998" height="83.2"/></clipPath>
<g clip-path="url(#c2)">
<path d="M196.10,268.95 L196.63,268.94 L197.16,268.93 L197.70,268.92 L198.23,268.92 L198.76,268.90 L199.29,268.89 L199.83,268.88 L200.36,268.87 L200.89,268.85 L201.42,268.83 L201.96,268.82 L202.49,268.79 L203.02,268.77 L203.56,268.75 L204.09,268.72 L204.62,268.69 L205.15,268.65 L205.69,268.62 L206.22,268.58 L206.75,268.53 L207.28,268.48 L207.81,268.43 L208.35,268.38 L208.88,268.31 L209.41,268.24 L209.94,268.17 L210.48,268.09 L211.01,268.00 L211.54,267.91 L212.07,267.81 L212.61,267.70 L213.14,267.58 L213.67,267.45 L214.20,267.32 L214.74,267.17 L215.27,267.01 L215.80,266.84 L216.33,266.66 L216.87,266.46 L217.40,266.26 L217.93,266.03 L218.47,265.80 L219.00,265.54 L219.53,265.27 L220.06,264.99 L220.59,264.68 L221.13,264.36 L221.66,264.02 L222.19,263.66 L222.72,263.28 L223.26,262.87 L223.79,262.45 L224.32,262.00 L224.85,261.53 L225.39,261.04 L225.92,260.52 L226.45,259.98 L226.98,259.41 L227.52,258.82 L228.05,258.20 L228.58,257.56 L229.11,256.89 L229.65,256.19 L230.18,255.47 L230.71,254.71 L231.25,253.94 L231.78,253.13 L232.31,252.30 L232.84,251.45 L233.38,250.57 L233.91,249.66 L234.44,248.73 L234.97,247.78 L235.50,246.80 L236.04,245.80 L236.57,244.79 L237.10,243.75 L237.63,242.69 L238.17,241.62 L238.70,240.53 L239.23,239.43 L239.76,238.32 L240.30,237.20 L240.83,236.06 L241.36,234.93 L241.89,233.79 L242.43,232.64 L242.96,231.50 L243.49,230.36 L244.02,229.23 L244.56,228.10 L245.09,226.98 L245.62,225.88 L246.15,224.79 L246.69,223.72 L247.22,222.67 L247.75,221.64 L248.28,220.64 L248.82,219.67 L249.35,218.72 L249.88,217.81 L250.41,216.94 L250.95,216.10 L251.48,215.31 L252.01,214.56 L252.54,213.85 L253.08,213.19 L253.61,212.57 L254.14,212.01 L254.67,211.50 L255.21,211.05 L255.74,210.64 L256.27,210.30 L256.81,210.01 L257.34,209.78 L257.87,209.61 L258.40,209.49 L258.94,209.44 L259.47,209.44 L260.00,209.51 L260.53,209.64 L261.06,209.82 L261.60,210.06 L262.13,210.36 L262.66,210.72 L263.19,211.13 L263.73,211.60 L264.26,212.12 L264.79,212.69 L265.32,213.32 L265.86,213.99 L266.39,214.70 L266.92,215.46 L267.45,216.27 L267.99,217.11 L268.52,217.99 L269.05,218.91 L269.58,219.86 L270.12,220.84 L270.65,221.84 L271.18,222.88 L271.71,223.93 L272.25,225.01 L272.78,226.10 L273.31,227.20 L273.84,228.32 L274.38,229.45 L274.91,230.59 L275.44,231.73 L275.97,232.87 L276.51,234.01 L277.04,235.16 L277.57,236.29 L278.10,237.42 L278.64,238.54 L279.17,239.65 L279.70,240.75 L280.24,241.84 L280.77,242.91 L281.30,243.96 L281.83,244.99 L282.37,246.01 L282.90,247.00 L283.43,247.97 L283.96,248.92 L284.50,249.84 L285.03,250.75 L285.56,251.62 L286.09,252.47 L286.62,253.30 L287.16,254.09 L287.69,254.87 L288.22,255.61 L288.75,256.33 L289.29,257.02 L289.82,257.69 L290.35,258.33 L290.88,258.94 L291.42,259.53 L291.95,260.09 L292.48,260.63 L293.01,261.14 L293.55,261.63 L294.08,262.09 L294.61,262.54 L295.14,262.96 L295.68,263.36 L296.21,263.73 L296.74,264.09 L297.27,264.43 L297.81,264.75 L298.34,265.05 L298.87,265.33 L299.40,265.59 L299.94,265.84 L300.47,266.08 L301.00,266.30 L301.53,266.50 L302.07,266.70 L302.60,266.88 L303.13,267.04 L303.66,267.20 L304.20,267.35 L304.73,267.48 L305.26,267.61 L305.79,267.72 L306.33,267.83 L306.86,267.93 L307.39,268.02 L307.92,268.11 L308.46,268.19 L308.99,268.26 L309.52,268.33 L310.05,268.39 L310.59,268.44 L311.12,268.49 L311.65,268.54 L312.19,268.59 L312.72,268.62 L313.25,268.66 L313.78,268.69 L314.31,268.72 L314.85,268.75 L315.38,268.78 L315.91,268.80 L316.44,268.82 L316.98,268.84 L317.51,268.85 L318.04,268.87 L318.57,268.88 L319.11,268.90 L319.64,268.91 L320.17,268.92 L320.70,268.93 L321.24,268.93 L321.77,268.94 L322.30,268.95 L322.83,268.95 L323.37,268.96 L323.90,268.96" fill="none" stroke="#0000ff" stroke-width="1.3"/>
<path d="M196.10,268.51 L196.63,266.01 L197.16,263.78 L197.70,261.76 L198.23,259.91 L198.76,258.20 L199.29,256.61 L199.83,255.12 L200.36,253.71 L200.89,252.37 L201.42,251.08 L201.96,249.85 L202.49,248.65 L203.02,247.49 L203.56,246.36 L204.09,245.25 L204.62,244.17 L205.15,243.11 L205.69,242.07 L206.22,241.04 L206.75,240.04 L207.28,239.04 L207.81,238.06 L208.35,237.09 L208.88,236.14 L209.41,235.20 L209.94,234.27 L210.48,233.35 L211.01,232.44 L211.54,231.54 L212.07,230.65 L212.61,229.77 L213.14,228.91 L213.67,228.05 L214.20,227.21 L214.74,226.37 L215.27,225.55 L215.80,224.73 L216.33,223.93 L216.87,223.13 L217.40,222.35 L217.93,221.57 L218.47,220.81 L219.00,220.05 L219.53,219.31 L220.06,218.57 L220.59,217.85 L221.13,217.13 L221.66,216.42 L222.19,215.73 L222.72,215.04 L223.26,214.37 L223.79,213.70 L224.32,213.05 L224.85,212.40 L225.39,211.77 L225.92,211.14 L226.45,210.53 L226.98,209.92 L227.52,209.32 L228.05,208.74 L228.58,208.16 L229.11,207.60 L229.65,207.04 L230.18,206.50 L230.71,205.96 L231.25,205.43 L231.78,204.92 L232.31,204.41 L232.84,203.91 L233.38,203.43 L233.91,202.95 L234.44,202.49 L234.97,202.03 L235.50,201.58 L236.04,201.15 L236.57,200.72 L237.10,200.30 L237.63,199.90 L238.17,199.50 L238.70,199.11 L239.23,198.74 L239.76,198.37 L240.30,198.01 L240.83,197.66 L241.36,197.33 L241.89,197.00 L242.43,196.68 L242.96,196.38 L243.49,196.08 L244.02,195.79 L244.56,195.51 L245.09,195.25 L245.62,194.99 L246.15,194.74 L246.69,194.50 L247.22,194.28 L247.75,194.06 L248.28,193.85 L248.82,193.65 L249.35,193.46 L249.88,193.29 L250.41,193.12 L250.95,192.96 L251.48,192.81 L252.01,192.67 L252.54,192.54 L253.08,192.43 L253.61,192.32 L254.14,192.22 L254.67,192.13 L255.21,192.05 L255.74,191.98 L256.27,191.92 L256.81,191.88 L257.34,191.84 L257.87,191.81 L258.40,191.79 L258.94,191.78 L259.47,191.78 L260.00,191.79 L260.53,191.81 L261.06,191.84 L261.60,191.89 L262.13,191.94 L262.66,192.00 L263.19,192.07 L263.73,192.15 L264.26,192.24 L264.79,192.34 L265.32,192.45 L265.86,192.57 L266.39,192.70 L266.92,192.84 L267.45,192.99 L267.99,193.15 L268.52,193.32 L269.05,193.50 L269.58,193.69 L270.12,193.89 L270.65,194.10 L271.18,194.32 L271.71,194.55 L272.25,194.79 L272.78,195.04 L273.31,195.30 L273.84,195.57 L274.38,195.85 L274.91,196.14 L275.44,196.44 L275.97,196.75 L276.51,197.06 L277.04,197.39 L277.57,197.73 L278.10,198.08 L278.64,198.44 L279.17,198.81 L279.70,199.19 L280.24,199.58 L280.77,199.98 L281.30,200.39 L281.83,200.80 L282.37,201.23 L282.90,201.67 L283.43,202.12 L283.96,202.58 L284.50,203.05 L285.03,203.52 L285.56,204.01 L286.09,204.51 L286.62,205.02 L287.16,205.54 L287.69,206.07 L288.22,206.60 L288.75,207.15 L289.29,207.71 L289.82,208.28 L290.35,208.86 L290.88,209.44 L291.42,210.04 L291.95,210.65 L292.48,211.27 L293.01,211.89 L293.55,212.53 L294.08,213.18 L294.61,213.84 L295.14,214.50 L295.68,215.18 L296.21,215.87 L296.74,216.56 L297.27,217.27 L297.81,217.99 L298.34,218.72 L298.87,219.45 L299.40,220.20 L299.94,220.96 L300.47,221.72 L301.00,222.50 L301.53,223.29 L302.07,224.08 L302.60,224.89 L303.13,225.71 L303.66,226.53 L304.20,227.37 L304.73,228.22 L305.26,229.07 L305.79,229.94 L306.33,230.81 L306.86,231.70 L307.39,232.60 L307.92,233.50 L308.46,234.42 L308.99,235.34 L309.52,236.28 L310.05,237.23 L310.59,238.18 L311.12,239.15 L311.65,240.12 L312.19,241.11 L312.72,242.10 L313.25,243.11 L313.78,244.12 L314.31,245.15 L314.85,246.18 L315.38,247.23 L315.91,248.29 L316.44,249.35 L316.98,250.43 L317.51,251.51 L318.04,252.61 L318.57,253.71 L319.11,254.83 L319.64,255.95 L320.17,257.08 L320.70,258.23 L321.24,259.38 L321.77,260.55 L322.30,261.72 L322.83,262.91 L323.37,264.10 L323.90,265.31" fill="none" stroke="#ff0000" stroke-width="1.3"/>
</g>
<path d="M195.79999999999998,269.0H206.8M313.2,269.0H324.2" stroke="#22227a" stroke-width="1.4" fill="none"/>
<text class="ty" x="192.2" y="272.70" text-anchor="end">0</text>
<text class="ty" x="192.2" y="235.00" text-anchor="end">1</text>
<text class="ty" x="192.2" y="197.30" text-anchor="end">2</text>
<text class="ty" x="328.09999999999997" y="273.80">0</text>
<text class="ty" x="328.09999999999997" y="250.40">2</text>
<text class="ty" x="328.09999999999997" y="227.00">4</text>
<text class="ty" x="328.09999999999997" y="203.60">6</text>
</g>
<g>
<path d="M34.60,314.68 L34.71,314.68 L34.81,314.68 L34.92,314.68 L35.03,314.68 L35.13,314.68 L35.24,314.68 L35.35,314.68 L35.45,314.68 L35.56,314.67 L35.67,314.67 L35.77,314.67 L35.88,314.66 L35.99,314.66 L36.09,314.65 L36.20,314.65 L36.31,314.64 L36.41,314.64 L36.52,314.63 L36.63,314.63 L36.73,314.62 L36.84,314.62 L36.95,314.61 L37.05,314.61 L37.16,314.60 L37.27,314.60 L37.37,314.60 L37.48,314.60 L37.59,314.60 L37.69,314.60 L37.80,314.60 L37.91,314.61 L38.01,314.61 L38.12,314.61 L38.23,314.62 L38.33,314.63 L38.44,314.63 L38.55,314.64 L38.65,314.65 L38.76,314.66 L38.87,314.67 L38.97,314.68 L39.08,314.69 L39.19,314.69 L39.29,314.70 L39.40,314.71 L39.51,314.72 L39.61,314.72 L39.72,314.73 L39.83,314.73 L39.93,314.73 L40.04,314.73 L40.15,314.73 L40.25,314.73 L40.36,314.73 L40.47,314.72 L40.57,314.72 L40.68,314.71 L40.79,314.70 L40.89,314.69 L41.00,314.67 L41.11,314.66 L41.21,314.65 L41.32,314.63 L41.43,314.62 L41.53,314.61 L41.64,314.59 L41.75,314.58 L41.85,314.56 L41.96,314.55 L42.07,314.54 L42.17,314.53 L42.28,314.52 L42.39,314.52 L42.49,314.51 L42.60,314.51 L42.71,314.51 L42.81,314.52 L42.92,314.52 L43.03,314.53 L43.13,314.54 L43.24,314.55 L43.35,314.57 L43.45,314.58 L43.56,314.60 L43.67,314.62 L43.77,314.64 L43.88,314.67 L43.99,314.69 L44.09,314.71 L44.20,314.74 L44.31,314.76 L44.41,314.78 L44.52,314.80 L44.63,314.82 L44.73,314.84 L44.84,314.85 L44.95,314.86 L45.05,314.87 L45.16,314.87 L45.27,314.87 L45.37,314.87 L45.48,314.87 L45.59,314.86 L45.69,314.84 L45.80,314.83 L45.91,314.81 L46.01,314.78 L46.12,314.75 L46.23,314.72 L46.33,314.69 L46.44,314.66 L46.55,314.62 L46.65,314.59 L46.76,314.55 L46.87,314.51 L46.97,314.48 L47.08,314.44 L47.19,314.41 L47.29,314.38 L47.40,314.36 L47.51,314.33 L47.61,314.32 L47.72,314.30 L47.83,314.29 L47.93,314.29 L48.04,314.29 L48.15,314.30 L48.25,314.31 L48.36,314.33 L48.47,314.36 L48.57,314.39 L48.68,314.42 L48.79,314.46 L48.89,314.51 L49.00,314.56 L49.11,314.61 L49.21,314.66 L49.32,314.72 L49.43,314.78 L49.53,314.83 L49.64,314.89 L49.75,314.94 L49.85,314.99 L49.96,315.04 L50.07,315.09 L50.17,315.13 L50.28,315.16 L50.39,315.19 L50.49,315.21 L50.60,315.22 L50.71,315.22 L50.81,315.22 L50.92,315.20 L51.03,315.18 L51.13,315.15 L51.24,315.11 L51.35,315.07 L51.45,315.01 L51.56,314.95 L51.67,314.88 L51.77,314.81 L51.88,314.73 L51.99,314.65 L52.09,314.56 L52.20,314.47 L52.31,314.39 L52.41,314.30 L52.52,314.22 L52.63,314.14 L52.73,314.06 L52.84,313.99 L52.95,313.93 L53.05,313.87 L53.16,313.83 L53.27,313.80 L53.37,313.77 L53.48,313.76 L53.59,313.76 L53.69,313.77 L53.80,313.80 L53.91,313.84 L54.01,313.89 L54.12,313.95 L54.23,314.03 L54.33,314.11 L54.44,314.21 L54.55,314.32 L54.65,314.43 L54.76,314.55 L54.87,314.67 L54.97,314.80 L55.08,314.93 L55.19,315.06 L55.29,315.19 L55.40,315.32 L55.51,315.44 L55.61,315.55 L55.72,315.66 L55.83,315.75 L55.93,315.83 L56.04,315.90 L56.15,315.95 L56.25,315.99 L56.36,316.01 L56.47,316.02 L56.57,316.00 L56.68,315.97 L56.79,315.92 L56.89,315.84 L57.00,315.76 L57.11,315.65 L57.21,315.53 L57.32,315.39 L57.43,315.24 L57.53,315.08 L57.64,314.91 L57.75,314.72 L57.85,314.54 L57.96,314.34 L58.07,314.15 L58.17,313.96 L58.28,313.77 L58.39,313.59 L58.49,313.41 L58.60,313.25 L58.71,313.10 L58.81,312.97 L58.92,312.85 L59.03,312.75 L59.13,312.68 L59.24,312.62 L59.35,312.59 L59.45,312.59 L59.56,312.61 L59.67,312.66 L59.77,312.74 L59.88,312.84 L59.99,312.96 L60.09,313.11 L60.20,313.29 L60.31,313.48 L60.41,313.70 L60.52,313.93 L60.63,314.18 L60.73,314.44 L60.84,314.71 L60.95,314.98 L61.05,315.26 L61.16,315.54 L61.27,315.82 L61.37,316.09 L61.48,316.34 L61.59,316.59 L61.69,316.82 L61.80,317.02 L61.91,317.21 L62.01,317.37 L62.12,317.50 L62.23,317.60 L62.33,317.66 L62.44,317.69 L62.55,317.69 L62.65,317.65 L62.76,317.58 L62.87,317.47 L62.97,317.32 L63.08,317.14 L63.19,316.92 L63.29,316.68 L63.40,316.40 L63.51,316.10 L63.61,315.77 L63.72,315.42 L63.83,315.05 L63.93,314.67 L64.04,314.28 L64.15,313.89 L64.25,313.49 L64.36,313.10 L64.47,312.72 L64.57,312.35 L64.68,311.99 L64.79,311.66 L64.89,311.36 L65.00,311.08 L65.11,310.84 L65.21,310.63 L65.32,310.47 L65.43,310.34 L65.53,310.27 L65.64,310.24 L65.75,310.25 L65.85,310.32 L65.96,310.44 L66.07,310.60 L66.17,310.81 L66.28,311.07 L66.39,311.38 L66.49,311.72 L66.60,312.11 L66.71,312.53 L66.81,312.98 L66.92,313.47 L67.03,313.97 L67.13,314.50 L67.24,315.03 L67.35,315.58 L67.45,316.12 L67.56,316.67 L67.67,317.20 L67.77,317.72 L67.88,318.21 L67.99,318.68 L68.09,319.12 L68.20,319.52 L68.31,319.87 L68.41,320.18 L68.52,320.44 L68.63,320.64 L68.73,320.79 L68.84,320.87 L68.95,320.90 L69.05,320.85 L69.16,320.75 L69.27,320.58 L69.37,320.34 L69.48,320.05 L69.59,319.69 L69.69,319.27 L69.80,318.80 L69.91,318.28 L70.01,317.71 L70.12,317.10 L70.23,316.45 L70.33,315.77 L70.44,315.07 L70.55,314.35 L70.65,313.62 L70.76,312.88 L70.87,312.15 L70.97,311.43 L71.08,310.73 L71.19,310.05 L71.29,309.40 L71.40,308.80 L71.51,308.24 L71.61,307.73 L71.72,307.28 L71.83,306.89 L71.93,306.57 L72.04,306.32 L72.15,306.15 L72.25,306.05 L72.36,306.04 L72.47,306.11 L72.57,306.26 L72.68,306.49 L72.79,306.80 L72.89,307.20 L73.00,307.67 L73.11,308.21 L73.21,308.82 L73.32,309.50 L73.43,310.24 L73.53,311.03 L73.64,311.87 L73.75,312.75 L73.85,313.66 L73.96,314.60 L74.07,315.55 L74.17,316.51 L74.28,317.46 L74.39,318.41 L74.49,319.34 L74.60,320.24 L74.71,321.11 L74.81,321.93 L74.92,322.70 L75.03,323.41 L75.13,324.05 L75.24,324.62 L75.35,325.11 L75.45,325.51 L75.56,325.82 L75.67,326.04 L75.77,326.17 L75.88,326.19 L75.99,326.11 L76.09,325.93 L76.20,325.65 L76.31,325.27 L76.41,324.80 L76.52,324.22 L76.63,323.56 L76.73,322.81 L76.84,321.98 L76.95,321.07 L77.05,320.10 L77.16,319.06 L77.27,317.97 L77.37,316.84 L77.48,315.68 L77.59,314.49 L77.69,313.28 L77.80,312.07 L77.91,310.86 L78.01,309.67 L78.12,308.51 L78.23,307.38 L78.33,306.29 L78.44,305.26 L78.55,304.29 L78.65,303.40 L78.76,302.58 L78.87,301.86 L78.97,301.22 L79.08,300.69 L79.19,300.27 L79.29,299.95 L79.40,299.76 L79.51,299.67 L79.61,299.71 L79.72,299.87 L79.83,300.15 L79.93,300.54 L80.04,301.06 L80.15,301.68 L80.25,302.42 L80.36,303.26 L80.47,304.21 L80.57,305.24 L80.68,306.36 L80.79,307.56 L80.89,308.83 L81.00,310.15 L81.11,311.53 L81.21,312.95 L81.32,314.39 L81.43,315.86 L81.53,317.33 L81.64,318.79 L81.75,320.25 L81.85,321.67 L81.96,323.06 L82.07,324.40 L82.17,325.67 L82.28,326.88 L82.39,328.02 L82.49,329.06 L82.60,330.01 L82.71,330.85 L82.81,331.58 L82.92,332.19 L83.03,332.68 L83.13,333.05 L83.24,333.28 L83.35,333.38 L83.45,333.34 L83.56,333.17 L83.67,332.86 L83.77,332.41 L83.88,331.84 L83.99,331.13 L84.09,330.31 L84.20,329.36 L84.31,328.30 L84.41,327.13 L84.52,325.86 L84.63,324.51 L84.73,323.07 L84.84,321.56 L84.95,319.99 L85.05,318.37 L85.16,316.71 L85.27,315.02 L85.37,313.31 L85.48,311.60 L85.59,309.90 L85.69,308.22 L85.80,306.56 L85.91,304.95 L86.01,303.39 L86.12,301.90 L86.23,300.48 L86.33,299.15 L86.44,297.91 L86.55,296.77 L86.65,295.75 L86.76,294.84 L86.87,294.06 L86.97,293.41 L87.08,292.90 L87.19,292.52 L87.29,292.29 L87.40,292.20 L87.51,292.26 L87.61,292.47 L87.72,292.82 L87.83,293.32 L87.93,293.95 L88.04,294.72 L88.15,295.63 L88.25,296.66 L88.36,297.82 L88.47,299.09 L88.57,300.46 L88.68,301.93 L88.79,303.49 L88.89,305.13 L89.00,306.84 L89.11,308.61 L89.21,310.42 L89.32,312.27 L89.43,314.14 L89.53,316.03 L89.64,317.92 L89.75,319.80 L89.85,321.65 L89.96,323.47 L90.07,325.25 L90.17,326.97 L90.28,328.62 L90.39,330.20 L90.49,331.69 L90.60,333.09 L90.71,334.38 L90.81,335.55 L90.92,336.61 L91.03,337.55 L91.13,338.35 L91.24,339.01 L91.35,339.54 L91.45,339.92 L91.56,340.15 L91.67,340.24 L91.77,340.18 L91.88,339.97 L91.99,339.62 L92.09,339.12 L92.20,338.48 L92.31,337.70 L92.41,336.79 L92.52,335.74 L92.63,334.58 L92.73,333.30 L92.84,331.91 L92.95,330.43 L93.05,328.85 L93.16,327.18 L93.27,325.45 L93.37,323.65 L93.48,321.80 L93.59,319.90 L93.69,317.97 L93.80,316.02 L93.91,314.06 L94.01,312.09 L94.12,310.14 L94.23,308.21 L94.33,306.31 L94.44,304.45 L94.55,302.64 L94.65,300.90 L94.76,299.23 L94.87,297.63 L94.97,296.13 L95.08,294.72 L95.19,293.41 L95.29,292.21 L95.40,291.13 L95.51,290.17 L95.61,289.34 L95.72,288.64 L95.83,288.07 L95.93,287.63 L96.04,287.34 L96.15,287.18 L96.25,287.16 L96.36,287.28 L96.47,287.55 L96.57,287.94 L96.68,288.47 L96.79,289.13 L96.89,289.92 L97.00,290.83 L97.11,291.86 L97.21,293.00 L97.32,294.24 L97.43,295.59 L97.53,297.02 L97.64,298.54 L97.75,300.14 L97.85,301.81 L97.96,303.53 L98.07,305.31 L98.17,307.13 L98.28,308.98 L98.39,310.86 L98.49,312.75 L98.60,314.65 L98.71,316.55 L98.81,318.43 L98.92,320.29 L99.03,322.12 L99.13,323.92 L99.24,325.66 L99.35,327.36 L99.45,328.99 L99.56,330.55 L99.67,332.03 L99.77,333.43 L99.88,334.75 L99.99,335.96 L100.09,337.08 L100.20,338.10 L100.31,339.01 L100.41,339.80 L100.52,340.49 L100.63,341.05 L100.73,341.50 L100.84,341.83 L100.95,342.04 L101.05,342.12 L101.16,342.09 L101.27,341.94 L101.37,341.67 L101.48,341.29 L101.59,340.79 L101.69,340.18 L101.80,339.47 L101.91,338.65 L102.01,337.74 L102.12,336.73 L102.23,335.64 L102.33,334.46 L102.44,333.20 L102.55,331.87 L102.65,330.48 L102.76,329.03 L102.87,327.52 L102.97,325.98 L103.08,324.39 L103.19,322.77 L103.29,321.12 L103.40,319.46 L103.51,317.79 L103.61,316.11 L103.72,314.44 L103.83,312.77 L103.93,311.13 L104.04,309.51 L104.15,307.91 L104.25,306.35 L104.36,304.84 L104.47,303.37 L104.57,301.95 L104.68,300.59 L104.79,299.30 L104.89,298.07 L105.00,296.91 L105.11,295.83 L105.21,294.83 L105.32,293.90 L105.43,293.07 L105.53,292.32 L105.64,291.65 L105.75,291.08 L105.85,290.60 L105.96,290.22 L106.07,289.92 L106.17,289.72 L106.28,289.61 L106.39,289.60 L106.49,289.67 L106.60,289.84 L106.71,290.09 L106.81,290.43 L106.92,290.85 L107.03,291.36 L107.13,291.94 L107.24,292.60 L107.35,293.33 L107.45,294.13 L107.56,295.00 L107.67,295.93 L107.77,296.91 L107.88,297.95 L107.99,299.04 L108.09,300.17 L108.20,301.34 L108.31,302.54 L108.41,303.78 L108.52,305.04 L108.63,306.32 L108.73,307.62 L108.84,308.93 L108.95,310.25 L109.05,311.57 L109.16,312.88 L109.27,314.19 L109.37,315.49 L109.48,316.78 L109.59,318.04 L109.69,319.28 L109.80,320.49 L109.91,321.67 L110.01,322.82 L110.12,323.93 L110.23,325.00 L110.33,326.03 L110.44,327.00 L110.55,327.93 L110.65,328.81 L110.76,329.64 L110.87,330.40 L110.97,331.12 L111.08,331.77 L111.19,332.36 L111.29,332.90 L111.40,333.37 L111.51,333.78 L111.61,334.12 L111.72,334.41 L111.83,334.63 L111.93,334.79 L112.04,334.89 L112.15,334.92 L112.25,334.90 L112.36,334.82 L112.47,334.68 L112.57,334.48 L112.68,334.23 L112.79,333.92 L112.89,333.56 L113.00,333.16 L113.11,332.70 L113.21,332.20 L113.32,331.66 L113.43,331.07 L113.53,330.45 L113.64,329.79 L113.75,329.09 L113.85,328.37 L113.96,327.62 L114.07,326.84 L114.17,326.04 L114.28,325.22 L114.39,324.38 L114.49,323.52 L114.60,322.65 L114.71,321.78 L114.81,320.89 L114.92,320.01 L115.03,319.12 L115.13,318.23 L115.24,317.34 L115.35,316.46 L115.45,315.59 L115.56,314.73 L115.67,313.88 L115.77,313.04 L115.88,312.22 L115.99,311.42 L116.09,310.64 L116.20,309.88 L116.31,309.14 L116.41,308.43 L116.52,307.74 L116.63,307.09 L116.73,306.46 L116.84,305.86 L116.95,305.29 L117.05,304.75 L117.16,304.25 L117.27,303.78 L117.37,303.34 L117.48,302.93 L117.59,302.57 L117.69,302.23 L117.80,301.93 L117.91,301.67 L118.01,301.44 L118.12,301.24 L118.23,301.08 L118.33,300.95 L118.44,300.86 L118.55,300.80 L118.65,300.77 L118.76,300.78 L118.87,300.81 L118.97,300.88 L119.08,300.98 L119.19,301.10 L119.29,301.26 L119.40,301.44 L119.51,301.64 L119.61,301.87 L119.72,302.13 L119.83,302.41 L119.93,302.71 L120.04,303.03 L120.15,303.37 L120.25,303.73 L120.36,304.10 L120.47,304.49 L120.57,304.90 L120.68,305.31 L120.79,305.74 L120.89,306.19 L121.00,306.63 L121.11,307.09 L121.21,307.56 L121.32,308.03 L121.43,308.50 L121.53,308.98 L121.64,309.46 L121.75,309.95 L121.85,310.43 L121.96,310.91 L122.07,311.39 L122.17,311.87 L122.28,312.34 L122.39,312.81 L122.49,313.27 L122.60,313.73 L122.71,314.18 L122.81,314.62 L122.92,315.05 L123.03,315.48 L123.13,315.89 L123.24,316.29 L123.35,316.68 L123.45,317.06 L123.56,317.43 L123.67,317.78 L123.77,318.12 L123.88,318.45 L123.99,318.77 L124.09,319.07 L124.20,319.35 L124.31,319.62 L124.41,319.88 L124.52,320.12 L124.63,320.35 L124.73,320.56 L124.84,320.76 L124.95,320.94 L125.05,321.11 L125.16,321.26 L125.27,321.40 L125.37,321.52 L125.48,321.63 L125.59,321.73 L125.69,321.81 L125.80,321.87 L125.91,321.93 L126.01,321.97 L126.12,322.00 L126.23,322.01 L126.33,322.01 L126.44,322.00 L126.55,321.98 L126.65,321.95 L126.76,321.90 L126.87,321.85 L126.97,321.78 L127.08,321.71 L127.19,321.62 L127.29,321.53 L127.40,321.43 L127.51,321.32 L127.61,321.20 L127.72,321.07 L127.83,320.94 L127.93,320.80 L128.04,320.66 L128.15,320.51 L128.25,320.35 L128.36,320.19 L128.47,320.03 L128.57,319.86 L128.68,319.69 L128.79,319.51 L128.89,319.34 L129.00,319.16 L129.11,318.97 L129.21,318.79 L129.32,318.60 L129.43,318.42 L129.53,318.23 L129.64,318.04 L129.75,317.86 L129.85,317.67 L129.96,317.48 L130.07,317.30 L130.17,317.11 L130.28,316.93 L130.39,316.75 L130.49,316.57 L130.60,316.39 L130.71,316.21 L130.81,316.04 L130.92,315.87 L131.03,315.70 L131.13,315.54 L131.24,315.38 L131.35,315.22 L131.45,315.07 L131.56,314.92 L131.67,314.77 L131.77,314.63 L131.88,314.49 L131.99,314.35 L132.09,314.22 L132.20,314.09 L132.31,313.97 L132.41,313.85 L132.52,313.74 L132.63,313.63 L132.73,313.52 L132.84,313.42 L132.95,313.32 L133.05,313.23 L133.16,313.14 L133.27,313.06 L133.37,312.98 L133.48,312.90 L133.59,312.83 L133.69,312.76 L133.80,312.70 L133.91,312.64 L134.01,312.58 L134.12,312.53 L134.23,312.49 L134.33,312.44 L134.44,312.40 L134.55,312.37 L134.65,312.33 L134.76,312.30 L134.87,312.28 L134.97,312.26 L135.08,312.24 L135.19,312.22 L135.29,312.21 L135.40,312.20 L135.51,312.20 L135.61,312.19 L135.72,312.19 L135.83,312.19 L135.93,312.20 L136.04,312.20 L136.15,312.21 L136.25,312.22 L136.36,312.24 L136.47,312.25 L136.57,312.27 L136.68,312.29 L136.79,312.31 L136.89,312.33 L137.00,312.36 L137.11,312.39 L137.21,312.41 L137.32,312.44 L137.43,312.47 L137.53,312.50 L137.64,312.54 L137.75,312.57 L137.85,312.60 L137.96,312.64 L138.07,312.68 L138.17,312.71 L138.28,312.75 L138.39,312.79 L138.49,312.83 L138.60,312.87 L138.71,312.90 L138.81,312.94 L138.92,312.98 L139.03,313.02 L139.13,313.07 L139.24,313.11 L139.35,313.15 L139.45,313.19 L139.56,313.23 L139.67,313.27 L139.77,313.31 L139.88,313.35 L139.99,313.39 L140.09,313.43 L140.20,313.47 L140.31,313.51 L140.41,313.55 L140.52,313.58 L140.63,313.62 L140.73,313.66 L140.84,313.70 L140.95,313.73 L141.05,313.77 L141.16,313.81 L141.27,313.84 L141.37,313.88 L141.48,313.91 L141.59,313.94 L141.69,313.98 L141.80,314.01 L141.91,314.04 L142.01,314.07 L142.12,314.10 L142.23,314.13 L142.33,314.16 L142.44,314.19 L142.55,314.22 L142.65,314.24 L142.76,314.27 L142.87,314.29 L142.97,314.32 L143.08,314.34 L143.19,314.37 L143.29,314.39 L143.40,314.41 L143.51,314.44 L143.61,314.46 L143.72,314.48 L143.83,314.50 L143.93,314.52 L144.04,314.53 L144.15,314.55 L144.25,314.57 L144.36,314.59 L144.47,314.60 L144.57,314.62 L144.68,314.63 L144.79,314.65 L144.89,314.66 L145.00,314.68 L145.11,314.69 L145.21,314.70 L145.32,314.71 L145.43,314.72 L145.53,314.73 L145.64,314.74 L145.75,314.75 L145.85,314.76 L145.96,314.77 L146.07,314.78 L146.17,314.79 L146.28,314.80 L146.39,314.80 L146.49,314.81 L146.60,314.82 L146.71,314.82 L146.81,314.83 L146.92,314.83 L147.03,314.84 L147.13,314.84 L147.24,314.85 L147.35,314.85 L147.45,314.86 L147.56,314.86 L147.67,314.86 L147.77,314.86 L147.88,314.87 L147.99,314.87 L148.09,314.87 L148.20,314.87 L148.31,314.87 L148.41,314.88 L148.52,314.88 L148.63,314.88 L148.73,314.88 L148.84,314.88 L148.95,314.88 L149.05,314.88 L149.16,314.88 L149.27,314.88 L149.37,314.88 L149.48,314.88 L149.59,314.88 L149.69,314.88 L149.80,314.88 L149.91,314.88 L150.01,314.87 L150.12,314.87 L150.23,314.87 L150.33,314.87 L150.44,314.87 L150.55,314.87 L150.65,314.87 L150.76,314.86 L150.87,314.86 L150.97,314.86 L151.08,314.86 L151.19,314.86 L151.29,314.85 L151.40,314.85 L151.51,314.85 L151.61,314.85 L151.72,314.85 L151.83,314.84 L151.93,314.84 L152.04,314.84 L152.15,314.84 L152.25,314.83 L152.36,314.83 L152.47,314.83 L152.57,314.83 L152.68,314.82 L152.79,314.82 L152.89,314.82 L153.00,314.82 L153.11,314.81 L153.21,314.81 L153.32,314.81 L153.43,314.81 L153.53,314.80 L153.64,314.80 L153.75,314.80 L153.85,314.80 L153.96,314.80 L154.07,314.79 L154.17,314.79 L154.28,314.79 L154.39,314.79 L154.49,314.78 L154.60,314.78 L154.71,314.78 L154.81,314.78 L154.92,314.77 L155.03,314.77 L155.13,314.77 L155.24,314.77 L155.35,314.77 L155.45,314.76 L155.56,314.76 L155.67,314.76 L155.77,314.76 L155.88,314.76 L155.99,314.75 L156.09,314.75 L156.20,314.75 L156.31,314.75 L156.41,314.75 L156.52,314.74 L156.63,314.74 L156.73,314.74 L156.84,314.74 L156.95,314.74 L157.05,314.74 L157.16,314.73 L157.27,314.73 L157.37,314.73 L157.48,314.73 L157.59,314.73 L157.69,314.73 L157.80,314.72 L157.91,314.72 L158.01,314.72 L158.12,314.72 L158.23,314.72 L158.33,314.72 L158.44,314.72 L158.55,314.71 L158.65,314.71 L158.76,314.71 L158.87,314.71 L158.97,314.71 L159.08,314.71 L159.19,314.71 L159.29,314.71 L159.40,314.70 L159.51,314.70 L159.61,314.70 L159.72,314.70 L159.83,314.70 L159.93,314.70 L160.04,314.70 L160.15,314.70 L160.25,314.70 L160.36,314.69 L160.47,314.69 L160.57,314.69 L160.68,314.69 L160.79,314.69 L160.89,314.69 L161.00,314.69 L161.11,314.69 L161.21,314.69 L161.32,314.69 L161.43,314.69 L161.53,314.68 L161.64,314.68 L161.75,314.68 L161.85,314.68 L161.96,314.68 L162.07,314.68 L162.17,314.68 L162.28,314.68 L162.39,314.68 L162.49,314.68 L162.60,314.68" fill="none" stroke="#0000ff" stroke-width="1.4" stroke-linejoin="round"/>
<path d="M34.60,314.62 L34.71,314.62 L34.81,314.62 L34.92,314.62 L35.03,314.62 L35.13,314.62 L35.24,314.62 L35.35,314.62 L35.45,314.62 L35.56,314.62 L35.67,314.62 L35.77,314.61 L35.88,314.61 L35.99,314.61 L36.09,314.61 L36.20,314.61 L36.31,314.61 L36.41,314.61 L36.52,314.61 L36.63,314.61 L36.73,314.61 L36.84,314.61 L36.95,314.60 L37.05,314.60 L37.16,314.60 L37.27,314.60 L37.37,314.60 L37.48,314.60 L37.59,314.60 L37.69,314.60 L37.80,314.60 L37.91,314.59 L38.01,314.59 L38.12,314.59 L38.23,314.59 L38.33,314.59 L38.44,314.59 L38.55,314.59 L38.65,314.59 L38.76,314.58 L38.87,314.58 L38.97,314.58 L39.08,314.58 L39.19,314.58 L39.29,314.58 L39.40,314.58 L39.51,314.57 L39.61,314.57 L39.72,314.57 L39.83,314.57 L39.93,314.57 L40.04,314.57 L40.15,314.56 L40.25,314.56 L40.36,314.56 L40.47,314.56 L40.57,314.56 L40.68,314.55 L40.79,314.55 L40.89,314.55 L41.00,314.55 L41.11,314.55 L41.21,314.54 L41.32,314.54 L41.43,314.54 L41.53,314.54 L41.64,314.53 L41.75,314.53 L41.85,314.53 L41.96,314.53 L42.07,314.52 L42.17,314.52 L42.28,314.52 L42.39,314.52 L42.49,314.51 L42.60,314.51 L42.71,314.51 L42.81,314.50 L42.92,314.50 L43.03,314.50 L43.13,314.50 L43.24,314.49 L43.35,314.49 L43.45,314.49 L43.56,314.48 L43.67,314.48 L43.77,314.48 L43.88,314.47 L43.99,314.47 L44.09,314.47 L44.20,314.46 L44.31,314.46 L44.41,314.45 L44.52,314.45 L44.63,314.45 L44.73,314.44 L44.84,314.44 L44.95,314.43 L45.05,314.43 L45.16,314.43 L45.27,314.42 L45.37,314.42 L45.48,314.41 L45.59,314.41 L45.69,314.40 L45.80,314.40 L45.91,314.39 L46.01,314.39 L46.12,314.38 L46.23,314.38 L46.33,314.37 L46.44,314.37 L46.55,314.36 L46.65,314.36 L46.76,314.35 L46.87,314.35 L46.97,314.34 L47.08,314.34 L47.19,314.33 L47.29,314.32 L47.40,314.32 L47.51,314.31 L47.61,314.31 L47.72,314.30 L47.83,314.29 L47.93,314.29 L48.04,314.28 L48.15,314.27 L48.25,314.27 L48.36,314.26 L48.47,314.25 L48.57,314.24 L48.68,314.24 L48.79,314.23 L48.89,314.22 L49.00,314.21 L49.11,314.21 L49.21,314.20 L49.32,314.19 L49.43,314.18 L49.53,314.17 L49.64,314.16 L49.75,314.16 L49.85,314.15 L49.96,314.14 L50.07,314.13 L50.17,314.12 L50.28,314.11 L50.39,314.10 L50.49,314.09 L50.60,314.08 L50.71,314.07 L50.81,314.06 L50.92,314.05 L51.03,314.04 L51.13,314.03 L51.24,314.02 L51.35,314.01 L51.45,314.00 L51.56,313.99 L51.67,313.98 L51.77,313.97 L51.88,313.95 L51.99,313.94 L52.09,313.93 L52.20,313.92 L52.31,313.91 L52.41,313.89 L52.52,313.88 L52.63,313.87 L52.73,313.85 L52.84,313.84 L52.95,313.83 L53.05,313.81 L53.16,313.80 L53.27,313.79 L53.37,313.77 L53.48,313.76 L53.59,313.74 L53.69,313.73 L53.80,313.71 L53.91,313.70 L54.01,313.68 L54.12,313.67 L54.23,313.65 L54.33,313.63 L54.44,313.62 L54.55,313.60 L54.65,313.58 L54.76,313.57 L54.87,313.55 L54.97,313.53 L55.08,313.52 L55.19,313.50 L55.29,313.48 L55.40,313.46 L55.51,313.44 L55.61,313.42 L55.72,313.40 L55.83,313.39 L55.93,313.37 L56.04,313.35 L56.15,313.33 L56.25,313.31 L56.36,313.28 L56.47,313.26 L56.57,313.24 L56.68,313.22 L56.79,313.20 L56.89,313.18 L57.00,313.16 L57.11,313.13 L57.21,313.11 L57.32,313.09 L57.43,313.06 L57.53,313.04 L57.64,313.02 L57.75,312.99 L57.85,312.97 L57.96,312.94 L58.07,312.92 L58.17,312.89 L58.28,312.87 L58.39,312.84 L58.49,312.81 L58.60,312.79 L58.71,312.76 L58.81,312.73 L58.92,312.70 L59.03,312.68 L59.13,312.65 L59.24,312.62 L59.35,312.59 L59.45,312.56 L59.56,312.53 L59.67,312.50 L59.77,312.47 L59.88,312.44 L59.99,312.41 L60.09,312.38 L60.20,312.35 L60.31,312.32 L60.41,312.28 L60.52,312.25 L60.63,312.22 L60.73,312.18 L60.84,312.15 L60.95,312.12 L61.05,312.08 L61.16,312.05 L61.27,312.01 L61.37,311.97 L61.48,311.94 L61.59,311.90 L61.69,311.87 L61.80,311.83 L61.91,311.79 L62.01,311.75 L62.12,311.71 L62.23,311.68 L62.33,311.64 L62.44,311.60 L62.55,311.56 L62.65,311.52 L62.76,311.48 L62.87,311.43 L62.97,311.39 L63.08,311.35 L63.19,311.31 L63.29,311.27 L63.40,311.22 L63.51,311.18 L63.61,311.13 L63.72,311.09 L63.83,311.05 L63.93,311.00 L64.04,310.95 L64.15,310.91 L64.25,310.86 L64.36,310.81 L64.47,310.77 L64.57,310.72 L64.68,310.67 L64.79,310.62 L64.89,310.57 L65.00,310.52 L65.11,310.47 L65.21,310.42 L65.32,310.37 L65.43,310.32 L65.53,310.27 L65.64,310.21 L65.75,310.16 L65.85,310.11 L65.96,310.05 L66.07,310.00 L66.17,309.95 L66.28,309.89 L66.39,309.83 L66.49,309.78 L66.60,309.72 L66.71,309.67 L66.81,309.61 L66.92,309.55 L67.03,309.49 L67.13,309.43 L67.24,309.37 L67.35,309.31 L67.45,309.25 L67.56,309.19 L67.67,309.13 L67.77,309.07 L67.88,309.01 L67.99,308.94 L68.09,308.88 L68.20,308.82 L68.31,308.75 L68.41,308.69 L68.52,308.62 L68.63,308.56 L68.73,308.49 L68.84,308.43 L68.95,308.36 L69.05,308.29 L69.16,308.22 L69.27,308.16 L69.37,308.09 L69.48,308.02 L69.59,307.95 L69.69,307.88 L69.80,307.81 L69.91,307.73 L70.01,307.66 L70.12,307.59 L70.23,307.52 L70.33,307.45 L70.44,307.37 L70.55,307.30 L70.65,307.22 L70.76,307.15 L70.87,307.07 L70.97,307.00 L71.08,306.92 L71.19,306.84 L71.29,306.77 L71.40,306.69 L71.51,306.61 L71.61,306.53 L71.72,306.45 L71.83,306.37 L71.93,306.29 L72.04,306.21 L72.15,306.13 L72.25,306.05 L72.36,305.97 L72.47,305.89 L72.57,305.80 L72.68,305.72 L72.79,305.64 L72.89,305.55 L73.00,305.47 L73.11,305.38 L73.21,305.30 L73.32,305.21 L73.43,305.13 L73.53,305.04 L73.64,304.95 L73.75,304.86 L73.85,304.78 L73.96,304.69 L74.07,304.60 L74.17,304.51 L74.28,304.42 L74.39,304.33 L74.49,304.24 L74.60,304.15 L74.71,304.06 L74.81,303.97 L74.92,303.88 L75.03,303.79 L75.13,303.69 L75.24,303.60 L75.35,303.51 L75.45,303.41 L75.56,303.32 L75.67,303.23 L75.77,303.13 L75.88,303.04 L75.99,302.94 L76.09,302.84 L76.20,302.75 L76.31,302.65 L76.41,302.56 L76.52,302.46 L76.63,302.36 L76.73,302.27 L76.84,302.17 L76.95,302.07 L77.05,301.97 L77.16,301.87 L77.27,301.77 L77.37,301.67 L77.48,301.58 L77.59,301.48 L77.69,301.38 L77.80,301.28 L77.91,301.18 L78.01,301.08 L78.12,300.97 L78.23,300.87 L78.33,300.77 L78.44,300.67 L78.55,300.57 L78.65,300.47 L78.76,300.37 L78.87,300.26 L78.97,300.16 L79.08,300.06 L79.19,299.96 L79.29,299.85 L79.40,299.75 L79.51,299.65 L79.61,299.54 L79.72,299.44 L79.83,299.34 L79.93,299.23 L80.04,299.13 L80.15,299.03 L80.25,298.92 L80.36,298.82 L80.47,298.71 L80.57,298.61 L80.68,298.51 L80.79,298.40 L80.89,298.30 L81.00,298.19 L81.11,298.09 L81.21,297.98 L81.32,297.88 L81.43,297.78 L81.53,297.67 L81.64,297.57 L81.75,297.46 L81.85,297.36 L81.96,297.25 L82.07,297.15 L82.17,297.04 L82.28,296.94 L82.39,296.84 L82.49,296.73 L82.60,296.63 L82.71,296.52 L82.81,296.42 L82.92,296.32 L83.03,296.21 L83.13,296.11 L83.24,296.01 L83.35,295.90 L83.45,295.80 L83.56,295.70 L83.67,295.60 L83.77,295.49 L83.88,295.39 L83.99,295.29 L84.09,295.19 L84.20,295.09 L84.31,294.99 L84.41,294.88 L84.52,294.78 L84.63,294.68 L84.73,294.58 L84.84,294.48 L84.95,294.38 L85.05,294.28 L85.16,294.18 L85.27,294.08 L85.37,293.99 L85.48,293.89 L85.59,293.79 L85.69,293.69 L85.80,293.59 L85.91,293.50 L86.01,293.40 L86.12,293.31 L86.23,293.21 L86.33,293.11 L86.44,293.02 L86.55,292.92 L86.65,292.83 L86.76,292.74 L86.87,292.64 L86.97,292.55 L87.08,292.46 L87.19,292.37 L87.29,292.28 L87.40,292.18 L87.51,292.09 L87.61,292.00 L87.72,291.91 L87.83,291.83 L87.93,291.74 L88.04,291.65 L88.15,291.56 L88.25,291.48 L88.36,291.39 L88.47,291.30 L88.57,291.22 L88.68,291.14 L88.79,291.05 L88.89,290.97 L89.00,290.89 L89.11,290.80 L89.21,290.72 L89.32,290.64 L89.43,290.56 L89.53,290.48 L89.64,290.40 L89.75,290.33 L89.85,290.25 L89.96,290.17 L90.07,290.10 L90.17,290.02 L90.28,289.95 L90.39,289.87 L90.49,289.80 L90.60,289.73 L90.71,289.66 L90.81,289.59 L90.92,289.52 L91.03,289.45 L91.13,289.38 L91.24,289.31 L91.35,289.25 L91.45,289.18 L91.56,289.11 L91.67,289.05 L91.77,288.99 L91.88,288.92 L91.99,288.86 L92.09,288.80 L92.20,288.74 L92.31,288.68 L92.41,288.62 L92.52,288.57 L92.63,288.51 L92.73,288.45 L92.84,288.40 L92.95,288.34 L93.05,288.29 L93.16,288.24 L93.27,288.19 L93.37,288.14 L93.48,288.09 L93.59,288.04 L93.69,287.99 L93.80,287.94 L93.91,287.90 L94.01,287.85 L94.12,287.81 L94.23,287.77 L94.33,287.73 L94.44,287.68 L94.55,287.64 L94.65,287.61 L94.76,287.57 L94.87,287.53 L94.97,287.49 L95.08,287.46 L95.19,287.43 L95.29,287.39 L95.40,287.36 L95.51,287.33 L95.61,287.30 L95.72,287.27 L95.83,287.24 L95.93,287.22 L96.04,287.19 L96.15,287.17 L96.25,287.14 L96.36,287.12 L96.47,287.10 L96.57,287.08 L96.68,287.06 L96.79,287.04 L96.89,287.02 L97.00,287.00 L97.11,286.99 L97.21,286.98 L97.32,286.96 L97.43,286.95 L97.53,286.94 L97.64,286.93 L97.75,286.92 L97.85,286.91 L97.96,286.90 L98.07,286.90 L98.17,286.89 L98.28,286.89 L98.39,286.89 L98.49,286.89 L98.60,286.89 L98.71,286.89 L98.81,286.89 L98.92,286.89 L99.03,286.89 L99.13,286.90 L99.24,286.90 L99.35,286.91 L99.45,286.92 L99.56,286.93 L99.67,286.94 L99.77,286.95 L99.88,286.96 L99.99,286.98 L100.09,286.99 L100.20,287.00 L100.31,287.02 L100.41,287.04 L100.52,287.06 L100.63,287.08 L100.73,287.10 L100.84,287.12 L100.95,287.14 L101.05,287.17 L101.16,287.19 L101.27,287.22 L101.37,287.24 L101.48,287.27 L101.59,287.30 L101.69,287.33 L101.80,287.36 L101.91,287.39 L102.01,287.43 L102.12,287.46 L102.23,287.49 L102.33,287.53 L102.44,287.57 L102.55,287.61 L102.65,287.64 L102.76,287.68 L102.87,287.73 L102.97,287.77 L103.08,287.81 L103.19,287.85 L103.29,287.90 L103.40,287.94 L103.51,287.99 L103.61,288.04 L103.72,288.09 L103.83,288.14 L103.93,288.19 L104.04,288.24 L104.15,288.29 L104.25,288.34 L104.36,288.40 L104.47,288.45 L104.57,288.51 L104.68,288.57 L104.79,288.62 L104.89,288.68 L105.00,288.74 L105.11,288.80 L105.21,288.86 L105.32,288.92 L105.43,288.99 L105.53,289.05 L105.64,289.11 L105.75,289.18 L105.85,289.25 L105.96,289.31 L106.07,289.38 L106.17,289.45 L106.28,289.52 L106.39,289.59 L106.49,289.66 L106.60,289.73 L106.71,289.80 L106.81,289.87 L106.92,289.95 L107.03,290.02 L107.13,290.10 L107.24,290.17 L107.35,290.25 L107.45,290.33 L107.56,290.40 L107.67,290.48 L107.77,290.56 L107.88,290.64 L107.99,290.72 L108.09,290.80 L108.20,290.89 L108.31,290.97 L108.41,291.05 L108.52,291.14 L108.63,291.22 L108.73,291.30 L108.84,291.39 L108.95,291.48 L109.05,291.56 L109.16,291.65 L109.27,291.74 L109.37,291.83 L109.48,291.91 L109.59,292.00 L109.69,292.09 L109.80,292.18 L109.91,292.28 L110.01,292.37 L110.12,292.46 L110.23,292.55 L110.33,292.64 L110.44,292.74 L110.55,292.83 L110.65,292.92 L110.76,293.02 L110.87,293.11 L110.97,293.21 L111.08,293.31 L111.19,293.40 L111.29,293.50 L111.40,293.59 L111.51,293.69 L111.61,293.79 L111.72,293.89 L111.83,293.99 L111.93,294.08 L112.04,294.18 L112.15,294.28 L112.25,294.38 L112.36,294.48 L112.47,294.58 L112.57,294.68 L112.68,294.78 L112.79,294.88 L112.89,294.99 L113.00,295.09 L113.11,295.19 L113.21,295.29 L113.32,295.39 L113.43,295.49 L113.53,295.60 L113.64,295.70 L113.75,295.80 L113.85,295.90 L113.96,296.01 L114.07,296.11 L114.17,296.21 L114.28,296.32 L114.39,296.42 L114.49,296.52 L114.60,296.63 L114.71,296.73 L114.81,296.84 L114.92,296.94 L115.03,297.04 L115.13,297.15 L115.24,297.25 L115.35,297.36 L115.45,297.46 L115.56,297.57 L115.67,297.67 L115.77,297.78 L115.88,297.88 L115.99,297.98 L116.09,298.09 L116.20,298.19 L116.31,298.30 L116.41,298.40 L116.52,298.51 L116.63,298.61 L116.73,298.71 L116.84,298.82 L116.95,298.92 L117.05,299.03 L117.16,299.13 L117.27,299.23 L117.37,299.34 L117.48,299.44 L117.59,299.54 L117.69,299.65 L117.80,299.75 L117.91,299.85 L118.01,299.96 L118.12,300.06 L118.23,300.16 L118.33,300.26 L118.44,300.37 L118.55,300.47 L118.65,300.57 L118.76,300.67 L118.87,300.77 L118.97,300.87 L119.08,300.97 L119.19,301.08 L119.29,301.18 L119.40,301.28 L119.51,301.38 L119.61,301.48 L119.72,301.58 L119.83,301.67 L119.93,301.77 L120.04,301.87 L120.15,301.97 L120.25,302.07 L120.36,302.17 L120.47,302.27 L120.57,302.36 L120.68,302.46 L120.79,302.56 L120.89,302.65 L121.00,302.75 L121.11,302.84 L121.21,302.94 L121.32,303.04 L121.43,303.13 L121.53,303.23 L121.64,303.32 L121.75,303.41 L121.85,303.51 L121.96,303.60 L122.07,303.69 L122.17,303.79 L122.28,303.88 L122.39,303.97 L122.49,304.06 L122.60,304.15 L122.71,304.24 L122.81,304.33 L122.92,304.42 L123.03,304.51 L123.13,304.60 L123.24,304.69 L123.35,304.78 L123.45,304.86 L123.56,304.95 L123.67,305.04 L123.77,305.13 L123.88,305.21 L123.99,305.30 L124.09,305.38 L124.20,305.47 L124.31,305.55 L124.41,305.64 L124.52,305.72 L124.63,305.80 L124.73,305.89 L124.84,305.97 L124.95,306.05 L125.05,306.13 L125.16,306.21 L125.27,306.29 L125.37,306.37 L125.48,306.45 L125.59,306.53 L125.69,306.61 L125.80,306.69 L125.91,306.77 L126.01,306.84 L126.12,306.92 L126.23,307.00 L126.33,307.07 L126.44,307.15 L126.55,307.22 L126.65,307.30 L126.76,307.37 L126.87,307.45 L126.97,307.52 L127.08,307.59 L127.19,307.66 L127.29,307.73 L127.40,307.81 L127.51,307.88 L127.61,307.95 L127.72,308.02 L127.83,308.09 L127.93,308.16 L128.04,308.22 L128.15,308.29 L128.25,308.36 L128.36,308.43 L128.47,308.49 L128.57,308.56 L128.68,308.62 L128.79,308.69 L128.89,308.75 L129.00,308.82 L129.11,308.88 L129.21,308.94 L129.32,309.01 L129.43,309.07 L129.53,309.13 L129.64,309.19 L129.75,309.25 L129.85,309.31 L129.96,309.37 L130.07,309.43 L130.17,309.49 L130.28,309.55 L130.39,309.61 L130.49,309.67 L130.60,309.72 L130.71,309.78 L130.81,309.83 L130.92,309.89 L131.03,309.95 L131.13,310.00 L131.24,310.05 L131.35,310.11 L131.45,310.16 L131.56,310.21 L131.67,310.27 L131.77,310.32 L131.88,310.37 L131.99,310.42 L132.09,310.47 L132.20,310.52 L132.31,310.57 L132.41,310.62 L132.52,310.67 L132.63,310.72 L132.73,310.77 L132.84,310.81 L132.95,310.86 L133.05,310.91 L133.16,310.95 L133.27,311.00 L133.37,311.05 L133.48,311.09 L133.59,311.13 L133.69,311.18 L133.80,311.22 L133.91,311.27 L134.01,311.31 L134.12,311.35 L134.23,311.39 L134.33,311.43 L134.44,311.48 L134.55,311.52 L134.65,311.56 L134.76,311.60 L134.87,311.64 L134.97,311.68 L135.08,311.71 L135.19,311.75 L135.29,311.79 L135.40,311.83 L135.51,311.87 L135.61,311.90 L135.72,311.94 L135.83,311.97 L135.93,312.01 L136.04,312.05 L136.15,312.08 L136.25,312.12 L136.36,312.15 L136.47,312.18 L136.57,312.22 L136.68,312.25 L136.79,312.28 L136.89,312.32 L137.00,312.35 L137.11,312.38 L137.21,312.41 L137.32,312.44 L137.43,312.47 L137.53,312.50 L137.64,312.53 L137.75,312.56 L137.85,312.59 L137.96,312.62 L138.07,312.65 L138.17,312.68 L138.28,312.70 L138.39,312.73 L138.49,312.76 L138.60,312.79 L138.71,312.81 L138.81,312.84 L138.92,312.87 L139.03,312.89 L139.13,312.92 L139.24,312.94 L139.35,312.97 L139.45,312.99 L139.56,313.02 L139.67,313.04 L139.77,313.06 L139.88,313.09 L139.99,313.11 L140.09,313.13 L140.20,313.16 L140.31,313.18 L140.41,313.20 L140.52,313.22 L140.63,313.24 L140.73,313.26 L140.84,313.28 L140.95,313.31 L141.05,313.33 L141.16,313.35 L141.27,313.37 L141.37,313.39 L141.48,313.40 L141.59,313.42 L141.69,313.44 L141.80,313.46 L141.91,313.48 L142.01,313.50 L142.12,313.52 L142.23,313.53 L142.33,313.55 L142.44,313.57 L142.55,313.58 L142.65,313.60 L142.76,313.62 L142.87,313.63 L142.97,313.65 L143.08,313.67 L143.19,313.68 L143.29,313.70 L143.40,313.71 L143.51,313.73 L143.61,313.74 L143.72,313.76 L143.83,313.77 L143.93,313.79 L144.04,313.80 L144.15,313.81 L144.25,313.83 L144.36,313.84 L144.47,313.85 L144.57,313.87 L144.68,313.88 L144.79,313.89 L144.89,313.91 L145.00,313.92 L145.11,313.93 L145.21,313.94 L145.32,313.95 L145.43,313.97 L145.53,313.98 L145.64,313.99 L145.75,314.00 L145.85,314.01 L145.96,314.02 L146.07,314.03 L146.17,314.04 L146.28,314.05 L146.39,314.06 L146.49,314.07 L146.60,314.08 L146.71,314.09 L146.81,314.10 L146.92,314.11 L147.03,314.12 L147.13,314.13 L147.24,314.14 L147.35,314.15 L147.45,314.16 L147.56,314.16 L147.67,314.17 L147.77,314.18 L147.88,314.19 L147.99,314.20 L148.09,314.21 L148.20,314.21 L148.31,314.22 L148.41,314.23 L148.52,314.24 L148.63,314.24 L148.73,314.25 L148.84,314.26 L148.95,314.27 L149.05,314.27 L149.16,314.28 L149.27,314.29 L149.37,314.29 L149.48,314.30 L149.59,314.31 L149.69,314.31 L149.80,314.32 L149.91,314.32 L150.01,314.33 L150.12,314.34 L150.23,314.34 L150.33,314.35 L150.44,314.35 L150.55,314.36 L150.65,314.36 L150.76,314.37 L150.87,314.37 L150.97,314.38 L151.08,314.38 L151.19,314.39 L151.29,314.39 L151.40,314.40 L151.51,314.40 L151.61,314.41 L151.72,314.41 L151.83,314.42 L151.93,314.42 L152.04,314.43 L152.15,314.43 L152.25,314.43 L152.36,314.44 L152.47,314.44 L152.57,314.45 L152.68,314.45 L152.79,314.45 L152.89,314.46 L153.00,314.46 L153.11,314.47 L153.21,314.47 L153.32,314.47 L153.43,314.48 L153.53,314.48 L153.64,314.48 L153.75,314.49 L153.85,314.49 L153.96,314.49 L154.07,314.50 L154.17,314.50 L154.28,314.50 L154.39,314.50 L154.49,314.51 L154.60,314.51 L154.71,314.51 L154.81,314.52 L154.92,314.52 L155.03,314.52 L155.13,314.52 L155.24,314.53 L155.35,314.53 L155.45,314.53 L155.56,314.53 L155.67,314.54 L155.77,314.54 L155.88,314.54 L155.99,314.54 L156.09,314.55 L156.20,314.55 L156.31,314.55 L156.41,314.55 L156.52,314.55 L156.63,314.56 L156.73,314.56 L156.84,314.56 L156.95,314.56 L157.05,314.56 L157.16,314.57 L157.27,314.57 L157.37,314.57 L157.48,314.57 L157.59,314.57 L157.69,314.57 L157.80,314.58 L157.91,314.58 L158.01,314.58 L158.12,314.58 L158.23,314.58 L158.33,314.58 L158.44,314.58 L158.55,314.59 L158.65,314.59 L158.76,314.59 L158.87,314.59 L158.97,314.59 L159.08,314.59 L159.19,314.59 L159.29,314.59 L159.40,314.60 L159.51,314.60 L159.61,314.60 L159.72,314.60 L159.83,314.60 L159.93,314.60 L160.04,314.60 L160.15,314.60 L160.25,314.60 L160.36,314.61 L160.47,314.61 L160.57,314.61 L160.68,314.61 L160.79,314.61 L160.89,314.61 L161.00,314.61 L161.11,314.61 L161.21,314.61 L161.32,314.61 L161.43,314.61 L161.53,314.62 L161.64,314.62 L161.75,314.62 L161.85,314.62 L161.96,314.62 L162.07,314.62 L162.17,314.62 L162.28,314.62 L162.39,314.62 L162.49,314.62 L162.60,314.62" fill="none" stroke="#000" stroke-width="1.5"/>
<path d="M41.71,274.0v4.5M41.71,356.0v-4.5M55.93,274.0v2.5M55.93,356.0v-2.5M70.16,274.0v4.5M70.16,356.0v-4.5M84.38,274.0v2.5M84.38,356.0v-2.5M98.60,274.0v4.5M98.60,356.0v-4.5M112.82,274.0v2.5M112.82,356.0v-2.5M127.04,274.0v4.5M127.04,356.0v-4.5M141.27,274.0v2.5M141.27,356.0v-2.5M155.49,274.0v4.5M155.49,356.0v-4.5M34.6,353.50h2.8M162.6,353.50h-2.8M34.6,340.55h5M162.6,340.55h-5M34.6,327.60h2.8M162.6,327.60h-2.8M34.6,314.65h5M162.6,314.65h-5M34.6,301.70h2.8M162.6,301.70h-2.8M34.6,288.75h5M162.6,288.75h-5M34.6,275.80h2.8M162.6,275.80h-2.8" stroke="#222" stroke-width="1.0" fill="none"/>
<rect x="34.6" y="274.0" width="128.0" height="82.0" fill="none" stroke="#222" stroke-width="1.0"/>
<text class="ty" x="30.6" y="292.65" text-anchor="end">5</text>
<text class="ty" x="30.6" y="318.55" text-anchor="end">0</text>
<text class="ty" x="30.6" y="344.45" text-anchor="end">-5</text>
</g>
<g>
<rect x="196.1" y="274.0" width="127.79999999999998" height="82.0" fill="none" stroke="#222" stroke-width="1.0"/>
<path d="M196.10,274.0v4.5M196.10,356.0v-4.5M206.75,274.0v2.5M206.75,356.0v-2.5M217.40,274.0v4.5M217.40,356.0v-4.5M228.05,274.0v2.5M228.05,356.0v-2.5M238.70,274.0v4.5M238.70,356.0v-4.5M249.35,274.0v2.5M249.35,356.0v-2.5M260.00,274.0v4.5M260.00,356.0v-4.5M270.65,274.0v2.5M270.65,356.0v-2.5M281.30,274.0v4.5M281.30,356.0v-4.5M291.95,274.0v2.5M291.95,356.0v-2.5M302.60,274.0v4.5M302.60,356.0v-4.5M313.25,274.0v2.5M313.25,356.0v-2.5M323.90,274.0v4.5M323.90,356.0v-4.5M196.1,356.00h5M196.1,318.30h5M196.1,280.60h5M196.1,337.15h2.8M196.1,299.45h2.8M323.9,356.00h-5M323.9,332.60h-5M323.9,309.20h-5M323.9,285.80h-5M323.9,344.30h-2.8M323.9,320.90h-2.8M323.9,297.50h-2.8" stroke="#222" stroke-width="1.0" fill="none"/>
<clipPath id="c3"><rect x="195.6" y="273.5" width="128.79999999999998" height="83.2"/></clipPath>
<g clip-path="url(#c3)">
<path d="M196.10,355.96 L196.63,355.96 L197.16,355.95 L197.70,355.95 L198.23,355.94 L198.76,355.93 L199.29,355.93 L199.83,355.92 L200.36,355.91 L200.89,355.90 L201.42,355.88 L201.96,355.87 L202.49,355.85 L203.02,355.84 L203.56,355.82 L204.09,355.80 L204.62,355.78 L205.15,355.75 L205.69,355.72 L206.22,355.69 L206.75,355.66 L207.28,355.62 L207.81,355.59 L208.35,355.54 L208.88,355.49 L209.41,355.44 L209.94,355.39 L210.48,355.33 L211.01,355.26 L211.54,355.19 L212.07,355.11 L212.61,355.02 L213.14,354.93 L213.67,354.83 L214.20,354.72 L214.74,354.61 L215.27,354.48 L215.80,354.35 L216.33,354.20 L216.87,354.04 L217.40,353.88 L217.93,353.70 L218.47,353.50 L219.00,353.30 L219.53,353.08 L220.06,352.84 L220.59,352.59 L221.13,352.33 L221.66,352.05 L222.19,351.75 L222.72,351.43 L223.26,351.09 L223.79,350.73 L224.32,350.36 L224.85,349.96 L225.39,349.54 L225.92,349.09 L226.45,348.63 L226.98,348.14 L227.52,347.63 L228.05,347.09 L228.58,346.53 L229.11,345.94 L229.65,345.33 L230.18,344.69 L230.71,344.02 L231.25,343.33 L231.78,342.61 L232.31,341.87 L232.84,341.09 L233.38,340.30 L233.91,339.47 L234.44,338.62 L234.97,337.75 L235.50,336.84 L236.04,335.92 L236.57,334.97 L237.10,334.00 L237.63,333.01 L238.17,331.99 L238.70,330.96 L239.23,329.91 L239.76,328.84 L240.30,327.75 L240.83,326.65 L241.36,325.54 L241.89,324.42 L242.43,323.29 L242.96,322.16 L243.49,321.01 L244.02,319.87 L244.56,318.73 L245.09,317.59 L245.62,316.45 L246.15,315.32 L246.69,314.20 L247.22,313.10 L247.75,312.01 L248.28,310.93 L248.82,309.88 L249.35,308.84 L249.88,307.84 L250.41,306.86 L250.95,305.91 L251.48,304.99 L252.01,304.11 L252.54,303.27 L253.08,302.46 L253.61,301.70 L254.14,300.99 L254.67,300.32 L255.21,299.69 L255.74,299.12 L256.27,298.60 L256.81,298.13 L257.34,297.72 L257.87,297.36 L258.40,297.06 L258.94,296.82 L259.47,296.64 L260.00,296.51 L260.53,296.44 L261.06,296.44 L261.60,296.49 L262.13,296.61 L262.66,296.78 L263.19,297.01 L263.73,297.30 L264.26,297.64 L264.79,298.05 L265.32,298.50 L265.86,299.01 L266.39,299.57 L266.92,300.19 L267.45,300.85 L267.99,301.56 L268.52,302.31 L269.05,303.10 L269.58,303.94 L270.12,304.81 L270.65,305.72 L271.18,306.67 L271.71,307.64 L272.25,308.64 L272.78,309.67 L273.31,310.72 L273.84,311.79 L274.38,312.88 L274.91,313.98 L275.44,315.10 L275.97,316.23 L276.51,317.36 L277.04,318.50 L277.57,319.64 L278.10,320.79 L278.64,321.93 L279.17,323.06 L279.70,324.20 L280.24,325.32 L280.77,326.43 L281.30,327.53 L281.83,328.62 L282.37,329.69 L282.90,330.75 L283.43,331.79 L283.96,332.80 L284.50,333.80 L285.03,334.78 L285.56,335.73 L286.09,336.66 L286.62,337.57 L287.16,338.45 L287.69,339.30 L288.22,340.13 L288.75,340.94 L289.29,341.71 L289.82,342.47 L290.35,343.19 L290.88,343.89 L291.42,344.56 L291.95,345.20 L292.48,345.82 L293.01,346.41 L293.55,346.98 L294.08,347.52 L294.61,348.04 L295.14,348.53 L295.68,349.00 L296.21,349.45 L296.74,349.87 L297.27,350.28 L297.81,350.66 L298.34,351.02 L298.87,351.36 L299.40,351.68 L299.94,351.99 L300.47,352.27 L301.00,352.54 L301.53,352.80 L302.07,353.03 L302.60,353.26 L303.13,353.46 L303.66,353.66 L304.20,353.84 L304.73,354.01 L305.26,354.17 L305.79,354.32 L306.33,354.45 L306.86,354.58 L307.39,354.70 L307.92,354.81 L308.46,354.91 L308.99,355.00 L309.52,355.09 L310.05,355.17 L310.59,355.24 L311.12,355.31 L311.65,355.38 L312.19,355.43 L312.72,355.48 L313.25,355.53 L313.78,355.58 L314.31,355.62 L314.85,355.65 L315.38,355.69 L315.91,355.72 L316.44,355.75 L316.98,355.77 L317.51,355.79 L318.04,355.82 L318.57,355.83 L319.11,355.85 L319.64,355.87 L320.17,355.88 L320.70,355.89 L321.24,355.90 L321.77,355.92 L322.30,355.92 L322.83,355.93 L323.37,355.94 L323.90,355.95" fill="none" stroke="#0000ff" stroke-width="1.3"/>
<path d="M196.10,277.33 L196.63,278.57 L197.16,279.80 L197.70,281.02 L198.23,282.23 L198.76,283.43 L199.29,284.62 L199.83,285.80 L200.36,286.97 L200.89,288.13 L201.42,289.27 L201.96,290.41 L202.49,291.54 L203.02,292.66 L203.56,293.77 L204.09,294.86 L204.62,295.95 L205.15,297.03 L205.69,298.09 L206.22,299.15 L206.75,300.19 L207.28,301.23 L207.81,302.25 L208.35,303.27 L208.88,304.27 L209.41,305.27 L209.94,306.25 L210.48,307.22 L211.01,308.19 L211.54,309.14 L212.07,310.08 L212.61,311.02 L213.14,311.94 L213.67,312.85 L214.20,313.75 L214.74,314.64 L215.27,315.52 L215.80,316.40 L216.33,317.26 L216.87,318.11 L217.40,318.95 L217.93,319.78 L218.47,320.60 L219.00,321.40 L219.53,322.20 L220.06,322.99 L220.59,323.77 L221.13,324.54 L221.66,325.30 L222.19,326.04 L222.72,326.78 L223.26,327.51 L223.79,328.22 L224.32,328.93 L224.85,329.63 L225.39,330.31 L225.92,330.99 L226.45,331.65 L226.98,332.31 L227.52,332.95 L228.05,333.59 L228.58,334.21 L229.11,334.82 L229.65,335.43 L230.18,336.02 L230.71,336.60 L231.25,337.18 L231.78,337.74 L232.31,338.29 L232.84,338.83 L233.38,339.36 L233.91,339.89 L234.44,340.40 L234.97,340.90 L235.50,341.39 L236.04,341.87 L236.57,342.34 L237.10,342.80 L237.63,343.25 L238.17,343.69 L238.70,344.11 L239.23,344.53 L239.76,344.94 L240.30,345.34 L240.83,345.73 L241.36,346.10 L241.89,346.47 L242.43,346.83 L242.96,347.17 L243.49,347.51 L244.02,347.84 L244.56,348.15 L245.09,348.46 L245.62,348.75 L246.15,349.04 L246.69,349.31 L247.22,349.58 L247.75,349.83 L248.28,350.07 L248.82,350.31 L249.35,350.53 L249.88,350.74 L250.41,350.95 L250.95,351.14 L251.48,351.32 L252.01,351.49 L252.54,351.65 L253.08,351.80 L253.61,351.95 L254.14,352.08 L254.67,352.20 L255.21,352.31 L255.74,352.41 L256.27,352.50 L256.81,352.57 L257.34,352.64 L257.87,352.70 L258.40,352.75 L258.94,352.79 L259.47,352.82 L260.00,352.83 L260.53,352.84 L261.06,352.84 L261.60,352.82 L262.13,352.80 L262.66,352.77 L263.19,352.72 L263.73,352.67 L264.26,352.60 L264.79,352.53 L265.32,352.44 L265.86,352.35 L266.39,352.24 L266.92,352.13 L267.45,352.00 L267.99,351.86 L268.52,351.71 L269.05,351.56 L269.58,351.39 L270.12,351.21 L270.65,351.02 L271.18,350.83 L271.71,350.62 L272.25,350.40 L272.78,350.17 L273.31,349.93 L273.84,349.68 L274.38,349.42 L274.91,349.15 L275.44,348.87 L275.97,348.58 L276.51,348.28 L277.04,347.96 L277.57,347.64 L278.10,347.31 L278.64,346.97 L279.17,346.62 L279.70,346.25 L280.24,345.88 L280.77,345.50 L281.30,345.10 L281.83,344.70 L282.37,344.28 L282.90,343.86 L283.43,343.42 L283.96,342.98 L284.50,342.52 L285.03,342.06 L285.56,341.58 L286.09,341.10 L286.62,340.60 L287.16,340.09 L287.69,339.57 L288.22,339.05 L288.75,338.51 L289.29,337.96 L289.82,337.40 L290.35,336.83 L290.88,336.26 L291.42,335.67 L291.95,335.07 L292.48,334.46 L293.01,333.84 L293.55,333.21 L294.08,332.57 L294.61,331.92 L295.14,331.26 L295.68,330.58 L296.21,329.90 L296.74,329.21 L297.27,328.51 L297.81,327.80 L298.34,327.07 L298.87,326.34 L299.40,325.60 L299.94,324.84 L300.47,324.08 L301.00,323.30 L301.53,322.52 L302.07,321.73 L302.60,320.92 L303.13,320.10 L303.66,319.28 L304.20,318.44 L304.73,317.60 L305.26,316.74 L305.79,315.87 L306.33,315.00 L306.86,314.11 L307.39,313.21 L307.92,312.30 L308.46,311.38 L308.99,310.46 L309.52,309.52 L310.05,308.57 L310.59,307.61 L311.12,306.63 L311.65,305.65 L312.19,304.66 L312.72,303.66 L313.25,302.64 L313.78,301.61 L314.31,300.58 L314.85,299.53 L315.38,298.46 L315.91,297.38 L316.44,296.29 L316.98,295.18 L317.51,294.06 L318.04,292.91 L318.57,291.75 L319.11,290.56 L319.64,289.33 L320.17,288.08 L320.70,286.78 L321.24,285.43 L321.77,284.02 L322.30,282.52 L322.83,280.94 L323.37,279.23 L323.90,277.36" fill="none" stroke="#ff0000" stroke-width="1.3"/>
</g>
<path d="M195.79999999999998,356.0H206.8M313.2,356.0H324.2" stroke="#22227a" stroke-width="1.4" fill="none"/>
<text class="ty" x="192.2" y="359.70" text-anchor="end">0</text>
<text class="ty" x="192.2" y="322.00" text-anchor="end">1</text>
<text class="ty" x="192.2" y="284.30" text-anchor="end">2</text>
<text class="ty" x="328.09999999999997" y="360.20">-6</text>
<text class="ty" x="328.09999999999997" y="336.80">-4</text>
<text class="ty" x="328.09999999999997" y="313.40">-2</text>
<text class="ty" x="328.09999999999997" y="290.00">0</text>
</g>
<text class="tk" x="41.41" y="8.4" text-anchor="middle">-800</text>
<text class="tk" x="41.41" y="367.8" text-anchor="middle">-800</text>
<text class="tk" x="69.86" y="8.4" text-anchor="middle">-400</text>
<text class="tk" x="69.86" y="367.8" text-anchor="middle">-400</text>
<text class="tk" x="98.60" y="8.4" text-anchor="middle">0</text>
<text class="tk" x="98.60" y="367.8" text-anchor="middle">0</text>
<text class="tk" x="127.04" y="8.4" text-anchor="middle">400</text>
<text class="tk" x="127.04" y="367.8" text-anchor="middle">400</text>
<text class="tk" x="155.49" y="8.4" text-anchor="middle">800</text>
<text class="tk" x="155.49" y="367.8" text-anchor="middle">800</text>
<text class="tk" x="196.10" y="8.4" text-anchor="middle">0</text>
<text class="tk" x="196.10" y="367.8" text-anchor="middle">0</text>
<text class="tk" x="217.40" y="8.4" text-anchor="middle">10</text>
<text class="tk" x="217.40" y="367.8" text-anchor="middle">10</text>
<text class="tk" x="238.70" y="8.4" text-anchor="middle">20</text>
<text class="tk" x="238.70" y="367.8" text-anchor="middle">20</text>
<text class="tk" x="260.00" y="8.4" text-anchor="middle">30</text>
<text class="tk" x="260.00" y="367.8" text-anchor="middle">30</text>
<text class="tk" x="281.30" y="8.4" text-anchor="middle">40</text>
<text class="tk" x="281.30" y="367.8" text-anchor="middle">40</text>
<text class="tk" x="302.60" y="8.4" text-anchor="middle">50</text>
<text class="tk" x="302.60" y="367.8" text-anchor="middle">50</text>
<text class="tk" x="323.90" y="8.4" text-anchor="middle">60</text>
<text class="tk" x="323.90" y="367.8" text-anchor="middle">60</text>
<rect x="126.4" y="19.3" width="111.4" height="17" fill="#fff" stroke="#222" stroke-width="1"/>
<text class="lg" y="32"><tspan x="136">CEP=0;</tspan><tspan x="185.2">no chirp</tspan></text>
<rect x="126.4" y="100.2" width="111.4" height="16.6" fill="#fff" stroke="#222" stroke-width="1"/>
<text class="lg" y="112"><tspan x="136">CEP=</tspan><tspan x="163.9" font-size="15">π</tspan><tspan x="172.6">/2;</tspan><tspan x="189.4">no chirp</tspan></text>
<rect x="117.0" y="199.1" width="127.3" height="12.0" fill="#fff" stroke="#222" stroke-width="1"/>
<text class="lg" y="207.6"><tspan x="123.8">CEP=</tspan><tspan x="151.3" font-size="15">π</tspan><tspan x="159.9">/2;</tspan><tspan x="178.9">positive chirp</tspan></text>
<rect x="117.0" y="281.4" width="127.3" height="12" fill="#fff" stroke="#222" stroke-width="1"/>
<text class="lg" y="291.4"><tspan x="119.2">CEP=</tspan><tspan x="146.8" font-size="15">π</tspan><tspan x="155.6">/2;</tspan><tspan x="169.9">negative chirp</tspan></text>
<text class="pl" x="293.9" y="34.3">(a)</text>
<text class="pl" x="294.8" y="120.8">(b)</text>
<text class="pl" x="295.8" y="206.0">(c)</text>
<text class="pl" x="294.8" y="292.5">(d)</text>
<text class="ax" x="99" y="381" text-anchor="middle">t (as)</text>
<text class="ax" x="260" y="381" text-anchor="middle">ω (eV)</text>
<text class="yl" fill="#0000ff" transform="translate(14.1,199.2) rotate(-90) scale(1.0,1)">E(t) (10<tspan dy="-8" dx="0.3" font-size="8.3">-3</tspan><tspan dy="8" dx="1.2"> a.u.)</tspan></text>
<text class="yl" fill="#0000ff" transform="translate(182,197.3) rotate(-90) scale(0.85,1)">|E(ω)|<tspan dx="3.4"> (10</tspan><tspan dy="-8" dx="0.3" font-size="8.3">-2</tspan><tspan dy="8" dx="1.2"> a.u.)</tspan></text>
<text class="yl" fill="#0000ff" transform="translate(175.0,195.3) rotate(-90) scale(1,1.08)" style="font-size:17px">~</text>
<text class="yl" fill="#ff0000" transform="translate(346.8,193.9) rotate(-90) scale(1.0,1)">φ(ω)/π</text>
</svg>
</body></html>
